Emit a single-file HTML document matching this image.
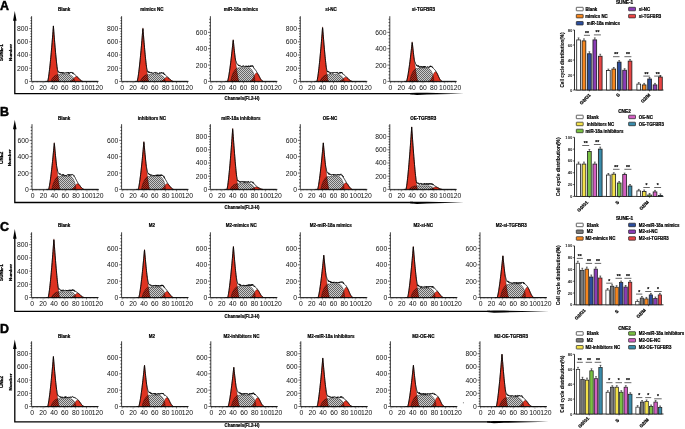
<!DOCTYPE html>
<html><head><meta charset="utf-8"><style>
html,body{margin:0;padding:0;background:#fff;width:685px;height:429px;overflow:hidden;}
svg text{font-family:"Liberation Sans", sans-serif;}
</style></head><body>
<svg width="685" height="429" viewBox="0 0 685 429" style="display:block;will-change:transform;font-family:&quot;Liberation Sans&quot;, sans-serif">
<defs><pattern id="hatch" width="2" height="2" patternUnits="userSpaceOnUse"><rect x="0" y="0" width="2" height="2" fill="rgba(0,0,0,0.2)"/><rect x="0" y="0" width="1" height="1" fill="rgba(0,0,0,0.5)"/><rect x="1" y="1" width="1" height="1" fill="rgba(0,0,0,0.5)"/></pattern></defs>
<rect width="685" height="429" fill="#fff"/>
<text x="-0.1" y="9.8" font-size="12.4" font-weight="bold" stroke="#000" stroke-width="0.5">A</text>
<path d="M14.8 17.1 V93.6 H413" fill="none" stroke="#000" stroke-width="1.3"/>
<path d="M14.8 11.1 L13.05 20.7 L16.55 20.7 Z" fill="#000"/>
<path d="M410 92.95 L417 92.75 L427 92.8 L464 93.65 L427 94.6 L417 95.05 L410 94.25 Z" fill="#000"/>
<text x="2.7" y="52.5" font-size="4.6" font-weight="bold" text-anchor="middle" transform="rotate(-90 2.7 52.5)" stroke="#000" stroke-width="0.25">SUNE-1</text>
<text x="11.5" y="52.5" font-size="4.4" font-weight="bold" text-anchor="middle" textLength="17" lengthAdjust="spacingAndGlyphs" transform="rotate(-90 11.5 52.5)" stroke="#000" stroke-width="0.2">Number</text>
<text x="242" y="100.3" font-size="4.9" font-weight="bold" text-anchor="middle" textLength="34.8" lengthAdjust="spacingAndGlyphs" stroke="#000" stroke-width="0.22">Channels(FL2-H)</text>
<path d="M47.5 81.4 L47.5 81.4 L47.65 81.33 L47.8 80.92 L47.94 80.34 L48.09 79.66 L48.24 78.88 L48.39 78.02 L48.53 77.1 L48.68 76.12 L48.83 75.09 L48.98 74 L49.12 72.87 L49.27 71.69 L49.42 70.47 L49.56 69.2 L49.71 67.9 L49.86 66.57 L50.01 65.19 L50.16 63.79 L50.3 62.35 L50.45 60.88 L50.6 59.37 L50.75 57.84 L50.89 56.28 L51.04 54.69 L51.19 53.07 L51.34 51.43 L51.48 49.76 L51.63 48.06 L51.78 46.34 L51.93 44.6 L52.07 42.83 L52.22 41.04 L52.37 39.22 L52.52 37.38 L52.66 35.52 L52.81 33.64 L52.96 31.74 L53.11 29.81 L53.25 27.87 L53.4 25.9 L53.55 27.87 L53.7 29.81 L53.84 31.74 L53.99 33.64 L54.14 35.52 L54.29 37.38 L54.43 39.22 L54.58 41.04 L54.73 42.83 L54.88 44.6 L55.02 46.34 L55.17 48.06 L55.32 49.76 L55.47 51.43 L55.61 53.07 L55.76 54.69 L55.91 56.28 L56.06 57.84 L56.2 59.37 L56.35 60.88 L56.5 62.35 L56.65 63.79 L56.79 65.19 L56.94 66.57 L57.09 67.9 L57.24 69.2 L57.38 70.47 L57.53 71.69 L57.68 72.87 L57.83 74 L57.97 75.09 L58.12 76.12 L58.27 77.1 L58.42 78.02 L58.56 78.88 L58.71 79.66 L58.86 80.34 L59.01 80.92 L59.15 81.33 L59.3 81.4 L59.3 81.4 Z" fill="#de3321" stroke="#4a140c" stroke-width="0.5"/>
<path d="M69.7 81.4 L69.7 81.4 L69.87 81.36 L70.03 81.31 L70.19 81.26 L70.36 81.2 L70.53 81.14 L70.69 81.07 L70.86 80.99 L71.02 80.91 L71.19 80.81 L71.35 80.71 L71.52 80.6 L71.68 80.48 L71.84 80.36 L72.01 80.22 L72.18 80.08 L72.34 79.93 L72.5 79.77 L72.67 79.61 L72.84 79.44 L73 79.26 L73.17 79.08 L73.33 78.89 L73.5 78.71 L73.66 78.52 L73.83 78.33 L73.99 78.15 L74.16 77.97 L74.32 77.79 L74.49 77.62 L74.65 77.46 L74.81 77.31 L74.98 77.17 L75.15 77.04 L75.31 76.93 L75.47 76.83 L75.64 76.75 L75.81 76.68 L75.97 76.64 L76.14 76.61 L76.3 76.6 L76.47 76.61 L76.63 76.64 L76.8 76.68 L76.96 76.75 L77.12 76.83 L77.29 76.93 L77.46 77.04 L77.62 77.17 L77.78 77.31 L77.95 77.46 L78.12 77.62 L78.28 77.79 L78.44 77.97 L78.61 78.15 L78.78 78.33 L78.94 78.52 L79.11 78.71 L79.27 78.89 L79.44 79.08 L79.6 79.26 L79.77 79.44 L79.93 79.61 L80.09 79.77 L80.26 79.93 L80.43 80.08 L80.59 80.22 L80.75 80.36 L80.92 80.48 L81.09 80.6 L81.25 80.71 L81.42 80.81 L81.58 80.91 L81.75 80.99 L81.91 81.07 L82.08 81.14 L82.24 81.2 L82.41 81.26 L82.57 81.31 L82.74 81.36 L82.9 81.4 L82.9 81.4 Z" fill="#de3321" stroke="#4a140c" stroke-width="0.5"/>
<path d="M51 81.4 L51 81.4 L51.3 80.4 L51.59 79.74 L51.89 79.19 L52.18 78.71 L52.48 78.27 L52.77 77.88 L53.07 77.52 L53.36 77.19 L53.66 76.88 L53.95 76.59 L54.25 76.33 L54.54 76.08 L54.84 75.86 L55.13 75.66 L55.43 75.48 L55.72 75.31 L56.02 75.17 L56.31 75.04 L56.61 74.93 L56.9 74.84 L57.2 74.77 L57.49 74.72 L57.79 74.68 L58.08 74.67 L58.38 74.65 L58.67 74.64 L58.97 74.63 L59.26 74.62 L59.56 74.61 L59.85 74.6 L60.15 74.59 L60.44 74.58 L60.73 74.57 L61.03 74.56 L61.33 74.55 L61.62 74.55 L61.92 74.54 L62.21 74.54 L62.51 74.53 L62.8 74.53 L63.09 74.52 L63.39 74.52 L63.69 74.51 L63.98 74.51 L64.28 74.51 L64.57 74.51 L64.87 74.51 L65.16 74.51 L65.46 74.51 L65.75 74.51 L66.05 74.52 L66.34 74.52 L66.64 74.52 L66.93 74.53 L67.22 74.53 L67.52 74.54 L67.81 74.54 L68.11 74.55 L68.41 74.56 L68.7 74.58 L69 74.62 L69.29 74.67 L69.59 74.75 L69.88 74.84 L70.18 74.95 L70.47 75.08 L70.77 75.22 L71.06 75.39 L71.35 75.58 L71.65 75.79 L71.94 76.03 L72.24 76.3 L72.53 76.59 L72.83 76.92 L73.12 77.3 L73.42 77.73 L73.72 78.23 L74.01 78.83 L74.31 79.63 L74.6 81.4 L74.6 81.4 Z" fill="url(#hatch)" stroke="#111" stroke-width="0.45"/>
<path d="M45.4 81.4 L45.62 81.4 L45.83 81.4 L46.05 81.4 L46.26 81.4 L46.48 81.4 L46.7 81.4 L46.91 81.4 L47.13 81.4 L47.35 81.4 L47.56 81.4 L47.78 80.98 L47.99 80.11 L48.21 79.03 L48.43 77.77 L48.64 76.38 L48.86 74.86 L49.07 73.24 L49.29 71.52 L49.51 69.71 L49.72 67.81 L49.94 65.83 L50.16 63.78 L50.37 61.66 L50.59 59.47 L50.8 57.22 L51.02 54.91 L51.24 52.53 L51.45 50.1 L51.67 47.62 L51.88 45.08 L52.1 42.49 L52.32 39.85 L52.53 37.16 L52.75 34.42 L52.97 31.63 L53.18 28.8 L53.4 25.93 L53.61 28.74 L53.83 31.57 L54.05 34.36 L54.26 37.1 L54.48 39.79 L54.69 42.43 L54.91 45.02 L55.13 47.55 L55.34 50.02 L55.56 52.43 L55.78 54.76 L55.99 56.99 L56.21 59.09 L56.42 61.16 L56.64 63.14 L56.86 64.98 L57.07 66.65 L57.29 68.12 L57.5 69.56 L57.72 70.71 L57.94 70.62 L58.15 71.81 L58.37 71.4 L58.59 71.79 L58.8 72.35 L59.02 71.84 L59.23 72.62 L59.45 72.19 L59.67 72.82 L59.88 72.91 L60.1 72.56 L60.31 72.12 L60.53 73.22 L60.75 73.2 L60.96 72.72 L61.18 72.27 L61.4 72.79 L61.61 73.04 L61.83 72.23 L62.04 73.53 L62.26 72.4 L62.48 73.19 L62.69 73.4 L62.91 73.44 L63.12 73.17 L63.34 72.46 L63.56 73.35 L63.77 72.79 L63.99 72.71 L64.21 73.08 L64.42 72.83 L64.64 73.51 L64.85 73.52 L65.07 73.31 L65.29 72.65 L65.5 73 L65.72 73.16 L65.93 72.78 L66.15 72.97 L66.37 73.18 L66.58 72.49 L66.8 72.62 L67.02 73.26 L67.23 72.8 L67.45 72.86 L67.66 72.37 L67.88 72.58 L68.1 73.2 L68.31 72.23 L68.53 73.43 L68.74 73.01 L68.96 72.54 L69.18 73.39 L69.39 72.92 L69.61 73.55 L69.83 72.65 L70.04 72.49 L70.26 72.73 L70.47 72.28 L70.69 73.03 L70.91 72.45 L71.12 72.55 L71.34 72.52 L71.55 72.67 L71.77 72.15 L71.99 72.06 L72.2 72.8 L72.42 72.65 L72.64 73.63 L72.85 72.88 L73.07 73.11 L73.28 72.79 L73.5 73.2 L73.72 74.12 L73.93 74.15 L74.15 74.16 L74.36 74.32 L74.58 74.48 L74.8 74.64 L75.01 74.8 L75.23 74.96 L75.45 75.12 L75.66 75.29 L75.88 75.47 L76.09 75.65 L76.31 75.85 L76.53 76.05 L76.74 76.27 L76.96 76.49 L77.17 76.71 L77.39 76.93 L77.61 77.14 L77.82 77.34 L78.04 77.55 L78.26 77.77 L78.47 78 L78.69 78.24 L78.9 78.48 L79.12 78.72 L79.34 78.97 L79.55 79.21 L79.77 79.44 L79.98 79.66 L80.2 79.87 L80.42 80.07 L80.63 80.26 L80.85 80.43 L81.07 80.59 L81.28 80.73 L81.5 80.86 L81.71 80.98 L81.93 81.08 L82.15 81.17 L82.36 81.25 L82.58 81.31 L82.79 81.37 L83.01 81.4 L83.23 81.4 L83.44 81.4 L83.66 81.4 L83.88 81.4 L84.09 81.4 L84.31 81.4 L84.52 81.4 L84.74 81.4 L84.96 81.4 L85.17 81.4 L85.39 81.4 L85.6 81.4 L85.82 81.4 L86.04 81.4 L86.25 81.4 L86.47 81.4 L86.69 81.4 L86.9 81.4 L87.12 81.4 L87.33 81.4 L87.55 81.4 L87.77 81.4 L87.98 81.4 L88.2 81.4 L88.41 81.4 L88.63 81.4 L88.85 81.4 L89.06 81.4 L89.28 81.4 L89.5 81.4 L89.71 81.4 L89.93 81.4 L90.14 81.4 L90.36 81.4 L90.58 81.4 L90.79 81.4 L91.01 81.4 L91.22 81.4 L91.44 81.4 L91.66 81.4 L91.87 81.4 L92.09 81.4 L92.31 81.4 L92.52 81.4 L92.74 81.4 L92.95 81.4 L93.17 81.4 L93.39 81.4 L93.6 81.4 L93.82 81.4 L94.03 81.4 L94.25 81.4 L94.47 81.4 L94.68 81.4 L94.9 81.4 L95.12 81.4 L95.33 81.4 L95.55 81.4 L95.76 81.4 L95.98 81.4 L96.2 81.4 L96.41 81.4 L96.63 81.4 L96.84 81.4 L97.06 81.4 L97.28 81.4 L97.49 81.4" fill="none" stroke="#000" stroke-width="0.85"/>
<path d="M31.6 16.2 V81.4 H98.6" fill="none" stroke="#000" stroke-width="0.75"/>
<path d="M29.2 81.4 h2.4 M30.3 78.76 h1.3 M30.3 76.12 h1.3 M30.3 73.48 h1.3 M30.3 70.84 h1.3 M29.2 68.2 h2.4 M30.3 65.56 h1.3 M30.3 62.92 h1.3 M30.3 60.28 h1.3 M30.3 57.64 h1.3 M29.2 55 h2.4 M30.3 52.36 h1.3 M30.3 49.72 h1.3 M30.3 47.08 h1.3 M30.3 44.44 h1.3 M29.2 41.8 h2.4 M30.3 39.16 h1.3 M30.3 36.52 h1.3 M30.3 33.88 h1.3 M30.3 31.24 h1.3 M29.2 28.6 h2.4 M30.3 25.96 h1.3 M30.3 23.32 h1.3 M30.3 20.68 h1.3 M30.3 18.04 h1.3 M32.2 81.4 v1.9 M33.56 81.4 v1.1 M34.92 81.4 v1.1 M36.28 81.4 v1.1 M37.64 81.4 v1.1 M38.99 81.4 v1.1 M40.35 81.4 v1.1 M41.71 81.4 v1.1 M43.07 81.4 v1.9 M44.43 81.4 v1.1 M45.79 81.4 v1.1 M47.15 81.4 v1.1 M48.51 81.4 v1.1 M49.86 81.4 v1.1 M51.22 81.4 v1.1 M52.58 81.4 v1.1 M53.94 81.4 v1.9 M55.3 81.4 v1.1 M56.66 81.4 v1.1 M58.02 81.4 v1.1 M59.38 81.4 v1.1 M60.73 81.4 v1.1 M62.09 81.4 v1.1 M63.45 81.4 v1.1 M64.81 81.4 v1.9 M66.17 81.4 v1.1 M67.53 81.4 v1.1 M68.89 81.4 v1.1 M70.25 81.4 v1.1 M71.6 81.4 v1.1 M72.96 81.4 v1.1 M74.32 81.4 v1.1 M75.68 81.4 v1.9 M77.04 81.4 v1.1 M78.4 81.4 v1.1 M79.76 81.4 v1.1 M81.12 81.4 v1.1 M82.47 81.4 v1.1 M83.83 81.4 v1.1 M85.19 81.4 v1.1 M86.55 81.4 v1.9 M87.91 81.4 v1.1 M89.27 81.4 v1.1 M90.63 81.4 v1.1 M91.98 81.4 v1.1 M93.34 81.4 v1.1 M94.7 81.4 v1.1 M96.06 81.4 v1.1 M97.42 81.4 v1.9" stroke="#000" stroke-width="0.6" fill="none"/>
<text x="28.4" y="83.85" font-size="6.8" text-anchor="end" fill="#111">0</text>
<text x="28.4" y="70.65" font-size="6.8" text-anchor="end" fill="#111">200</text>
<text x="28.4" y="57.45" font-size="6.8" text-anchor="end" fill="#111">400</text>
<text x="28.4" y="44.25" font-size="6.8" text-anchor="end" fill="#111">600</text>
<text x="28.4" y="31.05" font-size="6.8" text-anchor="end" fill="#111">800</text>
<text x="32.2" y="89.9" font-size="6.8" text-anchor="middle" fill="#111">0</text>
<text x="43.07" y="89.9" font-size="6.8" text-anchor="middle" fill="#111">20</text>
<text x="53.94" y="89.9" font-size="6.8" text-anchor="middle" fill="#111">40</text>
<text x="64.81" y="89.9" font-size="6.8" text-anchor="middle" fill="#111">60</text>
<text x="75.68" y="89.9" font-size="6.8" text-anchor="middle" fill="#111">80</text>
<text x="86.55" y="89.9" font-size="6.8" text-anchor="middle" fill="#111">100</text>
<text x="97.42" y="89.9" font-size="6.8" text-anchor="middle" fill="#111">120</text>
<text x="64.1" y="10.5" font-size="5" font-weight="bold" text-anchor="middle" textLength="12.25" lengthAdjust="spacingAndGlyphs" stroke="#000" stroke-width="0.22">Blank</text>
<path d="M137 81.4 L137 81.4 L137.15 81.34 L137.29 80.94 L137.44 80.38 L137.59 79.72 L137.74 78.97 L137.88 78.15 L138.03 77.26 L138.18 76.31 L138.33 75.32 L138.47 74.27 L138.62 73.18 L138.77 72.04 L138.92 70.86 L139.06 69.64 L139.21 68.39 L139.36 67.1 L139.51 65.78 L139.66 64.42 L139.8 63.03 L139.95 61.61 L140.1 60.17 L140.25 58.69 L140.39 57.18 L140.54 55.65 L140.69 54.09 L140.83 52.51 L140.98 50.9 L141.13 49.26 L141.28 47.61 L141.43 45.92 L141.57 44.22 L141.72 42.49 L141.87 40.74 L142.01 38.97 L142.16 37.18 L142.31 35.36 L142.46 33.53 L142.6 31.67 L142.75 29.8 L142.9 27.9 L143.05 29.8 L143.19 31.67 L143.34 33.53 L143.49 35.36 L143.64 37.18 L143.78 38.97 L143.93 40.74 L144.08 42.49 L144.23 44.22 L144.38 45.92 L144.52 47.61 L144.67 49.26 L144.82 50.9 L144.97 52.51 L145.11 54.09 L145.26 55.65 L145.41 57.18 L145.56 58.69 L145.7 60.17 L145.85 61.61 L146 63.03 L146.14 64.42 L146.29 65.78 L146.44 67.1 L146.59 68.39 L146.74 69.64 L146.88 70.86 L147.03 72.04 L147.18 73.18 L147.32 74.27 L147.47 75.32 L147.62 76.31 L147.77 77.26 L147.91 78.15 L148.06 78.97 L148.21 79.72 L148.36 80.38 L148.5 80.94 L148.65 81.34 L148.8 81.4 L148.8 81.4 Z" fill="#de3321" stroke="#4a140c" stroke-width="0.5"/>
<path d="M160.3 81.4 L160.3 81.4 L160.46 81.36 L160.63 81.32 L160.79 81.28 L160.96 81.23 L161.12 81.17 L161.29 81.11 L161.45 81.04 L161.62 80.97 L161.78 80.89 L161.95 80.8 L162.11 80.7 L162.28 80.6 L162.44 80.49 L162.61 80.37 L162.77 80.24 L162.94 80.11 L163.1 79.97 L163.27 79.83 L163.44 79.68 L163.6 79.53 L163.76 79.37 L163.93 79.21 L164.09 79.04 L164.26 78.88 L164.42 78.72 L164.59 78.56 L164.75 78.4 L164.92 78.24 L165.08 78.09 L165.25 77.95 L165.41 77.82 L165.58 77.7 L165.75 77.59 L165.91 77.49 L166.07 77.4 L166.24 77.33 L166.41 77.27 L166.57 77.23 L166.73 77.21 L166.9 77.2 L167.06 77.21 L167.23 77.23 L167.39 77.27 L167.56 77.33 L167.72 77.4 L167.89 77.49 L168.06 77.59 L168.22 77.7 L168.38 77.82 L168.55 77.95 L168.71 78.09 L168.88 78.24 L169.04 78.4 L169.21 78.56 L169.38 78.72 L169.54 78.88 L169.7 79.04 L169.87 79.21 L170.03 79.37 L170.2 79.53 L170.37 79.68 L170.53 79.83 L170.69 79.97 L170.86 80.11 L171.02 80.24 L171.19 80.37 L171.35 80.49 L171.52 80.6 L171.69 80.7 L171.85 80.8 L172.01 80.89 L172.18 80.97 L172.34 81.04 L172.51 81.11 L172.68 81.17 L172.84 81.23 L173 81.28 L173.17 81.32 L173.33 81.36 L173.5 81.4 L173.5 81.4 Z" fill="#de3321" stroke="#4a140c" stroke-width="0.5"/>
<path d="M140.5 81.4 L140.5 81.4 L140.81 80.37 L141.12 79.69 L141.43 79.12 L141.73 78.62 L142.04 78.18 L142.35 77.77 L142.66 77.41 L142.97 77.07 L143.28 76.76 L143.59 76.47 L143.9 76.2 L144.2 75.96 L144.51 75.74 L144.82 75.54 L145.13 75.36 L145.44 75.21 L145.75 75.07 L146.06 74.96 L146.37 74.86 L146.67 74.78 L146.98 74.73 L147.29 74.69 L147.6 74.67 L147.91 74.66 L148.22 74.65 L148.53 74.64 L148.84 74.63 L149.14 74.62 L149.45 74.6 L149.76 74.59 L150.07 74.59 L150.38 74.58 L150.69 74.57 L151 74.56 L151.31 74.55 L151.62 74.55 L151.92 74.54 L152.23 74.53 L152.54 74.53 L152.85 74.52 L153.16 74.52 L153.47 74.52 L153.78 74.51 L154.08 74.51 L154.39 74.51 L154.7 74.51 L155.01 74.51 L155.32 74.51 L155.63 74.51 L155.94 74.51 L156.25 74.52 L156.56 74.52 L156.86 74.52 L157.17 74.53 L157.48 74.53 L157.79 74.54 L158.1 74.54 L158.41 74.55 L158.72 74.56 L159.02 74.57 L159.33 74.59 L159.64 74.64 L159.95 74.7 L160.26 74.78 L160.57 74.88 L160.88 75 L161.19 75.14 L161.5 75.3 L161.8 75.49 L162.11 75.7 L162.42 75.93 L162.73 76.2 L163.04 76.5 L163.35 76.83 L163.66 77.21 L163.96 77.65 L164.27 78.16 L164.58 78.77 L164.89 79.58 L165.2 81.4 L165.2 81.4 Z" fill="url(#hatch)" stroke="#111" stroke-width="0.45"/>
<path d="M134.9 81.4 L135.12 81.4 L135.34 81.4 L135.55 81.4 L135.77 81.4 L135.99 81.4 L136.21 81.4 L136.43 81.4 L136.64 81.4 L136.86 81.4 L137.08 81.4 L137.3 80.92 L137.52 80.06 L137.73 78.98 L137.95 77.74 L138.17 76.37 L138.39 74.88 L138.61 73.29 L138.83 71.6 L139.04 69.82 L139.26 67.97 L139.48 66.03 L139.7 64.02 L139.92 61.95 L140.13 59.81 L140.35 57.6 L140.57 55.34 L140.79 53.02 L141.01 50.64 L141.22 48.21 L141.44 45.73 L141.66 43.19 L141.88 40.61 L142.1 37.98 L142.31 35.3 L142.53 32.58 L142.75 29.82 L142.97 28.79 L143.19 31.57 L143.41 34.31 L143.62 37 L143.84 39.65 L144.06 42.24 L144.28 44.79 L144.5 47.29 L144.71 49.73 L144.93 52.11 L145.15 54.41 L145.37 56.63 L145.59 58.73 L145.8 60.74 L146.02 62.69 L146.24 64.54 L146.46 66.23 L146.68 67.72 L146.89 68.98 L147.11 69.72 L147.33 71.31 L147.55 71.14 L147.77 71.83 L147.98 72.08 L148.2 72.29 L148.42 71.42 L148.64 72.44 L148.86 72.4 L149.07 72.32 L149.29 71.77 L149.51 72.99 L149.73 72.6 L149.95 72.58 L150.17 72.23 L150.38 72.44 L150.6 72.39 L150.82 73.21 L151.04 73.02 L151.26 73.1 L151.47 72.36 L151.69 72.26 L151.91 73.39 L152.13 73.35 L152.35 73.28 L152.56 73.27 L152.78 72.92 L153 72.78 L153.22 73.23 L153.44 73.59 L153.65 73.01 L153.87 73.08 L154.09 72.81 L154.31 72.27 L154.53 72.63 L154.75 72.88 L154.96 72.74 L155.18 72.65 L155.4 73.52 L155.62 72.34 L155.84 72.51 L156.05 72.38 L156.27 72.48 L156.49 73.05 L156.71 73.04 L156.93 73.46 L157.14 72.71 L157.36 73.51 L157.58 73.51 L157.8 73.31 L158.02 73.37 L158.23 73.12 L158.45 73.53 L158.67 73.6 L158.89 73.39 L159.11 73.46 L159.32 73.09 L159.54 73.56 L159.76 72.38 L159.98 72.74 L160.2 73.39 L160.41 73.24 L160.63 73.08 L160.85 73.03 L161.07 73.34 L161.29 72.3 L161.51 72.06 L161.72 72.75 L161.94 72.68 L162.16 73.23 L162.38 73.23 L162.6 72.96 L162.81 73.17 L163.03 72.51 L163.25 73.6 L163.47 73.96 L163.69 72.84 L163.9 73.62 L164.12 74.36 L164.34 74 L164.56 74.92 L164.78 74.46 L164.99 74.66 L165.21 74.85 L165.43 75.05 L165.65 75.24 L165.87 75.43 L166.08 75.63 L166.3 75.83 L166.52 76.03 L166.74 76.24 L166.96 76.45 L167.18 76.66 L167.39 76.88 L167.61 77.1 L167.83 77.32 L168.05 77.53 L168.27 77.72 L168.48 77.9 L168.7 78.08 L168.92 78.28 L169.14 78.49 L169.36 78.7 L169.57 78.91 L169.79 79.13 L170.01 79.34 L170.23 79.55 L170.45 79.76 L170.66 79.95 L170.88 80.13 L171.1 80.3 L171.32 80.46 L171.54 80.61 L171.75 80.74 L171.97 80.86 L172.19 80.97 L172.41 81.07 L172.63 81.15 L172.85 81.23 L173.06 81.29 L173.28 81.35 L173.5 81.4 L173.72 81.4 L173.94 81.4 L174.15 81.4 L174.37 81.4 L174.59 81.4 L174.81 81.4 L175.03 81.4 L175.24 81.4 L175.46 81.4 L175.68 81.4 L175.9 81.4 L176.12 81.4 L176.33 81.4 L176.55 81.4 L176.77 81.4 L176.99 81.4 L177.21 81.4 L177.43 81.4 L177.64 81.4 L177.86 81.4 L178.08 81.4 L178.3 81.4 L178.52 81.4 L178.73 81.4 L178.95 81.4 L179.17 81.4 L179.39 81.4 L179.61 81.4 L179.82 81.4 L180.04 81.4 L180.26 81.4 L180.48 81.4 L180.7 81.4 L180.91 81.4 L181.13 81.4 L181.35 81.4 L181.57 81.4 L181.79 81.4 L182 81.4 L182.22 81.4 L182.44 81.4 L182.66 81.4 L182.88 81.4 L183.09 81.4 L183.31 81.4 L183.53 81.4 L183.75 81.4 L183.97 81.4 L184.19 81.4 L184.4 81.4 L184.62 81.4 L184.84 81.4 L185.06 81.4 L185.28 81.4 L185.49 81.4 L185.71 81.4 L185.93 81.4 L186.15 81.4 L186.37 81.4 L186.58 81.4 L186.8 81.4 L187.02 81.4 L187.24 81.4 L187.46 81.4" fill="none" stroke="#000" stroke-width="0.85"/>
<path d="M121.6 16.2 V81.4 H188.6" fill="none" stroke="#000" stroke-width="0.75"/>
<path d="M119.2 81.4 h2.4 M120.3 78.76 h1.3 M120.3 76.12 h1.3 M120.3 73.48 h1.3 M120.3 70.84 h1.3 M119.2 68.2 h2.4 M120.3 65.56 h1.3 M120.3 62.92 h1.3 M120.3 60.28 h1.3 M120.3 57.64 h1.3 M119.2 55 h2.4 M120.3 52.36 h1.3 M120.3 49.72 h1.3 M120.3 47.08 h1.3 M120.3 44.44 h1.3 M119.2 41.8 h2.4 M120.3 39.16 h1.3 M120.3 36.52 h1.3 M120.3 33.88 h1.3 M120.3 31.24 h1.3 M119.2 28.6 h2.4 M120.3 25.96 h1.3 M120.3 23.32 h1.3 M120.3 20.68 h1.3 M120.3 18.04 h1.3 M122.2 81.4 v1.9 M123.56 81.4 v1.1 M124.92 81.4 v1.1 M126.28 81.4 v1.1 M127.63 81.4 v1.1 M128.99 81.4 v1.1 M130.35 81.4 v1.1 M131.71 81.4 v1.1 M133.07 81.4 v1.9 M134.43 81.4 v1.1 M135.79 81.4 v1.1 M137.15 81.4 v1.1 M138.5 81.4 v1.1 M139.86 81.4 v1.1 M141.22 81.4 v1.1 M142.58 81.4 v1.1 M143.94 81.4 v1.9 M145.3 81.4 v1.1 M146.66 81.4 v1.1 M148.02 81.4 v1.1 M149.38 81.4 v1.1 M150.73 81.4 v1.1 M152.09 81.4 v1.1 M153.45 81.4 v1.1 M154.81 81.4 v1.9 M156.17 81.4 v1.1 M157.53 81.4 v1.1 M158.89 81.4 v1.1 M160.25 81.4 v1.1 M161.6 81.4 v1.1 M162.96 81.4 v1.1 M164.32 81.4 v1.1 M165.68 81.4 v1.9 M167.04 81.4 v1.1 M168.4 81.4 v1.1 M169.76 81.4 v1.1 M171.11 81.4 v1.1 M172.47 81.4 v1.1 M173.83 81.4 v1.1 M175.19 81.4 v1.1 M176.55 81.4 v1.9 M177.91 81.4 v1.1 M179.27 81.4 v1.1 M180.63 81.4 v1.1 M181.98 81.4 v1.1 M183.34 81.4 v1.1 M184.7 81.4 v1.1 M186.06 81.4 v1.1 M187.42 81.4 v1.9" stroke="#000" stroke-width="0.6" fill="none"/>
<text x="118.4" y="83.85" font-size="6.8" text-anchor="end" fill="#111">0</text>
<text x="118.4" y="70.65" font-size="6.8" text-anchor="end" fill="#111">200</text>
<text x="118.4" y="57.45" font-size="6.8" text-anchor="end" fill="#111">400</text>
<text x="118.4" y="44.25" font-size="6.8" text-anchor="end" fill="#111">600</text>
<text x="118.4" y="31.05" font-size="6.8" text-anchor="end" fill="#111">800</text>
<text x="122.2" y="89.9" font-size="6.8" text-anchor="middle" fill="#111">0</text>
<text x="133.07" y="89.9" font-size="6.8" text-anchor="middle" fill="#111">20</text>
<text x="143.94" y="89.9" font-size="6.8" text-anchor="middle" fill="#111">40</text>
<text x="154.81" y="89.9" font-size="6.8" text-anchor="middle" fill="#111">60</text>
<text x="165.68" y="89.9" font-size="6.8" text-anchor="middle" fill="#111">80</text>
<text x="176.55" y="89.9" font-size="6.8" text-anchor="middle" fill="#111">100</text>
<text x="187.42" y="89.9" font-size="6.8" text-anchor="middle" fill="#111">120</text>
<text x="152" y="10.5" font-size="5" font-weight="bold" text-anchor="middle" textLength="23.26" lengthAdjust="spacingAndGlyphs" stroke="#000" stroke-width="0.22">mimics NC</text>
<path d="M227.3 81.4 L227.3 81.4 L227.45 81.35 L227.59 81.04 L227.74 80.6 L227.89 80.09 L228.04 79.5 L228.19 78.86 L228.33 78.16 L228.48 77.43 L228.63 76.65 L228.78 75.83 L228.92 74.97 L229.07 74.09 L229.22 73.17 L229.37 72.21 L229.51 71.24 L229.66 70.23 L229.81 69.19 L229.96 68.13 L230.1 67.05 L230.25 65.94 L230.4 64.81 L230.55 63.66 L230.69 62.48 L230.84 61.28 L230.99 60.07 L231.13 58.83 L231.28 57.57 L231.43 56.29 L231.58 55 L231.72 53.68 L231.87 52.35 L232.02 51 L232.17 49.63 L232.31 48.25 L232.46 46.85 L232.61 45.43 L232.76 44 L232.91 42.55 L233.05 41.08 L233.2 39.6 L233.35 41.08 L233.5 42.55 L233.64 44 L233.79 45.43 L233.94 46.85 L234.09 48.25 L234.23 49.63 L234.38 51 L234.53 52.35 L234.68 53.68 L234.82 55 L234.97 56.29 L235.12 57.57 L235.27 58.83 L235.41 60.07 L235.56 61.28 L235.71 62.48 L235.86 63.66 L236 64.81 L236.15 65.94 L236.3 67.05 L236.44 68.13 L236.59 69.19 L236.74 70.23 L236.89 71.24 L237.03 72.21 L237.18 73.17 L237.33 74.09 L237.48 74.97 L237.62 75.83 L237.77 76.65 L237.92 77.43 L238.07 78.16 L238.22 78.86 L238.36 79.5 L238.51 80.09 L238.66 80.6 L238.81 81.04 L238.95 81.35 L239.1 81.4 L239.1 81.4 Z" fill="#de3321" stroke="#4a140c" stroke-width="0.5"/>
<path d="M250 81.4 L250 81.4 L250.17 81.33 L250.33 81.25 L250.5 81.16 L250.66 81.06 L250.83 80.94 L250.99 80.82 L251.16 80.68 L251.32 80.54 L251.49 80.37 L251.65 80.2 L251.81 80 L251.98 79.8 L252.15 79.58 L252.31 79.34 L252.48 79.09 L252.64 78.83 L252.81 78.55 L252.97 78.26 L253.13 77.96 L253.3 77.65 L253.47 77.34 L253.63 77.01 L253.8 76.69 L253.96 76.36 L254.12 76.03 L254.29 75.71 L254.46 75.39 L254.62 75.08 L254.79 74.79 L254.95 74.51 L255.12 74.24 L255.28 74 L255.44 73.77 L255.61 73.57 L255.78 73.4 L255.94 73.26 L256.11 73.15 L256.27 73.07 L256.44 73.02 L256.6 73 L256.76 73.02 L256.93 73.07 L257.1 73.15 L257.26 73.26 L257.43 73.4 L257.59 73.57 L257.75 73.77 L257.92 74 L258.09 74.24 L258.25 74.51 L258.42 74.79 L258.58 75.08 L258.75 75.39 L258.91 75.71 L259.07 76.03 L259.24 76.36 L259.41 76.69 L259.57 77.01 L259.74 77.34 L259.9 77.65 L260.06 77.96 L260.23 78.26 L260.39 78.55 L260.56 78.83 L260.73 79.09 L260.89 79.34 L261.06 79.58 L261.22 79.8 L261.38 80 L261.55 80.2 L261.72 80.37 L261.88 80.54 L262.05 80.68 L262.21 80.82 L262.38 80.94 L262.54 81.06 L262.71 81.16 L262.87 81.25 L263.04 81.33 L263.2 81.4 L263.2 81.4 Z" fill="#de3321" stroke="#4a140c" stroke-width="0.5"/>
<path d="M230.8 81.4 L230.8 81.4 L231.1 79.37 L231.4 78.04 L231.7 76.92 L232 75.94 L232.31 75.06 L232.61 74.26 L232.91 73.53 L233.21 72.87 L233.51 72.24 L233.81 71.67 L234.11 71.14 L234.42 70.65 L234.72 70.21 L235.02 69.81 L235.32 69.45 L235.62 69.13 L235.92 68.85 L236.22 68.6 L236.52 68.4 L236.83 68.23 L237.13 68.1 L237.43 68.01 L237.73 67.96 L238.03 67.93 L238.33 67.9 L238.63 67.88 L238.93 67.86 L239.24 67.83 L239.54 67.81 L239.84 67.79 L240.14 67.77 L240.44 67.76 L240.74 67.74 L241.04 67.72 L241.34 67.71 L241.65 67.69 L241.95 67.68 L242.25 67.67 L242.55 67.66 L242.85 67.65 L243.15 67.64 L243.45 67.63 L243.75 67.63 L244.06 67.63 L244.36 67.62 L244.66 67.62 L244.96 67.62 L245.26 67.62 L245.56 67.62 L245.86 67.63 L246.16 67.63 L246.47 67.64 L246.77 67.64 L247.07 67.65 L247.37 67.66 L247.67 67.67 L247.97 67.69 L248.27 67.7 L248.57 67.71 L248.88 67.74 L249.18 67.81 L249.48 67.91 L249.78 68.05 L250.08 68.22 L250.38 68.43 L250.68 68.68 L250.98 68.97 L251.29 69.3 L251.59 69.68 L251.89 70.1 L252.19 70.57 L252.49 71.1 L252.79 71.7 L253.09 72.36 L253.39 73.12 L253.69 73.98 L254 74.99 L254.3 76.21 L254.6 77.82 L254.9 81.4 L254.9 81.4 Z" fill="url(#hatch)" stroke="#111" stroke-width="0.45"/>
<path d="M225.2 81.4 L225.41 81.4 L225.62 81.4 L225.84 81.4 L226.05 81.4 L226.26 81.4 L226.47 81.4 L226.69 81.4 L226.9 81.4 L227.11 81.4 L227.32 81.4 L227.54 81.18 L227.75 80.59 L227.96 79.82 L228.17 78.92 L228.38 77.91 L228.6 76.81 L228.81 75.63 L229.02 74.38 L229.23 73.06 L229.45 71.68 L229.66 70.24 L229.87 68.74 L230.08 67.19 L230.3 65.6 L230.51 63.95 L230.72 62.26 L230.93 60.52 L231.14 58.75 L231.36 56.93 L231.57 55.07 L231.78 53.17 L231.99 51.24 L232.21 49.27 L232.42 47.27 L232.63 45.23 L232.84 43.16 L233.06 41.05 L233.27 40.28 L233.48 42.4 L233.69 44.48 L233.9 46.53 L234.12 48.54 L234.33 50.51 L234.54 52.43 L234.75 54.27 L234.97 56.03 L235.18 57.64 L235.39 59.05 L235.6 60.16 L235.82 60.87 L236.03 61.21 L236.24 62.02 L236.45 62.74 L236.66 63.31 L236.88 63.75 L237.09 64.09 L237.3 64.31 L237.51 63.88 L237.73 64.21 L237.94 64.58 L238.15 65.31 L238.36 65.29 L238.58 65.69 L238.79 64.96 L239 65.41 L239.21 65.18 L239.42 65.93 L239.64 66.2 L239.85 65.49 L240.06 65.37 L240.27 65.67 L240.49 65.85 L240.7 65.95 L240.91 66.06 L241.12 66.78 L241.34 66.38 L241.55 66.6 L241.76 67.06 L241.97 67.06 L242.18 66.71 L242.4 66.74 L242.61 66.13 L242.82 65.76 L243.03 66.47 L243.25 65.79 L243.46 65.72 L243.67 65.76 L243.88 66.59 L244.1 66.79 L244.31 66.78 L244.52 66.82 L244.73 66.81 L244.94 66.23 L245.16 65.84 L245.37 65.92 L245.58 66.43 L245.79 66.19 L246.01 65.98 L246.22 66.98 L246.43 66.18 L246.64 65.83 L246.86 66 L247.07 66.05 L247.28 66.43 L247.49 66.85 L247.7 66 L247.92 66.63 L248.13 65.98 L248.34 65.74 L248.55 66.55 L248.77 66.54 L248.98 65.77 L249.19 66.09 L249.4 66.86 L249.62 66.92 L249.83 66.89 L250.04 65.83 L250.25 65.92 L250.46 66.8 L250.68 65.8 L250.89 65.53 L251.1 65.91 L251.31 66.27 L251.53 65.9 L251.74 66.41 L251.95 66.57 L252.16 65.3 L252.38 65.87 L252.59 66.21 L252.8 65.85 L253.01 66.79 L253.22 66.44 L253.44 66.79 L253.65 67.94 L253.86 68.18 L254.07 68.42 L254.29 68.79 L254.5 68.72 L254.71 69.01 L254.92 69.29 L255.14 69.57 L255.35 69.85 L255.56 70.13 L255.77 70.42 L255.98 70.71 L256.2 71.02 L256.41 71.35 L256.62 71.69 L256.83 72.04 L257.05 72.41 L257.26 72.79 L257.47 73.18 L257.68 73.56 L257.9 73.93 L258.11 74.28 L258.32 74.62 L258.53 75 L258.74 75.39 L258.96 75.8 L259.17 76.22 L259.38 76.64 L259.59 77.06 L259.81 77.47 L260.02 77.88 L260.23 78.26 L260.44 78.63 L260.66 78.98 L260.87 79.31 L261.08 79.61 L261.29 79.89 L261.5 80.14 L261.72 80.37 L261.93 80.58 L262.14 80.77 L262.35 80.93 L262.57 81.07 L262.78 81.2 L262.99 81.31 L263.2 81.4 L263.42 81.4 L263.63 81.4 L263.84 81.4 L264.05 81.4 L264.26 81.4 L264.48 81.4 L264.69 81.4 L264.9 81.4 L265.11 81.4 L265.33 81.4 L265.54 81.4 L265.75 81.4 L265.96 81.4 L266.18 81.4 L266.39 81.4 L266.6 81.4 L266.81 81.4 L267.02 81.4 L267.24 81.4 L267.45 81.4 L267.66 81.4 L267.87 81.4 L268.09 81.4 L268.3 81.4 L268.51 81.4 L268.72 81.4 L268.94 81.4 L269.15 81.4 L269.36 81.4 L269.57 81.4 L269.78 81.4 L270 81.4 L270.21 81.4 L270.42 81.4 L270.63 81.4 L270.85 81.4 L271.06 81.4 L271.27 81.4 L271.48 81.4 L271.7 81.4 L271.91 81.4 L272.12 81.4 L272.33 81.4 L272.54 81.4 L272.76 81.4 L272.97 81.4 L273.18 81.4 L273.39 81.4 L273.61 81.4 L273.82 81.4 L274.03 81.4 L274.24 81.4 L274.46 81.4 L274.67 81.4 L274.88 81.4 L275.09 81.4 L275.3 81.4 L275.52 81.4 L275.73 81.4 L275.94 81.4 L276.15 81.4 L276.37 81.4" fill="none" stroke="#000" stroke-width="0.85"/>
<path d="M210.4 16.2 V81.4 H277.4" fill="none" stroke="#000" stroke-width="0.75"/>
<path d="M208 81.4 h2.4 M209.1 78.13 h1.3 M209.1 74.86 h1.3 M209.1 71.59 h1.3 M209.1 68.32 h1.3 M208 65.05 h2.4 M209.1 61.78 h1.3 M209.1 58.51 h1.3 M209.1 55.24 h1.3 M209.1 51.97 h1.3 M208 48.7 h2.4 M209.1 45.43 h1.3 M209.1 42.16 h1.3 M209.1 38.89 h1.3 M209.1 35.62 h1.3 M208 32.35 h2.4 M209.1 29.08 h1.3 M209.1 25.81 h1.3 M209.1 22.54 h1.3 M209.1 19.27 h1.3 M211 81.4 v1.9 M212.36 81.4 v1.1 M213.72 81.4 v1.1 M215.08 81.4 v1.1 M216.44 81.4 v1.1 M217.79 81.4 v1.1 M219.15 81.4 v1.1 M220.51 81.4 v1.1 M221.87 81.4 v1.9 M223.23 81.4 v1.1 M224.59 81.4 v1.1 M225.95 81.4 v1.1 M227.31 81.4 v1.1 M228.66 81.4 v1.1 M230.02 81.4 v1.1 M231.38 81.4 v1.1 M232.74 81.4 v1.9 M234.1 81.4 v1.1 M235.46 81.4 v1.1 M236.82 81.4 v1.1 M238.18 81.4 v1.1 M239.53 81.4 v1.1 M240.89 81.4 v1.1 M242.25 81.4 v1.1 M243.61 81.4 v1.9 M244.97 81.4 v1.1 M246.33 81.4 v1.1 M247.69 81.4 v1.1 M249.05 81.4 v1.1 M250.4 81.4 v1.1 M251.76 81.4 v1.1 M253.12 81.4 v1.1 M254.48 81.4 v1.9 M255.84 81.4 v1.1 M257.2 81.4 v1.1 M258.56 81.4 v1.1 M259.92 81.4 v1.1 M261.27 81.4 v1.1 M262.63 81.4 v1.1 M263.99 81.4 v1.1 M265.35 81.4 v1.9 M266.71 81.4 v1.1 M268.07 81.4 v1.1 M269.43 81.4 v1.1 M270.78 81.4 v1.1 M272.14 81.4 v1.1 M273.5 81.4 v1.1 M274.86 81.4 v1.1 M276.22 81.4 v1.9" stroke="#000" stroke-width="0.6" fill="none"/>
<text x="207.2" y="83.85" font-size="6.8" text-anchor="end" fill="#111">0</text>
<text x="207.2" y="67.5" font-size="6.8" text-anchor="end" fill="#111">200</text>
<text x="207.2" y="51.15" font-size="6.8" text-anchor="end" fill="#111">400</text>
<text x="207.2" y="34.8" font-size="6.8" text-anchor="end" fill="#111">600</text>
<text x="211" y="89.9" font-size="6.8" text-anchor="middle" fill="#111">0</text>
<text x="221.87" y="89.9" font-size="6.8" text-anchor="middle" fill="#111">20</text>
<text x="232.74" y="89.9" font-size="6.8" text-anchor="middle" fill="#111">40</text>
<text x="243.61" y="89.9" font-size="6.8" text-anchor="middle" fill="#111">60</text>
<text x="254.48" y="89.9" font-size="6.8" text-anchor="middle" fill="#111">80</text>
<text x="265.35" y="89.9" font-size="6.8" text-anchor="middle" fill="#111">100</text>
<text x="276.22" y="89.9" font-size="6.8" text-anchor="middle" fill="#111">120</text>
<text x="240.9" y="10.5" font-size="5" font-weight="bold" text-anchor="middle" textLength="34.27" lengthAdjust="spacingAndGlyphs" stroke="#000" stroke-width="0.22">miR-18a mimics</text>
<path d="M316.7 81.4 L316.7 81.4 L316.85 81.33 L317 80.93 L317.14 80.36 L317.29 79.69 L317.44 78.92 L317.59 78.09 L317.73 77.18 L317.88 76.22 L318.03 75.2 L318.18 74.14 L318.32 73.02 L318.47 71.86 L318.62 70.66 L318.76 69.42 L318.91 68.15 L319.06 66.83 L319.21 65.49 L319.36 64.1 L319.5 62.69 L319.65 61.25 L319.8 59.77 L319.94 58.27 L320.09 56.73 L320.24 55.17 L320.39 53.58 L320.54 51.97 L320.68 50.33 L320.83 48.66 L320.98 46.97 L321.12 45.26 L321.27 43.52 L321.42 41.76 L321.57 39.98 L321.72 38.18 L321.86 36.35 L322.01 34.5 L322.16 32.63 L322.31 30.74 L322.45 28.83 L322.6 26.9 L322.75 28.83 L322.89 30.74 L323.04 32.63 L323.19 34.5 L323.34 36.35 L323.49 38.18 L323.63 39.98 L323.78 41.76 L323.93 43.52 L324.07 45.26 L324.22 46.97 L324.37 48.66 L324.52 50.33 L324.67 51.97 L324.81 53.58 L324.96 55.17 L325.11 56.73 L325.25 58.27 L325.4 59.77 L325.55 61.25 L325.7 62.69 L325.85 64.1 L325.99 65.49 L326.14 66.83 L326.29 68.15 L326.44 69.42 L326.58 70.66 L326.73 71.86 L326.88 73.02 L327.03 74.14 L327.17 75.2 L327.32 76.22 L327.47 77.18 L327.62 78.09 L327.76 78.92 L327.91 79.69 L328.06 80.36 L328.21 80.93 L328.35 81.33 L328.5 81.4 L328.5 81.4 Z" fill="#de3321" stroke="#4a140c" stroke-width="0.5"/>
<path d="M339.2 81.4 L339.2 81.4 L339.37 81.36 L339.53 81.32 L339.69 81.28 L339.86 81.23 L340.03 81.17 L340.19 81.11 L340.36 81.04 L340.52 80.97 L340.69 80.89 L340.85 80.8 L341.01 80.7 L341.18 80.6 L341.35 80.49 L341.51 80.37 L341.68 80.24 L341.84 80.11 L342 79.97 L342.17 79.83 L342.34 79.68 L342.5 79.53 L342.67 79.37 L342.83 79.21 L343 79.04 L343.16 78.88 L343.32 78.72 L343.49 78.56 L343.66 78.4 L343.82 78.24 L343.99 78.09 L344.15 77.95 L344.31 77.82 L344.48 77.7 L344.64 77.59 L344.81 77.49 L344.98 77.4 L345.14 77.33 L345.31 77.27 L345.47 77.23 L345.63 77.21 L345.8 77.2 L345.97 77.21 L346.13 77.23 L346.3 77.27 L346.46 77.33 L346.62 77.4 L346.79 77.49 L346.96 77.59 L347.12 77.7 L347.29 77.82 L347.45 77.95 L347.62 78.09 L347.78 78.24 L347.94 78.4 L348.11 78.56 L348.28 78.72 L348.44 78.88 L348.61 79.04 L348.77 79.21 L348.94 79.37 L349.1 79.53 L349.26 79.68 L349.43 79.83 L349.6 79.97 L349.76 80.11 L349.93 80.24 L350.09 80.37 L350.25 80.49 L350.42 80.6 L350.59 80.7 L350.75 80.8 L350.92 80.89 L351.08 80.97 L351.25 81.04 L351.41 81.11 L351.58 81.17 L351.74 81.23 L351.91 81.28 L352.07 81.32 L352.24 81.36 L352.4 81.4 L352.4 81.4 Z" fill="#de3321" stroke="#4a140c" stroke-width="0.5"/>
<path d="M320.2 81.4 L320.2 81.4 L320.5 80.39 L320.8 79.73 L321.1 79.17 L321.4 78.68 L321.69 78.25 L321.99 77.85 L322.29 77.49 L322.59 77.16 L322.89 76.84 L323.19 76.56 L323.49 76.29 L323.79 76.05 L324.08 75.83 L324.38 75.63 L324.68 75.44 L324.98 75.28 L325.28 75.14 L325.58 75.02 L325.88 74.91 L326.18 74.83 L326.47 74.76 L326.77 74.71 L327.07 74.68 L327.37 74.67 L327.67 74.65 L327.97 74.64 L328.27 74.63 L328.56 74.62 L328.86 74.61 L329.16 74.6 L329.46 74.59 L329.76 74.58 L330.06 74.57 L330.36 74.56 L330.66 74.55 L330.96 74.55 L331.25 74.54 L331.55 74.53 L331.85 74.53 L332.15 74.52 L332.45 74.52 L332.75 74.52 L333.05 74.51 L333.35 74.51 L333.64 74.51 L333.94 74.51 L334.24 74.51 L334.54 74.51 L334.84 74.51 L335.14 74.51 L335.44 74.52 L335.74 74.52 L336.03 74.52 L336.33 74.53 L336.63 74.53 L336.93 74.54 L337.23 74.54 L337.53 74.55 L337.83 74.56 L338.12 74.57 L338.42 74.61 L338.72 74.66 L339.02 74.73 L339.32 74.82 L339.62 74.93 L339.92 75.05 L340.22 75.2 L340.51 75.37 L340.81 75.55 L341.11 75.77 L341.41 76 L341.71 76.27 L342.01 76.57 L342.31 76.9 L342.61 77.28 L342.91 77.71 L343.2 78.21 L343.5 78.82 L343.8 79.62 L344.1 81.4 L344.1 81.4 Z" fill="url(#hatch)" stroke="#111" stroke-width="0.45"/>
<path d="M314.6 81.4 L314.81 81.4 L315.03 81.4 L315.24 81.4 L315.46 81.4 L315.67 81.4 L315.89 81.4 L316.1 81.4 L316.31 81.4 L316.53 81.4 L316.74 81.4 L316.96 81.05 L317.17 80.24 L317.38 79.2 L317.6 78 L317.81 76.66 L318.03 75.2 L318.24 73.64 L318.46 71.97 L318.67 70.22 L318.88 68.39 L319.1 66.48 L319.31 64.5 L319.53 62.45 L319.74 60.33 L319.96 58.15 L320.17 55.92 L320.38 53.62 L320.6 51.27 L320.81 48.86 L321.03 46.4 L321.24 43.89 L321.46 41.34 L321.67 38.73 L321.88 36.08 L322.1 33.39 L322.31 30.65 L322.53 27.86 L322.74 28.74 L322.96 31.51 L323.17 34.24 L323.38 36.92 L323.6 39.56 L323.81 42.14 L324.03 44.68 L324.24 47.17 L324.45 49.6 L324.67 51.97 L324.88 54.27 L325.1 56.47 L325.31 58.57 L325.53 60.59 L325.74 62.55 L325.95 64.39 L326.17 66.09 L326.38 67.6 L326.6 68.87 L326.81 69.76 L327.03 70.93 L327.24 71.17 L327.45 71.86 L327.67 70.95 L327.88 71.87 L328.1 71.85 L328.31 71.79 L328.53 71.46 L328.74 72.26 L328.95 71.68 L329.17 72.38 L329.38 72.46 L329.6 72.59 L329.81 73.41 L330.02 72.94 L330.24 73.34 L330.45 73.59 L330.67 72.48 L330.88 73.36 L331.1 72.94 L331.31 72.58 L331.52 72.82 L331.74 73.14 L331.95 72.87 L332.17 72.82 L332.38 72.5 L332.6 73.45 L332.81 72.82 L333.02 73.25 L333.24 73.21 L333.45 72.52 L333.67 72.89 L333.88 72.81 L334.1 72.54 L334.31 72.32 L334.52 72.98 L334.74 72.74 L334.95 72.89 L335.17 72.88 L335.38 72.63 L335.59 72.97 L335.81 72.85 L336.02 72.93 L336.24 72.28 L336.45 72.62 L336.67 72.37 L336.88 72.28 L337.09 73.24 L337.31 72.82 L337.52 72.28 L337.74 72.42 L337.95 73.41 L338.17 73.43 L338.38 72.98 L338.59 73.5 L338.81 73.26 L339.02 73.5 L339.24 72.66 L339.45 72.48 L339.67 72.3 L339.88 73.31 L340.09 72.5 L340.31 72.54 L340.52 73.23 L340.74 72.15 L340.95 71.99 L341.16 73.05 L341.38 72.07 L341.59 72.93 L341.81 72.91 L342.02 72.35 L342.24 72.72 L342.45 73.83 L342.66 73.64 L342.88 73.71 L343.09 74.15 L343.31 74.55 L343.52 74.32 L343.74 74.51 L343.95 74.71 L344.16 74.9 L344.38 75.09 L344.59 75.28 L344.81 75.47 L345.02 75.66 L345.24 75.85 L345.45 76.05 L345.66 76.26 L345.88 76.47 L346.09 76.68 L346.31 76.9 L346.52 77.11 L346.73 77.33 L346.95 77.53 L347.16 77.72 L347.38 77.89 L347.59 78.07 L347.81 78.27 L348.02 78.47 L348.23 78.68 L348.45 78.89 L348.66 79.1 L348.88 79.31 L349.09 79.52 L349.31 79.72 L349.52 79.91 L349.73 80.09 L349.95 80.26 L350.16 80.42 L350.38 80.57 L350.59 80.71 L350.81 80.83 L351.02 80.94 L351.23 81.04 L351.45 81.13 L351.66 81.2 L351.88 81.27 L352.09 81.33 L352.3 81.38 L352.52 81.4 L352.73 81.4 L352.95 81.4 L353.16 81.4 L353.38 81.4 L353.59 81.4 L353.8 81.4 L354.02 81.4 L354.23 81.4 L354.45 81.4 L354.66 81.4 L354.88 81.4 L355.09 81.4 L355.3 81.4 L355.52 81.4 L355.73 81.4 L355.95 81.4 L356.16 81.4 L356.38 81.4 L356.59 81.4 L356.8 81.4 L357.02 81.4 L357.23 81.4 L357.45 81.4 L357.66 81.4 L357.87 81.4 L358.09 81.4 L358.3 81.4 L358.52 81.4 L358.73 81.4 L358.95 81.4 L359.16 81.4 L359.37 81.4 L359.59 81.4 L359.8 81.4 L360.02 81.4 L360.23 81.4 L360.45 81.4 L360.66 81.4 L360.87 81.4 L361.09 81.4 L361.3 81.4 L361.52 81.4 L361.73 81.4 L361.95 81.4 L362.16 81.4 L362.37 81.4 L362.59 81.4 L362.8 81.4 L363.02 81.4 L363.23 81.4 L363.44 81.4 L363.66 81.4 L363.87 81.4 L364.09 81.4 L364.3 81.4 L364.52 81.4 L364.73 81.4 L364.94 81.4 L365.16 81.4 L365.37 81.4 L365.59 81.4 L365.8 81.4 L366.02 81.4 L366.23 81.4" fill="none" stroke="#000" stroke-width="0.85"/>
<path d="M300.3 16.2 V81.4 H367.3" fill="none" stroke="#000" stroke-width="0.75"/>
<path d="M297.9 81.4 h2.4 M299 78.76 h1.3 M299 76.12 h1.3 M299 73.48 h1.3 M299 70.84 h1.3 M297.9 68.2 h2.4 M299 65.56 h1.3 M299 62.92 h1.3 M299 60.28 h1.3 M299 57.64 h1.3 M297.9 55 h2.4 M299 52.36 h1.3 M299 49.72 h1.3 M299 47.08 h1.3 M299 44.44 h1.3 M297.9 41.8 h2.4 M299 39.16 h1.3 M299 36.52 h1.3 M299 33.88 h1.3 M299 31.24 h1.3 M297.9 28.6 h2.4 M299 25.96 h1.3 M299 23.32 h1.3 M299 20.68 h1.3 M299 18.04 h1.3 M300.9 81.4 v1.9 M302.26 81.4 v1.1 M303.62 81.4 v1.1 M304.98 81.4 v1.1 M306.34 81.4 v1.1 M307.69 81.4 v1.1 M309.05 81.4 v1.1 M310.41 81.4 v1.1 M311.77 81.4 v1.9 M313.13 81.4 v1.1 M314.49 81.4 v1.1 M315.85 81.4 v1.1 M317.21 81.4 v1.1 M318.56 81.4 v1.1 M319.92 81.4 v1.1 M321.28 81.4 v1.1 M322.64 81.4 v1.9 M324 81.4 v1.1 M325.36 81.4 v1.1 M326.72 81.4 v1.1 M328.08 81.4 v1.1 M329.43 81.4 v1.1 M330.79 81.4 v1.1 M332.15 81.4 v1.1 M333.51 81.4 v1.9 M334.87 81.4 v1.1 M336.23 81.4 v1.1 M337.59 81.4 v1.1 M338.95 81.4 v1.1 M340.3 81.4 v1.1 M341.66 81.4 v1.1 M343.02 81.4 v1.1 M344.38 81.4 v1.9 M345.74 81.4 v1.1 M347.1 81.4 v1.1 M348.46 81.4 v1.1 M349.82 81.4 v1.1 M351.17 81.4 v1.1 M352.53 81.4 v1.1 M353.89 81.4 v1.1 M355.25 81.4 v1.9 M356.61 81.4 v1.1 M357.97 81.4 v1.1 M359.33 81.4 v1.1 M360.69 81.4 v1.1 M362.04 81.4 v1.1 M363.4 81.4 v1.1 M364.76 81.4 v1.1 M366.12 81.4 v1.9" stroke="#000" stroke-width="0.6" fill="none"/>
<text x="297.1" y="83.85" font-size="6.8" text-anchor="end" fill="#111">0</text>
<text x="297.1" y="70.65" font-size="6.8" text-anchor="end" fill="#111">200</text>
<text x="297.1" y="57.45" font-size="6.8" text-anchor="end" fill="#111">400</text>
<text x="297.1" y="44.25" font-size="6.8" text-anchor="end" fill="#111">600</text>
<text x="297.1" y="31.05" font-size="6.8" text-anchor="end" fill="#111">800</text>
<text x="300.9" y="89.9" font-size="6.8" text-anchor="middle" fill="#111">0</text>
<text x="311.77" y="89.9" font-size="6.8" text-anchor="middle" fill="#111">20</text>
<text x="322.64" y="89.9" font-size="6.8" text-anchor="middle" fill="#111">40</text>
<text x="333.51" y="89.9" font-size="6.8" text-anchor="middle" fill="#111">60</text>
<text x="344.38" y="89.9" font-size="6.8" text-anchor="middle" fill="#111">80</text>
<text x="355.25" y="89.9" font-size="6.8" text-anchor="middle" fill="#111">100</text>
<text x="366.12" y="89.9" font-size="6.8" text-anchor="middle" fill="#111">120</text>
<text x="331" y="10.5" font-size="5" font-weight="bold" text-anchor="middle" textLength="11.75" lengthAdjust="spacingAndGlyphs" stroke="#000" stroke-width="0.22">si-NC</text>
<path d="M406.3 81.4 L406.3 81.4 L406.45 81.35 L406.6 81.06 L406.74 80.65 L406.89 80.15 L407.04 79.6 L407.19 78.99 L407.33 78.34 L407.48 77.64 L407.63 76.9 L407.78 76.12 L407.92 75.31 L408.07 74.47 L408.22 73.6 L408.37 72.7 L408.51 71.77 L408.66 70.82 L408.81 69.84 L408.96 68.83 L409.1 67.81 L409.25 66.76 L409.4 65.68 L409.55 64.59 L409.69 63.48 L409.84 62.34 L409.99 61.19 L410.13 60.02 L410.28 58.82 L410.43 57.61 L410.58 56.39 L410.73 55.14 L410.87 53.88 L411.02 52.6 L411.17 51.3 L411.31 49.99 L411.46 48.67 L411.61 47.32 L411.76 45.96 L411.91 44.59 L412.05 43.2 L412.2 41.8 L412.35 43.2 L412.5 44.59 L412.64 45.96 L412.79 47.32 L412.94 48.67 L413.09 49.99 L413.23 51.3 L413.38 52.6 L413.53 53.88 L413.68 55.14 L413.82 56.39 L413.97 57.61 L414.12 58.82 L414.26 60.02 L414.41 61.19 L414.56 62.34 L414.71 63.48 L414.86 64.59 L415 65.68 L415.15 66.76 L415.3 67.81 L415.44 68.83 L415.59 69.84 L415.74 70.82 L415.89 71.77 L416.04 72.7 L416.18 73.6 L416.33 74.47 L416.48 75.31 L416.62 76.12 L416.77 76.9 L416.92 77.64 L417.07 78.34 L417.22 78.99 L417.36 79.6 L417.51 80.15 L417.66 80.65 L417.81 81.06 L417.95 81.35 L418.1 81.4 L418.1 81.4 Z" fill="#de3321" stroke="#4a140c" stroke-width="0.5"/>
<path d="M428.9 81.4 L428.9 81.4 L429.06 81.31 L429.23 81.22 L429.39 81.12 L429.56 81.01 L429.73 80.88 L429.89 80.74 L430.06 80.58 L430.22 80.41 L430.38 80.23 L430.55 80.02 L430.72 79.8 L430.88 79.57 L431.05 79.31 L431.21 79.05 L431.38 78.76 L431.54 78.46 L431.71 78.14 L431.87 77.81 L432.04 77.47 L432.2 77.12 L432.37 76.76 L432.53 76.39 L432.69 76.01 L432.86 75.64 L433.03 75.27 L433.19 74.9 L433.36 74.53 L433.52 74.18 L433.69 73.84 L433.85 73.52 L434.01 73.22 L434.18 72.94 L434.35 72.68 L434.51 72.46 L434.68 72.26 L434.84 72.1 L435 71.97 L435.17 71.88 L435.34 71.82 L435.5 71.8 L435.67 71.82 L435.83 71.88 L436 71.97 L436.16 72.1 L436.33 72.26 L436.49 72.46 L436.66 72.68 L436.82 72.94 L436.99 73.22 L437.15 73.52 L437.31 73.84 L437.48 74.18 L437.64 74.53 L437.81 74.9 L437.98 75.27 L438.14 75.64 L438.31 76.01 L438.47 76.39 L438.63 76.76 L438.8 77.12 L438.97 77.47 L439.13 77.81 L439.3 78.14 L439.46 78.46 L439.62 78.76 L439.79 79.05 L439.96 79.31 L440.12 79.57 L440.29 79.8 L440.45 80.02 L440.62 80.23 L440.78 80.41 L440.94 80.58 L441.11 80.74 L441.28 80.88 L441.44 81.01 L441.61 81.12 L441.77 81.22 L441.94 81.31 L442.1 81.4 L442.1 81.4 Z" fill="#de3321" stroke="#4a140c" stroke-width="0.5"/>
<path d="M409.8 81.4 L409.8 81.4 L410.1 79.45 L410.4 78.18 L410.7 77.11 L411 76.16 L411.3 75.32 L411.6 74.55 L411.9 73.86 L412.2 73.22 L412.5 72.62 L412.8 72.06 L413.1 71.55 L413.4 71.09 L413.7 70.66 L414 70.27 L414.3 69.93 L414.6 69.62 L414.9 69.35 L415.2 69.11 L415.5 68.91 L415.8 68.75 L416.1 68.62 L416.4 68.53 L416.7 68.47 L417 68.45 L417.3 68.42 L417.6 68.4 L417.9 68.38 L418.2 68.36 L418.5 68.34 L418.8 68.32 L419.1 68.3 L419.4 68.28 L419.7 68.26 L420 68.25 L420.3 68.23 L420.6 68.22 L420.9 68.21 L421.2 68.2 L421.5 68.19 L421.8 68.18 L422.1 68.17 L422.4 68.16 L422.7 68.16 L423 68.15 L423.3 68.15 L423.6 68.15 L423.9 68.15 L424.2 68.15 L424.5 68.15 L424.8 68.16 L425.1 68.16 L425.4 68.17 L425.7 68.17 L426 68.18 L426.3 68.19 L426.6 68.2 L426.9 68.21 L427.2 68.23 L427.5 68.24 L427.8 68.27 L428.1 68.34 L428.4 68.43 L428.7 68.57 L429 68.74 L429.3 68.94 L429.6 69.18 L429.9 69.46 L430.2 69.78 L430.5 70.14 L430.8 70.55 L431.1 71.01 L431.4 71.52 L431.7 72.09 L432 72.73 L432.3 73.45 L432.6 74.28 L432.9 75.25 L433.2 76.42 L433.5 77.96 L433.8 81.4 L433.8 81.4 Z" fill="url(#hatch)" stroke="#111" stroke-width="0.45"/>
<path d="M404.2 81.4 L404.41 81.4 L404.63 81.4 L404.84 81.4 L405.06 81.4 L405.27 81.4 L405.48 81.4 L405.7 81.4 L405.91 81.4 L406.12 81.4 L406.34 81.4 L406.55 81.16 L406.77 80.57 L406.98 79.82 L407.19 78.95 L407.41 77.98 L407.62 76.93 L407.84 75.79 L408.05 74.59 L408.26 73.32 L408.48 72 L408.69 70.61 L408.9 69.18 L409.12 67.69 L409.33 66.16 L409.55 64.58 L409.76 62.96 L409.97 61.3 L410.19 59.59 L410.4 57.85 L410.62 56.07 L410.83 54.25 L411.04 52.4 L411.26 50.51 L411.47 48.59 L411.68 46.64 L411.9 44.65 L412.11 42.64 L412.33 43 L412.54 45.01 L412.75 46.99 L412.97 48.93 L413.18 50.84 L413.4 52.7 L413.61 54.51 L413.82 56.24 L414.04 57.86 L414.25 59.32 L414.46 60.54 L414.68 61.41 L414.89 61.85 L415.11 62.28 L415.32 62.99 L415.53 63.6 L415.75 64.08 L415.96 64.45 L416.18 64.73 L416.39 65.21 L416.6 64.82 L416.82 65.95 L417.03 65.33 L417.24 65.62 L417.46 66.33 L417.67 66.01 L417.89 65.72 L418.1 65.99 L418.31 66.74 L418.53 65.57 L418.74 65.96 L418.96 65.83 L419.17 67.16 L419.38 67.05 L419.6 67.49 L419.81 66.51 L420.02 67.22 L420.24 67.42 L420.45 67.01 L420.67 66.32 L420.88 66.45 L421.09 67.24 L421.31 67.39 L421.52 66.31 L421.74 66.8 L421.95 66.62 L422.16 67.47 L422.38 67.52 L422.59 66.64 L422.8 67 L423.02 67.5 L423.23 66.29 L423.45 66.71 L423.66 66.48 L423.87 67.48 L424.09 66.4 L424.3 67.51 L424.52 66.39 L424.73 66.96 L424.94 67.13 L425.16 66.83 L425.37 66.3 L425.58 67.22 L425.8 67.42 L426.01 66.86 L426.23 67.27 L426.44 67.45 L426.65 67.37 L426.87 67.53 L427.08 67.32 L427.3 67.16 L427.51 67.17 L427.72 66.54 L427.94 67.19 L428.15 66.9 L428.36 67.35 L428.58 67.11 L428.79 67.57 L429.01 67.23 L429.22 67.51 L429.43 66.45 L429.65 66.64 L429.86 67.08 L430.08 66.6 L430.29 65.87 L430.5 66.92 L430.72 65.86 L430.93 66.4 L431.14 66.37 L431.36 66 L431.57 66.77 L431.79 66.79 L432 66.74 L432.21 66.55 L432.43 67.67 L432.64 67.21 L432.86 67.61 L433.07 67.93 L433.28 68.33 L433.5 68.54 L433.71 68.73 L433.92 68.93 L434.14 69.12 L434.35 69.31 L434.57 69.52 L434.78 69.73 L434.99 69.97 L435.21 70.23 L435.42 70.51 L435.64 70.82 L435.85 71.16 L436.06 71.52 L436.28 71.9 L436.49 72.3 L436.7 72.7 L436.92 73.1 L437.13 73.49 L437.35 73.91 L437.56 74.35 L437.77 74.82 L437.99 75.3 L438.2 75.78 L438.42 76.26 L438.63 76.74 L438.84 77.21 L439.06 77.66 L439.27 78.09 L439.48 78.5 L439.7 78.89 L439.91 79.25 L440.13 79.58 L440.34 79.88 L440.55 80.15 L440.77 80.4 L440.98 80.62 L441.2 80.81 L441.41 80.98 L441.62 81.13 L441.84 81.26 L442.05 81.37 L442.26 81.4 L442.48 81.4 L442.69 81.4 L442.91 81.4 L443.12 81.4 L443.33 81.4 L443.55 81.4 L443.76 81.4 L443.98 81.4 L444.19 81.4 L444.4 81.4 L444.62 81.4 L444.83 81.4 L445.04 81.4 L445.26 81.4 L445.47 81.4 L445.69 81.4 L445.9 81.4 L446.11 81.4 L446.33 81.4 L446.54 81.4 L446.76 81.4 L446.97 81.4 L447.18 81.4 L447.4 81.4 L447.61 81.4 L447.82 81.4 L448.04 81.4 L448.25 81.4 L448.47 81.4 L448.68 81.4 L448.89 81.4 L449.11 81.4 L449.32 81.4 L449.54 81.4 L449.75 81.4 L449.96 81.4 L450.18 81.4 L450.39 81.4 L450.6 81.4 L450.82 81.4 L451.03 81.4 L451.25 81.4 L451.46 81.4 L451.67 81.4 L451.89 81.4 L452.1 81.4 L452.32 81.4 L452.53 81.4 L452.74 81.4 L452.96 81.4 L453.17 81.4 L453.38 81.4 L453.6 81.4 L453.81 81.4 L454.03 81.4 L454.24 81.4 L454.45 81.4 L454.67 81.4 L454.88 81.4 L455.1 81.4 L455.31 81.4 L455.52 81.4 L455.74 81.4" fill="none" stroke="#000" stroke-width="0.85"/>
<path d="M389.8 16.2 V81.4 H456.8" fill="none" stroke="#000" stroke-width="0.75"/>
<path d="M387.4 81.4 h2.4 M388.5 78.13 h1.3 M388.5 74.86 h1.3 M388.5 71.59 h1.3 M388.5 68.32 h1.3 M387.4 65.05 h2.4 M388.5 61.78 h1.3 M388.5 58.51 h1.3 M388.5 55.24 h1.3 M388.5 51.97 h1.3 M387.4 48.7 h2.4 M388.5 45.43 h1.3 M388.5 42.16 h1.3 M388.5 38.89 h1.3 M388.5 35.62 h1.3 M387.4 32.35 h2.4 M388.5 29.08 h1.3 M388.5 25.81 h1.3 M388.5 22.54 h1.3 M388.5 19.27 h1.3 M390.4 81.4 v1.9 M391.76 81.4 v1.1 M393.12 81.4 v1.1 M394.48 81.4 v1.1 M395.84 81.4 v1.1 M397.19 81.4 v1.1 M398.55 81.4 v1.1 M399.91 81.4 v1.1 M401.27 81.4 v1.9 M402.63 81.4 v1.1 M403.99 81.4 v1.1 M405.35 81.4 v1.1 M406.71 81.4 v1.1 M408.06 81.4 v1.1 M409.42 81.4 v1.1 M410.78 81.4 v1.1 M412.14 81.4 v1.9 M413.5 81.4 v1.1 M414.86 81.4 v1.1 M416.22 81.4 v1.1 M417.58 81.4 v1.1 M418.93 81.4 v1.1 M420.29 81.4 v1.1 M421.65 81.4 v1.1 M423.01 81.4 v1.9 M424.37 81.4 v1.1 M425.73 81.4 v1.1 M427.09 81.4 v1.1 M428.45 81.4 v1.1 M429.8 81.4 v1.1 M431.16 81.4 v1.1 M432.52 81.4 v1.1 M433.88 81.4 v1.9 M435.24 81.4 v1.1 M436.6 81.4 v1.1 M437.96 81.4 v1.1 M439.32 81.4 v1.1 M440.67 81.4 v1.1 M442.03 81.4 v1.1 M443.39 81.4 v1.1 M444.75 81.4 v1.9 M446.11 81.4 v1.1 M447.47 81.4 v1.1 M448.83 81.4 v1.1 M450.19 81.4 v1.1 M451.54 81.4 v1.1 M452.9 81.4 v1.1 M454.26 81.4 v1.1 M455.62 81.4 v1.9" stroke="#000" stroke-width="0.6" fill="none"/>
<text x="386.6" y="83.85" font-size="6.8" text-anchor="end" fill="#111">0</text>
<text x="386.6" y="67.5" font-size="6.8" text-anchor="end" fill="#111">200</text>
<text x="386.6" y="51.15" font-size="6.8" text-anchor="end" fill="#111">400</text>
<text x="386.6" y="34.8" font-size="6.8" text-anchor="end" fill="#111">600</text>
<text x="390.4" y="89.9" font-size="6.8" text-anchor="middle" fill="#111">0</text>
<text x="401.27" y="89.9" font-size="6.8" text-anchor="middle" fill="#111">20</text>
<text x="412.14" y="89.9" font-size="6.8" text-anchor="middle" fill="#111">40</text>
<text x="423.01" y="89.9" font-size="6.8" text-anchor="middle" fill="#111">60</text>
<text x="433.88" y="89.9" font-size="6.8" text-anchor="middle" fill="#111">80</text>
<text x="444.75" y="89.9" font-size="6.8" text-anchor="middle" fill="#111">100</text>
<text x="455.62" y="89.9" font-size="6.8" text-anchor="middle" fill="#111">120</text>
<text x="423.3" y="10.5" font-size="5" font-weight="bold" text-anchor="middle" textLength="23.25" lengthAdjust="spacingAndGlyphs" stroke="#000" stroke-width="0.22">si-TGFBR3</text>
<text x="-0.1" y="115.9" font-size="12.4" font-weight="bold" stroke="#000" stroke-width="0.5">B</text>
<path d="M14.8 125.7 V202.5 H413" fill="none" stroke="#000" stroke-width="1.3"/>
<path d="M14.8 119.7 L13.05 129.3 L16.55 129.3 Z" fill="#000"/>
<path d="M410 201.85 L417 201.65 L427 201.7 L464 202.55 L427 203.5 L417 203.95 L410 203.15 Z" fill="#000"/>
<text x="2.7" y="157.8" font-size="4.6" font-weight="bold" text-anchor="middle" transform="rotate(-90 2.7 157.8)" stroke="#000" stroke-width="0.25">CNE2</text>
<text x="11.5" y="157.8" font-size="4.4" font-weight="bold" text-anchor="middle" textLength="17" lengthAdjust="spacingAndGlyphs" transform="rotate(-90 11.5 157.8)" stroke="#000" stroke-width="0.2">Number</text>
<text x="242" y="209" font-size="4.9" font-weight="bold" text-anchor="middle" textLength="34.8" lengthAdjust="spacingAndGlyphs" stroke="#000" stroke-width="0.22">Channels(FL2-H)</text>
<path d="M48.4 189.4 L48.4 189.4 L48.55 189.34 L48.7 188.99 L48.84 188.51 L48.99 187.93 L49.14 187.27 L49.28 186.55 L49.43 185.78 L49.58 184.95 L49.73 184.08 L49.88 183.16 L50.02 182.21 L50.17 181.21 L50.32 180.18 L50.47 179.12 L50.61 178.02 L50.76 176.89 L50.91 175.73 L51.05 174.55 L51.2 173.33 L51.35 172.09 L51.5 170.83 L51.64 169.53 L51.79 168.22 L51.94 166.88 L52.09 165.51 L52.23 164.13 L52.38 162.72 L52.53 161.29 L52.68 159.84 L52.83 158.37 L52.97 156.88 L53.12 155.36 L53.27 153.83 L53.41 152.28 L53.56 150.71 L53.71 149.13 L53.86 147.52 L54.01 145.9 L54.15 144.26 L54.3 142.6 L54.45 144.26 L54.59 145.9 L54.74 147.52 L54.89 149.13 L55.04 150.71 L55.19 152.28 L55.33 153.83 L55.48 155.36 L55.63 156.88 L55.78 158.37 L55.92 159.84 L56.07 161.29 L56.22 162.72 L56.37 164.13 L56.51 165.51 L56.66 166.88 L56.81 168.22 L56.95 169.53 L57.1 170.83 L57.25 172.09 L57.4 173.33 L57.55 174.55 L57.69 175.73 L57.84 176.89 L57.99 178.02 L58.14 179.12 L58.28 180.18 L58.43 181.21 L58.58 182.21 L58.73 183.16 L58.87 184.08 L59.02 184.95 L59.17 185.78 L59.31 186.55 L59.46 187.27 L59.61 187.93 L59.76 188.51 L59.91 188.99 L60.05 189.34 L60.2 189.4 L60.2 189.4 Z" fill="#de3321" stroke="#4a140c" stroke-width="0.5"/>
<path d="M70.9 189.4 L70.9 189.4 L71.06 189.35 L71.23 189.3 L71.39 189.24 L71.56 189.17 L71.72 189.09 L71.89 189.01 L72.06 188.92 L72.22 188.82 L72.38 188.71 L72.55 188.59 L72.72 188.46 L72.88 188.32 L73.05 188.17 L73.21 188.02 L73.38 187.85 L73.54 187.67 L73.7 187.49 L73.87 187.29 L74.03 187.09 L74.2 186.88 L74.37 186.67 L74.53 186.45 L74.69 186.24 L74.86 186.02 L75.03 185.8 L75.19 185.58 L75.35 185.37 L75.52 185.16 L75.69 184.96 L75.85 184.77 L76.02 184.59 L76.18 184.43 L76.34 184.28 L76.51 184.15 L76.67 184.03 L76.84 183.93 L77 183.86 L77.17 183.8 L77.34 183.77 L77.5 183.76 L77.66 183.77 L77.83 183.8 L78 183.86 L78.16 183.93 L78.33 184.03 L78.49 184.15 L78.66 184.28 L78.82 184.43 L78.98 184.59 L79.15 184.77 L79.31 184.96 L79.48 185.16 L79.64 185.37 L79.81 185.58 L79.97 185.8 L80.14 186.02 L80.31 186.24 L80.47 186.45 L80.64 186.67 L80.8 186.88 L80.97 187.09 L81.13 187.29 L81.3 187.49 L81.46 187.67 L81.62 187.85 L81.79 188.02 L81.95 188.17 L82.12 188.32 L82.28 188.46 L82.45 188.59 L82.62 188.71 L82.78 188.82 L82.94 188.92 L83.11 189.01 L83.28 189.09 L83.44 189.17 L83.61 189.24 L83.77 189.3 L83.94 189.35 L84.1 189.4 L84.1 189.4 Z" fill="#de3321" stroke="#4a140c" stroke-width="0.5"/>
<path d="M51.9 189.4 L51.9 189.4 L52.2 187.44 L52.5 186.16 L52.8 185.08 L53.09 184.14 L53.39 183.29 L53.69 182.52 L53.99 181.82 L54.29 181.17 L54.59 180.57 L54.89 180.01 L55.19 179.5 L55.48 179.03 L55.78 178.6 L56.08 178.21 L56.38 177.85 L56.68 177.54 L56.98 177.27 L57.28 177.03 L57.58 176.82 L57.88 176.66 L58.17 176.53 L58.47 176.43 L58.77 176.37 L59.07 176.34 L59.37 176.32 L59.67 176.3 L59.97 176.28 L60.27 176.25 L60.56 176.23 L60.86 176.21 L61.16 176.19 L61.46 176.18 L61.76 176.16 L62.06 176.14 L62.36 176.13 L62.66 176.12 L62.95 176.1 L63.25 176.09 L63.55 176.08 L63.85 176.07 L64.15 176.07 L64.45 176.06 L64.75 176.05 L65.05 176.05 L65.34 176.05 L65.64 176.04 L65.94 176.04 L66.24 176.04 L66.54 176.05 L66.84 176.05 L67.14 176.05 L67.44 176.06 L67.73 176.07 L68.03 176.08 L68.33 176.08 L68.63 176.1 L68.93 176.11 L69.23 176.12 L69.53 176.13 L69.83 176.17 L70.12 176.24 L70.42 176.34 L70.72 176.47 L71.02 176.65 L71.32 176.85 L71.62 177.1 L71.92 177.38 L72.22 177.7 L72.51 178.07 L72.81 178.48 L73.11 178.94 L73.41 179.45 L73.71 180.03 L74.01 180.68 L74.31 181.41 L74.6 182.24 L74.9 183.21 L75.2 184.39 L75.5 185.94 L75.8 189.4 L75.8 189.4 Z" fill="url(#hatch)" stroke="#111" stroke-width="0.45"/>
<path d="M46.3 189.4 L46.51 189.4 L46.73 189.4 L46.94 189.4 L47.16 189.4 L47.37 189.4 L47.59 189.4 L47.8 189.4 L48.01 189.4 L48.23 189.4 L48.44 189.4 L48.66 189.1 L48.87 188.4 L49.09 187.51 L49.3 186.48 L49.51 185.33 L49.73 184.08 L49.94 182.73 L50.16 181.31 L50.37 179.8 L50.58 178.23 L50.8 176.59 L51.01 174.89 L51.23 173.13 L51.44 171.31 L51.66 169.44 L51.87 167.52 L52.08 165.54 L52.3 163.52 L52.51 161.46 L52.73 159.35 L52.94 157.19 L53.16 155 L53.37 152.76 L53.58 150.49 L53.8 148.17 L54.01 145.82 L54.23 143.43 L54.44 144.18 L54.66 146.56 L54.87 148.9 L55.08 151.2 L55.3 153.46 L55.51 155.67 L55.73 157.83 L55.94 159.92 L56.15 161.92 L56.37 163.79 L56.58 165.48 L56.8 166.9 L57.01 167.93 L57.23 168.93 L57.44 170.02 L57.65 170.95 L57.87 171.69 L58.08 172.25 L58.3 172.67 L58.51 173.11 L58.73 173.42 L58.94 174 L59.15 174.04 L59.37 174.25 L59.58 173.43 L59.8 174.23 L60.01 174.48 L60.23 174.71 L60.44 173.77 L60.65 173.84 L60.87 174.24 L61.08 174.91 L61.3 175.08 L61.51 175.13 L61.72 175.01 L61.94 175.48 L62.15 175.08 L62.37 175.33 L62.58 174.35 L62.8 174.34 L63.01 174.93 L63.22 175.36 L63.44 174.35 L63.65 175.27 L63.87 175.2 L64.08 175.7 L64.3 175.17 L64.51 175.04 L64.72 175 L64.94 175.42 L65.15 174.99 L65.37 175.69 L65.58 175.33 L65.8 175.57 L66.01 175.14 L66.22 175.64 L66.44 175.67 L66.65 175.27 L66.87 175.37 L67.08 174.88 L67.29 174.96 L67.51 174.65 L67.72 174.78 L67.94 174.7 L68.15 174.47 L68.37 175.15 L68.58 175.24 L68.79 174.32 L69.01 175.49 L69.22 174.69 L69.44 174.8 L69.65 175.64 L69.87 174.53 L70.08 174.45 L70.29 174.82 L70.51 174.67 L70.72 174.56 L70.94 175.5 L71.15 174.94 L71.37 174.93 L71.58 174.44 L71.79 174.44 L72.01 174.36 L72.22 174.65 L72.44 174.16 L72.65 174.41 L72.86 174.43 L73.08 175.18 L73.29 175.62 L73.51 175.7 L73.72 175.65 L73.94 176.31 L74.15 175.63 L74.36 176.37 L74.58 176.66 L74.79 177.05 L75.01 177.38 L75.22 178.04 L75.44 178.44 L75.65 178.85 L75.86 179.25 L76.08 179.66 L76.29 180.06 L76.51 180.45 L76.72 180.85 L76.94 181.24 L77.15 181.63 L77.36 182.02 L77.58 182.41 L77.79 182.79 L78.01 183.17 L78.22 183.53 L78.43 183.87 L78.65 184.18 L78.86 184.46 L79.08 184.69 L79.29 184.93 L79.51 185.19 L79.72 185.46 L79.93 185.74 L80.15 186.03 L80.36 186.31 L80.58 186.6 L80.79 186.87 L81.01 187.14 L81.22 187.4 L81.43 187.64 L81.65 187.87 L81.86 188.09 L82.08 188.29 L82.29 188.47 L82.51 188.63 L82.72 188.78 L82.93 188.91 L83.15 189.03 L83.36 189.13 L83.58 189.22 L83.79 189.3 L84 189.37 L84.22 189.4 L84.43 189.4 L84.65 189.4 L84.86 189.4 L85.08 189.4 L85.29 189.4 L85.5 189.4 L85.72 189.4 L85.93 189.4 L86.15 189.4 L86.36 189.4 L86.58 189.4 L86.79 189.4 L87 189.4 L87.22 189.4 L87.43 189.4 L87.65 189.4 L87.86 189.4 L88.08 189.4 L88.29 189.4 L88.5 189.4 L88.72 189.4 L88.93 189.4 L89.15 189.4 L89.36 189.4 L89.57 189.4 L89.79 189.4 L90 189.4 L90.22 189.4 L90.43 189.4 L90.65 189.4 L90.86 189.4 L91.07 189.4 L91.29 189.4 L91.5 189.4 L91.72 189.4 L91.93 189.4 L92.15 189.4 L92.36 189.4 L92.57 189.4 L92.79 189.4 L93 189.4 L93.22 189.4 L93.43 189.4 L93.65 189.4 L93.86 189.4 L94.07 189.4 L94.29 189.4 L94.5 189.4 L94.72 189.4 L94.93 189.4 L95.14 189.4 L95.36 189.4 L95.57 189.4 L95.79 189.4 L96 189.4 L96.22 189.4 L96.43 189.4 L96.64 189.4 L96.86 189.4 L97.07 189.4 L97.29 189.4 L97.5 189.4 L97.72 189.4 L97.93 189.4" fill="none" stroke="#000" stroke-width="0.85"/>
<path d="M32 124.2 V189.4 H99" fill="none" stroke="#000" stroke-width="0.75"/>
<path d="M29.6 189.4 h2.4 M30.7 186.13 h1.3 M30.7 182.86 h1.3 M30.7 179.59 h1.3 M30.7 176.32 h1.3 M29.6 173.05 h2.4 M30.7 169.78 h1.3 M30.7 166.51 h1.3 M30.7 163.24 h1.3 M30.7 159.97 h1.3 M29.6 156.7 h2.4 M30.7 153.43 h1.3 M30.7 150.16 h1.3 M30.7 146.89 h1.3 M30.7 143.62 h1.3 M29.6 140.35 h2.4 M30.7 137.08 h1.3 M30.7 133.81 h1.3 M30.7 130.54 h1.3 M30.7 127.27 h1.3 M32.6 189.4 v1.9 M33.96 189.4 v1.1 M35.32 189.4 v1.1 M36.68 189.4 v1.1 M38.04 189.4 v1.1 M39.39 189.4 v1.1 M40.75 189.4 v1.1 M42.11 189.4 v1.1 M43.47 189.4 v1.9 M44.83 189.4 v1.1 M46.19 189.4 v1.1 M47.55 189.4 v1.1 M48.91 189.4 v1.1 M50.26 189.4 v1.1 M51.62 189.4 v1.1 M52.98 189.4 v1.1 M54.34 189.4 v1.9 M55.7 189.4 v1.1 M57.06 189.4 v1.1 M58.42 189.4 v1.1 M59.78 189.4 v1.1 M61.13 189.4 v1.1 M62.49 189.4 v1.1 M63.85 189.4 v1.1 M65.21 189.4 v1.9 M66.57 189.4 v1.1 M67.93 189.4 v1.1 M69.29 189.4 v1.1 M70.65 189.4 v1.1 M72 189.4 v1.1 M73.36 189.4 v1.1 M74.72 189.4 v1.1 M76.08 189.4 v1.9 M77.44 189.4 v1.1 M78.8 189.4 v1.1 M80.16 189.4 v1.1 M81.52 189.4 v1.1 M82.87 189.4 v1.1 M84.23 189.4 v1.1 M85.59 189.4 v1.1 M86.95 189.4 v1.9 M88.31 189.4 v1.1 M89.67 189.4 v1.1 M91.03 189.4 v1.1 M92.38 189.4 v1.1 M93.74 189.4 v1.1 M95.1 189.4 v1.1 M96.46 189.4 v1.1 M97.82 189.4 v1.9" stroke="#000" stroke-width="0.6" fill="none"/>
<text x="28.8" y="191.85" font-size="6.8" text-anchor="end" fill="#111">0</text>
<text x="28.8" y="175.5" font-size="6.8" text-anchor="end" fill="#111">200</text>
<text x="28.8" y="159.15" font-size="6.8" text-anchor="end" fill="#111">400</text>
<text x="28.8" y="142.8" font-size="6.8" text-anchor="end" fill="#111">600</text>
<text x="32.6" y="197.9" font-size="6.8" text-anchor="middle" fill="#111">0</text>
<text x="43.47" y="197.9" font-size="6.8" text-anchor="middle" fill="#111">20</text>
<text x="54.34" y="197.9" font-size="6.8" text-anchor="middle" fill="#111">40</text>
<text x="65.21" y="197.9" font-size="6.8" text-anchor="middle" fill="#111">60</text>
<text x="76.08" y="197.9" font-size="6.8" text-anchor="middle" fill="#111">80</text>
<text x="86.95" y="197.9" font-size="6.8" text-anchor="middle" fill="#111">100</text>
<text x="97.82" y="197.9" font-size="6.8" text-anchor="middle" fill="#111">120</text>
<text x="64.2" y="119.6" font-size="5" font-weight="bold" text-anchor="middle" textLength="12.25" lengthAdjust="spacingAndGlyphs" stroke="#000" stroke-width="0.22">Blank</text>
<path d="M138 189.4 L138 189.4 L138.15 189.34 L138.29 188.98 L138.44 188.49 L138.59 187.89 L138.74 187.22 L138.88 186.48 L139.03 185.69 L139.18 184.84 L139.33 183.94 L139.47 183 L139.62 182.02 L139.77 181 L139.92 179.94 L140.06 178.85 L140.21 177.73 L140.36 176.57 L140.51 175.38 L140.66 174.17 L140.8 172.92 L140.95 171.65 L141.1 170.35 L141.25 169.02 L141.39 167.67 L141.54 166.3 L141.69 164.9 L141.83 163.48 L141.98 162.03 L142.13 160.57 L142.28 159.08 L142.42 157.57 L142.57 156.04 L142.72 154.49 L142.87 152.92 L143.01 151.33 L143.16 149.72 L143.31 148.09 L143.46 146.45 L143.6 144.78 L143.75 143.1 L143.9 141.4 L144.05 143.1 L144.19 144.78 L144.34 146.45 L144.49 148.09 L144.64 149.72 L144.78 151.33 L144.93 152.92 L145.08 154.49 L145.23 156.04 L145.38 157.57 L145.52 159.08 L145.67 160.57 L145.82 162.03 L145.97 163.48 L146.11 164.9 L146.26 166.3 L146.41 167.67 L146.56 169.02 L146.7 170.35 L146.85 171.65 L147 172.92 L147.14 174.17 L147.29 175.38 L147.44 176.57 L147.59 177.73 L147.73 178.85 L147.88 179.94 L148.03 181 L148.18 182.02 L148.32 183 L148.47 183.94 L148.62 184.84 L148.77 185.69 L148.91 186.48 L149.06 187.22 L149.21 187.89 L149.36 188.49 L149.5 188.98 L149.65 189.34 L149.8 189.4 L149.8 189.4 Z" fill="#de3321" stroke="#4a140c" stroke-width="0.5"/>
<path d="M160.5 189.4 L160.5 189.4 L160.66 189.35 L160.83 189.3 L161 189.24 L161.16 189.17 L161.32 189.09 L161.49 189.01 L161.66 188.92 L161.82 188.82 L161.98 188.71 L162.15 188.59 L162.31 188.46 L162.48 188.32 L162.64 188.17 L162.81 188.02 L162.97 187.85 L163.14 187.67 L163.31 187.49 L163.47 187.29 L163.63 187.09 L163.8 186.88 L163.97 186.67 L164.13 186.45 L164.29 186.24 L164.46 186.02 L164.62 185.8 L164.79 185.58 L164.95 185.37 L165.12 185.16 L165.28 184.96 L165.45 184.77 L165.62 184.59 L165.78 184.43 L165.94 184.28 L166.11 184.15 L166.27 184.03 L166.44 183.93 L166.6 183.86 L166.77 183.8 L166.94 183.77 L167.1 183.76 L167.26 183.77 L167.43 183.8 L167.59 183.86 L167.76 183.93 L167.93 184.03 L168.09 184.15 L168.25 184.28 L168.42 184.43 L168.58 184.59 L168.75 184.77 L168.91 184.96 L169.08 185.16 L169.25 185.37 L169.41 185.58 L169.57 185.8 L169.74 186.02 L169.91 186.24 L170.07 186.45 L170.24 186.67 L170.4 186.88 L170.56 187.09 L170.73 187.29 L170.89 187.49 L171.06 187.67 L171.22 187.85 L171.39 188.02 L171.56 188.17 L171.72 188.32 L171.88 188.46 L172.05 188.59 L172.22 188.71 L172.38 188.82 L172.54 188.92 L172.71 189.01 L172.88 189.09 L173.04 189.17 L173.2 189.24 L173.37 189.3 L173.53 189.35 L173.7 189.4 L173.7 189.4 Z" fill="#de3321" stroke="#4a140c" stroke-width="0.5"/>
<path d="M141.5 189.4 L141.5 189.4 L141.8 187.46 L142.1 186.19 L142.4 185.12 L142.69 184.18 L142.99 183.34 L143.29 182.57 L143.59 181.88 L143.89 181.24 L144.19 180.64 L144.49 180.08 L144.79 179.57 L145.09 179.11 L145.38 178.68 L145.68 178.29 L145.98 177.95 L146.28 177.64 L146.58 177.36 L146.88 177.12 L147.18 176.92 L147.47 176.76 L147.77 176.63 L148.07 176.53 L148.37 176.48 L148.67 176.45 L148.97 176.42 L149.27 176.4 L149.57 176.38 L149.87 176.36 L150.16 176.34 L150.46 176.32 L150.76 176.3 L151.06 176.28 L151.36 176.26 L151.66 176.25 L151.96 176.23 L152.25 176.22 L152.55 176.21 L152.85 176.2 L153.15 176.19 L153.45 176.18 L153.75 176.17 L154.05 176.16 L154.35 176.16 L154.64 176.16 L154.94 176.15 L155.24 176.15 L155.54 176.15 L155.84 176.15 L156.14 176.15 L156.44 176.16 L156.74 176.16 L157.03 176.17 L157.33 176.17 L157.63 176.18 L157.93 176.19 L158.23 176.2 L158.53 176.21 L158.83 176.22 L159.13 176.24 L159.43 176.27 L159.72 176.34 L160.02 176.44 L160.32 176.58 L160.62 176.75 L160.92 176.95 L161.22 177.2 L161.52 177.48 L161.81 177.8 L162.11 178.16 L162.41 178.57 L162.71 179.02 L163.01 179.53 L163.31 180.1 L163.61 180.74 L163.91 181.47 L164.2 182.3 L164.5 183.26 L164.8 184.43 L165.1 185.97 L165.4 189.4 L165.4 189.4 Z" fill="url(#hatch)" stroke="#111" stroke-width="0.45"/>
<path d="M135.9 189.4 L136.11 189.4 L136.33 189.4 L136.54 189.4 L136.76 189.4 L136.97 189.4 L137.19 189.4 L137.4 189.4 L137.61 189.4 L137.83 189.4 L138.04 189.4 L138.26 189.09 L138.47 188.38 L138.69 187.47 L138.9 186.41 L139.11 185.23 L139.33 183.94 L139.54 182.56 L139.76 181.1 L139.97 179.56 L140.18 177.94 L140.4 176.26 L140.61 174.52 L140.83 172.71 L141.04 170.85 L141.26 168.93 L141.47 166.95 L141.68 164.93 L141.9 162.86 L142.11 160.74 L142.33 158.58 L142.54 156.37 L142.76 154.12 L142.97 151.82 L143.18 149.49 L143.4 147.11 L143.61 144.7 L143.83 142.25 L144.04 143.02 L144.25 145.46 L144.47 147.86 L144.68 150.22 L144.9 152.54 L145.11 154.81 L145.33 157.03 L145.54 159.18 L145.75 161.25 L145.97 163.2 L146.18 164.99 L146.4 166.53 L146.61 167.72 L146.83 168.85 L147.04 170.05 L147.25 171.07 L147.47 171.9 L147.68 172.53 L147.9 173 L148.11 173.36 L148.33 174.28 L148.54 173.35 L148.75 173.57 L148.97 174.04 L149.18 174.12 L149.4 174.06 L149.61 175.01 L149.82 174.19 L150.04 174.99 L150.25 175.36 L150.47 175.21 L150.68 174.68 L150.9 175.53 L151.11 174.9 L151.32 174.69 L151.54 175.41 L151.75 175.56 L151.97 175.43 L152.18 175.14 L152.4 175.03 L152.61 175.24 L152.82 175.2 L153.04 175.99 L153.25 175.89 L153.47 175.74 L153.68 175.06 L153.9 175.67 L154.11 175.31 L154.32 176.08 L154.54 176.02 L154.75 175.72 L154.97 175.16 L155.18 175.13 L155.39 175.15 L155.61 175.69 L155.82 175.38 L156.04 175.45 L156.25 175.45 L156.47 175.93 L156.68 174.85 L156.89 175.82 L157.11 174.73 L157.32 174.79 L157.54 176.08 L157.75 175.46 L157.97 174.95 L158.18 174.74 L158.39 175.47 L158.61 175.72 L158.82 175.81 L159.04 174.78 L159.25 175.81 L159.47 175.29 L159.68 175.9 L159.89 175.37 L160.11 174.77 L160.32 175.91 L160.54 174.95 L160.75 175.36 L160.97 174.8 L161.18 175.02 L161.39 175.64 L161.61 174.66 L161.82 175.19 L162.04 175.77 L162.25 175.76 L162.46 175.11 L162.68 175.26 L162.89 175.63 L163.11 176.06 L163.32 176.04 L163.54 176.37 L163.75 175.95 L163.96 177.47 L164.18 176.79 L164.39 177.04 L164.61 178.43 L164.82 178.28 L165.04 178.67 L165.25 179.06 L165.46 179.44 L165.68 179.83 L165.89 180.21 L166.11 180.58 L166.32 180.96 L166.53 181.34 L166.75 181.71 L166.96 182.09 L167.18 182.46 L167.39 182.83 L167.61 183.19 L167.82 183.54 L168.03 183.87 L168.25 184.18 L168.46 184.46 L168.68 184.69 L168.89 184.93 L169.11 185.19 L169.32 185.46 L169.53 185.74 L169.75 186.03 L169.96 186.31 L170.18 186.6 L170.39 186.87 L170.61 187.14 L170.82 187.4 L171.03 187.64 L171.25 187.87 L171.46 188.09 L171.68 188.29 L171.89 188.47 L172.11 188.63 L172.32 188.78 L172.53 188.91 L172.75 189.03 L172.96 189.13 L173.18 189.22 L173.39 189.3 L173.6 189.37 L173.82 189.4 L174.03 189.4 L174.25 189.4 L174.46 189.4 L174.68 189.4 L174.89 189.4 L175.1 189.4 L175.32 189.4 L175.53 189.4 L175.75 189.4 L175.96 189.4 L176.18 189.4 L176.39 189.4 L176.6 189.4 L176.82 189.4 L177.03 189.4 L177.25 189.4 L177.46 189.4 L177.68 189.4 L177.89 189.4 L178.1 189.4 L178.32 189.4 L178.53 189.4 L178.75 189.4 L178.96 189.4 L179.17 189.4 L179.39 189.4 L179.6 189.4 L179.82 189.4 L180.03 189.4 L180.25 189.4 L180.46 189.4 L180.67 189.4 L180.89 189.4 L181.1 189.4 L181.32 189.4 L181.53 189.4 L181.75 189.4 L181.96 189.4 L182.17 189.4 L182.39 189.4 L182.6 189.4 L182.82 189.4 L183.03 189.4 L183.25 189.4 L183.46 189.4 L183.67 189.4 L183.89 189.4 L184.1 189.4 L184.32 189.4 L184.53 189.4 L184.74 189.4 L184.96 189.4 L185.17 189.4 L185.39 189.4 L185.6 189.4 L185.82 189.4 L186.03 189.4 L186.24 189.4 L186.46 189.4 L186.67 189.4 L186.89 189.4 L187.1 189.4 L187.32 189.4 L187.53 189.4" fill="none" stroke="#000" stroke-width="0.85"/>
<path d="M121.6 124.2 V189.4 H188.6" fill="none" stroke="#000" stroke-width="0.75"/>
<path d="M119.2 189.4 h2.4 M120.3 186.13 h1.3 M120.3 182.86 h1.3 M120.3 179.59 h1.3 M120.3 176.32 h1.3 M119.2 173.05 h2.4 M120.3 169.78 h1.3 M120.3 166.51 h1.3 M120.3 163.24 h1.3 M120.3 159.97 h1.3 M119.2 156.7 h2.4 M120.3 153.43 h1.3 M120.3 150.16 h1.3 M120.3 146.89 h1.3 M120.3 143.62 h1.3 M119.2 140.35 h2.4 M120.3 137.08 h1.3 M120.3 133.81 h1.3 M120.3 130.54 h1.3 M120.3 127.27 h1.3 M122.2 189.4 v1.9 M123.56 189.4 v1.1 M124.92 189.4 v1.1 M126.28 189.4 v1.1 M127.63 189.4 v1.1 M128.99 189.4 v1.1 M130.35 189.4 v1.1 M131.71 189.4 v1.1 M133.07 189.4 v1.9 M134.43 189.4 v1.1 M135.79 189.4 v1.1 M137.15 189.4 v1.1 M138.5 189.4 v1.1 M139.86 189.4 v1.1 M141.22 189.4 v1.1 M142.58 189.4 v1.1 M143.94 189.4 v1.9 M145.3 189.4 v1.1 M146.66 189.4 v1.1 M148.02 189.4 v1.1 M149.38 189.4 v1.1 M150.73 189.4 v1.1 M152.09 189.4 v1.1 M153.45 189.4 v1.1 M154.81 189.4 v1.9 M156.17 189.4 v1.1 M157.53 189.4 v1.1 M158.89 189.4 v1.1 M160.25 189.4 v1.1 M161.6 189.4 v1.1 M162.96 189.4 v1.1 M164.32 189.4 v1.1 M165.68 189.4 v1.9 M167.04 189.4 v1.1 M168.4 189.4 v1.1 M169.76 189.4 v1.1 M171.11 189.4 v1.1 M172.47 189.4 v1.1 M173.83 189.4 v1.1 M175.19 189.4 v1.1 M176.55 189.4 v1.9 M177.91 189.4 v1.1 M179.27 189.4 v1.1 M180.63 189.4 v1.1 M181.98 189.4 v1.1 M183.34 189.4 v1.1 M184.7 189.4 v1.1 M186.06 189.4 v1.1 M187.42 189.4 v1.9" stroke="#000" stroke-width="0.6" fill="none"/>
<text x="118.4" y="191.85" font-size="6.8" text-anchor="end" fill="#111">0</text>
<text x="118.4" y="175.5" font-size="6.8" text-anchor="end" fill="#111">200</text>
<text x="118.4" y="159.15" font-size="6.8" text-anchor="end" fill="#111">400</text>
<text x="118.4" y="142.8" font-size="6.8" text-anchor="end" fill="#111">600</text>
<text x="122.2" y="197.9" font-size="6.8" text-anchor="middle" fill="#111">0</text>
<text x="133.07" y="197.9" font-size="6.8" text-anchor="middle" fill="#111">20</text>
<text x="143.94" y="197.9" font-size="6.8" text-anchor="middle" fill="#111">40</text>
<text x="154.81" y="197.9" font-size="6.8" text-anchor="middle" fill="#111">60</text>
<text x="165.68" y="197.9" font-size="6.8" text-anchor="middle" fill="#111">80</text>
<text x="176.55" y="197.9" font-size="6.8" text-anchor="middle" fill="#111">100</text>
<text x="187.42" y="197.9" font-size="6.8" text-anchor="middle" fill="#111">120</text>
<text x="151.9" y="119.6" font-size="5" font-weight="bold" text-anchor="middle" textLength="28.25" lengthAdjust="spacingAndGlyphs" stroke="#000" stroke-width="0.22">inhibitors NC</text>
<path d="M226.8 189.4 L226.8 189.4 L226.95 189.33 L227.09 188.87 L227.24 188.23 L227.39 187.48 L227.54 186.62 L227.69 185.68 L227.83 184.66 L227.98 183.58 L228.13 182.44 L228.28 181.24 L228.42 179.99 L228.57 178.69 L228.72 177.34 L228.87 175.95 L229.01 174.52 L229.16 173.04 L229.31 171.53 L229.46 169.98 L229.6 168.39 L229.75 166.77 L229.9 165.11 L230.05 163.42 L230.19 161.7 L230.34 159.95 L230.49 158.16 L230.63 156.35 L230.78 154.51 L230.93 152.64 L231.08 150.74 L231.22 148.82 L231.37 146.87 L231.52 144.89 L231.67 142.89 L231.81 140.86 L231.96 138.81 L232.11 136.73 L232.26 134.64 L232.41 132.51 L232.55 130.37 L232.7 128.2 L232.85 130.37 L233 132.51 L233.14 134.64 L233.29 136.73 L233.44 138.81 L233.59 140.86 L233.73 142.89 L233.88 144.89 L234.03 146.87 L234.18 148.82 L234.32 150.74 L234.47 152.64 L234.62 154.51 L234.77 156.35 L234.91 158.16 L235.06 159.95 L235.21 161.7 L235.36 163.42 L235.5 165.11 L235.65 166.77 L235.8 168.39 L235.94 169.98 L236.09 171.53 L236.24 173.04 L236.39 174.52 L236.53 175.95 L236.68 177.34 L236.83 178.69 L236.98 179.99 L237.12 181.24 L237.27 182.44 L237.42 183.58 L237.57 184.66 L237.72 185.68 L237.86 186.62 L238.01 187.48 L238.16 188.23 L238.31 188.87 L238.45 189.33 L238.6 189.4 L238.6 189.4 Z" fill="#de3321" stroke="#4a140c" stroke-width="0.5"/>
<path d="M249.8 189.4 L249.8 189.4 L249.97 189.38 L250.13 189.36 L250.3 189.33 L250.46 189.3 L250.62 189.27 L250.79 189.23 L250.96 189.2 L251.12 189.15 L251.28 189.11 L251.45 189.06 L251.62 189 L251.78 188.94 L251.94 188.88 L252.11 188.81 L252.28 188.74 L252.44 188.66 L252.61 188.59 L252.77 188.5 L252.94 188.42 L253.1 188.33 L253.27 188.24 L253.43 188.15 L253.59 188.05 L253.76 187.96 L253.93 187.87 L254.09 187.77 L254.25 187.68 L254.42 187.6 L254.59 187.51 L254.75 187.43 L254.92 187.35 L255.08 187.28 L255.25 187.22 L255.41 187.16 L255.57 187.12 L255.74 187.07 L255.91 187.04 L256.07 187.02 L256.24 187 L256.4 187 L256.56 187 L256.73 187.02 L256.89 187.04 L257.06 187.07 L257.23 187.12 L257.39 187.16 L257.56 187.22 L257.72 187.28 L257.88 187.35 L258.05 187.43 L258.22 187.51 L258.38 187.6 L258.55 187.68 L258.71 187.77 L258.88 187.87 L259.04 187.96 L259.2 188.05 L259.37 188.15 L259.54 188.24 L259.7 188.33 L259.87 188.42 L260.03 188.5 L260.19 188.59 L260.36 188.66 L260.52 188.74 L260.69 188.81 L260.86 188.88 L261.02 188.94 L261.19 189 L261.35 189.06 L261.51 189.11 L261.68 189.15 L261.85 189.2 L262.01 189.23 L262.18 189.27 L262.34 189.3 L262.5 189.33 L262.67 189.36 L262.84 189.38 L263 189.4 L263 189.4 Z" fill="#de3321" stroke="#4a140c" stroke-width="0.5"/>
<path d="M230.3 189.4 L230.3 189.4 L230.61 188.53 L230.91 187.97 L231.22 187.49 L231.52 187.07 L231.83 186.69 L232.13 186.36 L232.44 186.05 L232.74 185.76 L233.05 185.5 L233.35 185.25 L233.66 185.03 L233.96 184.82 L234.27 184.64 L234.57 184.47 L234.88 184.32 L235.18 184.18 L235.49 184.07 L235.79 183.97 L236.09 183.88 L236.4 183.81 L236.71 183.76 L237.01 183.73 L237.31 183.71 L237.62 183.7 L237.93 183.69 L238.23 183.68 L238.53 183.67 L238.84 183.66 L239.15 183.65 L239.45 183.64 L239.75 183.63 L240.06 183.63 L240.37 183.62 L240.67 183.61 L240.97 183.61 L241.28 183.6 L241.59 183.6 L241.89 183.59 L242.19 183.59 L242.5 183.58 L242.81 183.58 L243.11 183.58 L243.42 183.57 L243.72 183.57 L244.03 183.57 L244.33 183.57 L244.63 183.57 L244.94 183.57 L245.25 183.57 L245.55 183.57 L245.86 183.57 L246.16 183.58 L246.47 183.58 L246.77 183.58 L247.07 183.59 L247.38 183.59 L247.69 183.6 L247.99 183.6 L248.3 183.61 L248.6 183.62 L248.91 183.64 L249.21 183.68 L249.51 183.74 L249.82 183.81 L250.12 183.9 L250.43 184 L250.74 184.12 L251.04 184.26 L251.34 184.42 L251.65 184.6 L251.95 184.8 L252.26 185.02 L252.56 185.27 L252.87 185.56 L253.18 185.88 L253.48 186.24 L253.78 186.67 L254.09 187.19 L254.4 187.87 L254.7 189.4 L254.7 189.4 Z" fill="url(#hatch)" stroke="#111" stroke-width="0.45"/>
<path d="M224.7 189.4 L224.91 189.4 L225.13 189.4 L225.34 189.4 L225.56 189.4 L225.77 189.4 L225.99 189.4 L226.2 189.4 L226.41 189.4 L226.63 189.4 L226.84 189.4 L227.06 189.01 L227.27 188.1 L227.49 186.93 L227.7 185.58 L227.91 184.08 L228.13 182.44 L228.34 180.68 L228.56 178.81 L228.77 176.85 L228.98 174.79 L229.2 172.65 L229.41 170.42 L229.63 168.12 L229.84 165.74 L230.06 163.3 L230.27 160.78 L230.48 158.2 L230.7 155.56 L230.91 152.86 L231.13 150.1 L231.34 147.28 L231.56 144.41 L231.77 141.49 L231.98 138.51 L232.2 135.48 L232.41 132.41 L232.63 129.28 L232.84 130.27 L233.06 133.38 L233.27 136.44 L233.48 139.45 L233.7 142.41 L233.91 145.32 L234.13 148.17 L234.34 150.97 L234.55 153.71 L234.77 156.38 L234.98 158.98 L235.2 161.51 L235.41 163.94 L235.63 166.3 L235.84 168.59 L236.05 170.78 L236.27 172.84 L236.48 174.76 L236.7 176.48 L236.91 177.35 L237.13 178.79 L237.34 179.31 L237.55 180.63 L237.77 180.78 L237.98 180.91 L238.2 180.19 L238.41 180.88 L238.62 181.32 L238.84 181.34 L239.05 181.68 L239.27 182.11 L239.48 182.16 L239.7 181.25 L239.91 182.14 L240.12 181.35 L240.34 182.35 L240.55 182.33 L240.77 181.98 L240.98 182.43 L241.2 182.18 L241.41 181.36 L241.62 181.46 L241.84 181.56 L242.05 181.82 L242.27 181.42 L242.48 181.38 L242.7 181.93 L242.91 181.69 L243.12 182.63 L243.34 181.67 L243.55 182.07 L243.77 181.65 L243.98 181.8 L244.19 182.3 L244.41 182.63 L244.62 181.4 L244.84 182.52 L245.05 182.04 L245.27 182.22 L245.48 182.28 L245.69 181.67 L245.91 181.33 L246.12 182.34 L246.34 181.78 L246.55 182.28 L246.77 181.92 L246.98 182.15 L247.19 182.47 L247.41 182.47 L247.62 182.41 L247.84 181.43 L248.05 182 L248.27 182.39 L248.48 181.43 L248.69 181.3 L248.91 182.07 L249.12 182.5 L249.34 182.43 L249.55 182.57 L249.77 182.22 L249.98 182.56 L250.19 182.34 L250.41 182.3 L250.62 181.85 L250.84 181.39 L251.05 181.56 L251.26 182.01 L251.48 181.98 L251.69 181.84 L251.91 182.09 L252.12 182.23 L252.34 182.73 L252.55 182.57 L252.76 181.77 L252.98 183.13 L253.19 182.8 L253.41 182.83 L253.62 182.73 L253.84 183.86 L254.05 184.02 L254.26 183.93 L254.48 184.17 L254.69 184.4 L254.91 184.64 L255.12 184.87 L255.34 185.1 L255.55 185.33 L255.76 185.55 L255.98 185.77 L256.19 185.99 L256.41 186.2 L256.62 186.41 L256.83 186.6 L257.05 186.79 L257.26 186.96 L257.48 187.12 L257.69 187.25 L257.91 187.36 L258.12 187.46 L258.33 187.57 L258.55 187.69 L258.76 187.8 L258.98 187.92 L259.19 188.05 L259.41 188.17 L259.62 188.29 L259.83 188.4 L260.05 188.51 L260.26 188.62 L260.48 188.72 L260.69 188.81 L260.91 188.9 L261.12 188.98 L261.33 189.05 L261.55 189.12 L261.76 189.17 L261.98 189.23 L262.19 189.27 L262.4 189.31 L262.62 189.35 L262.83 189.38 L263.05 189.4 L263.26 189.4 L263.48 189.4 L263.69 189.4 L263.9 189.4 L264.12 189.4 L264.33 189.4 L264.55 189.4 L264.76 189.4 L264.98 189.4 L265.19 189.4 L265.4 189.4 L265.62 189.4 L265.83 189.4 L266.05 189.4 L266.26 189.4 L266.48 189.4 L266.69 189.4 L266.9 189.4 L267.12 189.4 L267.33 189.4 L267.55 189.4 L267.76 189.4 L267.97 189.4 L268.19 189.4 L268.4 189.4 L268.62 189.4 L268.83 189.4 L269.05 189.4 L269.26 189.4 L269.47 189.4 L269.69 189.4 L269.9 189.4 L270.12 189.4 L270.33 189.4 L270.55 189.4 L270.76 189.4 L270.97 189.4 L271.19 189.4 L271.4 189.4 L271.62 189.4 L271.83 189.4 L272.05 189.4 L272.26 189.4 L272.47 189.4 L272.69 189.4 L272.9 189.4 L273.12 189.4 L273.33 189.4 L273.54 189.4 L273.76 189.4 L273.97 189.4 L274.19 189.4 L274.4 189.4 L274.62 189.4 L274.83 189.4 L275.04 189.4 L275.26 189.4 L275.47 189.4 L275.69 189.4 L275.9 189.4 L276.12 189.4 L276.33 189.4" fill="none" stroke="#000" stroke-width="0.85"/>
<path d="M210.4 124.2 V189.4 H277.4" fill="none" stroke="#000" stroke-width="0.75"/>
<path d="M208 189.4 h2.4 M209.1 186.76 h1.3 M209.1 184.12 h1.3 M209.1 181.48 h1.3 M209.1 178.84 h1.3 M208 176.2 h2.4 M209.1 173.56 h1.3 M209.1 170.92 h1.3 M209.1 168.28 h1.3 M209.1 165.64 h1.3 M208 163 h2.4 M209.1 160.36 h1.3 M209.1 157.72 h1.3 M209.1 155.08 h1.3 M209.1 152.44 h1.3 M208 149.8 h2.4 M209.1 147.16 h1.3 M209.1 144.52 h1.3 M209.1 141.88 h1.3 M209.1 139.24 h1.3 M208 136.6 h2.4 M209.1 133.96 h1.3 M209.1 131.32 h1.3 M209.1 128.68 h1.3 M209.1 126.04 h1.3 M211 189.4 v1.9 M212.36 189.4 v1.1 M213.72 189.4 v1.1 M215.08 189.4 v1.1 M216.44 189.4 v1.1 M217.79 189.4 v1.1 M219.15 189.4 v1.1 M220.51 189.4 v1.1 M221.87 189.4 v1.9 M223.23 189.4 v1.1 M224.59 189.4 v1.1 M225.95 189.4 v1.1 M227.31 189.4 v1.1 M228.66 189.4 v1.1 M230.02 189.4 v1.1 M231.38 189.4 v1.1 M232.74 189.4 v1.9 M234.1 189.4 v1.1 M235.46 189.4 v1.1 M236.82 189.4 v1.1 M238.18 189.4 v1.1 M239.53 189.4 v1.1 M240.89 189.4 v1.1 M242.25 189.4 v1.1 M243.61 189.4 v1.9 M244.97 189.4 v1.1 M246.33 189.4 v1.1 M247.69 189.4 v1.1 M249.05 189.4 v1.1 M250.4 189.4 v1.1 M251.76 189.4 v1.1 M253.12 189.4 v1.1 M254.48 189.4 v1.9 M255.84 189.4 v1.1 M257.2 189.4 v1.1 M258.56 189.4 v1.1 M259.92 189.4 v1.1 M261.27 189.4 v1.1 M262.63 189.4 v1.1 M263.99 189.4 v1.1 M265.35 189.4 v1.9 M266.71 189.4 v1.1 M268.07 189.4 v1.1 M269.43 189.4 v1.1 M270.78 189.4 v1.1 M272.14 189.4 v1.1 M273.5 189.4 v1.1 M274.86 189.4 v1.1 M276.22 189.4 v1.9" stroke="#000" stroke-width="0.6" fill="none"/>
<text x="207.2" y="191.85" font-size="6.8" text-anchor="end" fill="#111">0</text>
<text x="207.2" y="178.65" font-size="6.8" text-anchor="end" fill="#111">200</text>
<text x="207.2" y="165.45" font-size="6.8" text-anchor="end" fill="#111">400</text>
<text x="207.2" y="152.25" font-size="6.8" text-anchor="end" fill="#111">600</text>
<text x="207.2" y="139.05" font-size="6.8" text-anchor="end" fill="#111">800</text>
<text x="211" y="197.9" font-size="6.8" text-anchor="middle" fill="#111">0</text>
<text x="221.87" y="197.9" font-size="6.8" text-anchor="middle" fill="#111">20</text>
<text x="232.74" y="197.9" font-size="6.8" text-anchor="middle" fill="#111">40</text>
<text x="243.61" y="197.9" font-size="6.8" text-anchor="middle" fill="#111">60</text>
<text x="254.48" y="197.9" font-size="6.8" text-anchor="middle" fill="#111">80</text>
<text x="265.35" y="197.9" font-size="6.8" text-anchor="middle" fill="#111">100</text>
<text x="276.22" y="197.9" font-size="6.8" text-anchor="middle" fill="#111">120</text>
<text x="240.8" y="119.6" font-size="5" font-weight="bold" text-anchor="middle" textLength="39.25" lengthAdjust="spacingAndGlyphs" stroke="#000" stroke-width="0.22">miR-18a inhibitors</text>
<path d="M317.4 189.4 L317.4 189.4 L317.55 189.34 L317.69 188.99 L317.84 188.51 L317.99 187.93 L318.14 187.27 L318.29 186.55 L318.43 185.78 L318.58 184.95 L318.73 184.08 L318.88 183.16 L319.02 182.21 L319.17 181.21 L319.32 180.18 L319.47 179.12 L319.61 178.02 L319.76 176.89 L319.91 175.73 L320.06 174.55 L320.2 173.33 L320.35 172.09 L320.5 170.83 L320.64 169.53 L320.79 168.22 L320.94 166.88 L321.09 165.51 L321.24 164.13 L321.38 162.72 L321.53 161.29 L321.68 159.84 L321.82 158.37 L321.97 156.88 L322.12 155.36 L322.27 153.83 L322.42 152.28 L322.56 150.71 L322.71 149.13 L322.86 147.52 L323 145.9 L323.15 144.26 L323.3 142.6 L323.45 144.26 L323.6 145.9 L323.74 147.52 L323.89 149.13 L324.04 150.71 L324.19 152.28 L324.33 153.83 L324.48 155.36 L324.63 156.88 L324.78 158.37 L324.92 159.84 L325.07 161.29 L325.22 162.72 L325.37 164.13 L325.51 165.51 L325.66 166.88 L325.81 168.22 L325.96 169.53 L326.1 170.83 L326.25 172.09 L326.4 173.33 L326.55 174.55 L326.69 175.73 L326.84 176.89 L326.99 178.02 L327.13 179.12 L327.28 180.18 L327.43 181.21 L327.58 182.21 L327.73 183.16 L327.87 184.08 L328.02 184.95 L328.17 185.78 L328.31 186.55 L328.46 187.27 L328.61 187.93 L328.76 188.51 L328.91 188.99 L329.05 189.34 L329.2 189.4 L329.2 189.4 Z" fill="#de3321" stroke="#4a140c" stroke-width="0.5"/>
<path d="M339.2 189.4 L339.2 189.4 L339.37 189.34 L339.53 189.28 L339.69 189.21 L339.86 189.13 L340.03 189.05 L340.19 188.95 L340.36 188.85 L340.52 188.73 L340.69 188.61 L340.85 188.47 L341.01 188.32 L341.18 188.16 L341.35 187.99 L341.51 187.81 L341.68 187.62 L341.84 187.41 L342 187.2 L342.17 186.98 L342.34 186.75 L342.5 186.51 L342.67 186.26 L342.83 186.02 L343 185.76 L343.16 185.51 L343.32 185.26 L343.49 185.01 L343.66 184.77 L343.82 184.53 L343.99 184.3 L344.15 184.08 L344.31 183.88 L344.48 183.69 L344.64 183.52 L344.81 183.36 L344.98 183.23 L345.14 183.12 L345.31 183.03 L345.47 182.97 L345.63 182.93 L345.8 182.92 L345.97 182.93 L346.13 182.97 L346.3 183.03 L346.46 183.12 L346.62 183.23 L346.79 183.36 L346.96 183.52 L347.12 183.69 L347.29 183.88 L347.45 184.08 L347.62 184.3 L347.78 184.53 L347.94 184.77 L348.11 185.01 L348.28 185.26 L348.44 185.51 L348.61 185.76 L348.77 186.02 L348.94 186.26 L349.1 186.51 L349.26 186.75 L349.43 186.98 L349.6 187.2 L349.76 187.41 L349.93 187.62 L350.09 187.81 L350.25 187.99 L350.42 188.16 L350.59 188.32 L350.75 188.47 L350.92 188.61 L351.08 188.73 L351.25 188.85 L351.41 188.95 L351.58 189.05 L351.74 189.13 L351.91 189.21 L352.07 189.28 L352.24 189.34 L352.4 189.4 L352.4 189.4 Z" fill="#de3321" stroke="#4a140c" stroke-width="0.5"/>
<path d="M320.9 189.4 L320.9 189.4 L321.19 187.51 L321.48 186.28 L321.77 185.24 L322.06 184.32 L322.35 183.5 L322.64 182.75 L322.93 182.07 L323.22 181.45 L323.51 180.86 L323.8 180.31 L324.09 179.81 L324.38 179.35 L324.67 178.92 L324.96 178.53 L325.25 178.18 L325.54 177.86 L325.83 177.58 L326.12 177.33 L326.41 177.12 L326.7 176.94 L326.99 176.8 L327.28 176.68 L327.57 176.6 L327.86 176.56 L328.15 176.53 L328.44 176.51 L328.73 176.49 L329.02 176.47 L329.31 176.45 L329.6 176.43 L329.89 176.41 L330.18 176.39 L330.47 176.37 L330.76 176.36 L331.05 176.34 L331.34 176.33 L331.63 176.32 L331.92 176.31 L332.21 176.3 L332.5 176.29 L332.79 176.28 L333.08 176.27 L333.37 176.27 L333.66 176.26 L333.95 176.26 L334.24 176.26 L334.53 176.26 L334.82 176.26 L335.11 176.26 L335.4 176.26 L335.69 176.27 L335.98 176.27 L336.27 176.28 L336.56 176.29 L336.85 176.29 L337.14 176.3 L337.43 176.32 L337.72 176.33 L338.01 176.35 L338.3 176.4 L338.59 176.48 L338.88 176.6 L339.17 176.75 L339.46 176.93 L339.75 177.14 L340.04 177.39 L340.33 177.68 L340.62 178 L340.91 178.36 L341.2 178.77 L341.49 179.22 L341.78 179.73 L342.07 180.29 L342.36 180.93 L342.65 181.64 L342.94 182.45 L343.23 183.4 L343.52 184.55 L343.81 186.05 L344.1 189.4 L344.1 189.4 Z" fill="url(#hatch)" stroke="#111" stroke-width="0.45"/>
<path d="M315.3 189.4 L315.51 189.4 L315.72 189.4 L315.93 189.4 L316.15 189.4 L316.36 189.4 L316.57 189.4 L316.78 189.4 L316.99 189.4 L317.2 189.4 L317.42 189.4 L317.63 189.18 L317.84 188.52 L318.05 187.67 L318.26 186.67 L318.47 185.56 L318.68 184.34 L318.9 183.03 L319.11 181.64 L319.32 180.17 L319.53 178.63 L319.74 177.03 L319.95 175.36 L320.17 173.64 L320.38 171.86 L320.59 170.03 L320.8 168.15 L321.01 166.22 L321.22 164.24 L321.43 162.22 L321.65 160.15 L321.86 158.04 L322.07 155.89 L322.28 153.69 L322.49 151.46 L322.7 149.19 L322.92 146.89 L323.13 144.54 L323.34 143.03 L323.55 145.4 L323.76 147.73 L323.97 150.02 L324.18 152.27 L324.4 154.48 L324.61 156.64 L324.82 158.75 L325.03 160.77 L325.24 162.69 L325.45 164.47 L325.67 166.02 L325.88 167.27 L326.09 168.09 L326.3 169.19 L326.51 170.21 L326.72 171.05 L326.93 171.71 L327.15 172.21 L327.36 172.93 L327.57 172.99 L327.78 173.13 L327.99 172.58 L328.2 172.86 L328.42 172.95 L328.63 174.26 L328.84 174.37 L329.05 173.53 L329.26 173.39 L329.47 174.1 L329.68 174.06 L329.9 175 L330.11 174.57 L330.32 173.94 L330.53 174.19 L330.74 174.27 L330.95 174.14 L331.17 175.15 L331.38 175.35 L331.59 175.28 L331.8 174.77 L332.01 174.55 L332.22 174.18 L332.43 174.49 L332.65 174.59 L332.86 174.43 L333.07 174.86 L333.28 174.73 L333.49 175.44 L333.7 174.4 L333.92 175.17 L334.13 174.21 L334.34 174.6 L334.55 175.07 L334.76 175.32 L334.97 175.15 L335.18 174.61 L335.4 174.52 L335.61 175.34 L335.82 175.4 L336.03 174.77 L336.24 174.68 L336.45 174.96 L336.67 175.19 L336.88 174.66 L337.09 175.49 L337.3 175.08 L337.51 174.86 L337.72 174.16 L337.93 174.6 L338.15 174.26 L338.36 174.83 L338.57 175.17 L338.78 175.15 L338.99 174.16 L339.2 174.51 L339.42 175.04 L339.63 175.41 L339.84 174.7 L340.05 174.41 L340.26 174.72 L340.47 174.89 L340.68 174.25 L340.9 173.83 L341.11 174.81 L341.32 175.15 L341.53 174.86 L341.74 174.93 L341.95 174.8 L342.17 175.75 L342.38 175.22 L342.59 175.63 L342.8 176.3 L343.01 177.08 L343.22 176.37 L343.43 177.66 L343.65 177.77 L343.86 178.14 L344.07 178.5 L344.28 178.86 L344.49 179.23 L344.7 179.58 L344.92 179.94 L345.13 180.3 L345.34 180.67 L345.55 181.03 L345.76 181.4 L345.97 181.78 L346.18 182.15 L346.4 182.52 L346.61 182.87 L346.82 183.22 L347.03 183.54 L347.24 183.82 L347.45 184.09 L347.67 184.37 L347.88 184.67 L348.09 184.98 L348.3 185.3 L348.51 185.62 L348.72 185.94 L348.93 186.26 L349.15 186.58 L349.36 186.88 L349.57 187.17 L349.78 187.44 L349.99 187.7 L350.2 187.94 L350.42 188.16 L350.63 188.36 L350.84 188.55 L351.05 188.71 L351.26 188.86 L351.47 188.99 L351.68 189.11 L351.9 189.21 L352.11 189.3 L352.32 189.37 L352.53 189.4 L352.74 189.4 L352.95 189.4 L353.17 189.4 L353.38 189.4 L353.59 189.4 L353.8 189.4 L354.01 189.4 L354.22 189.4 L354.43 189.4 L354.65 189.4 L354.86 189.4 L355.07 189.4 L355.28 189.4 L355.49 189.4 L355.7 189.4 L355.92 189.4 L356.13 189.4 L356.34 189.4 L356.55 189.4 L356.76 189.4 L356.97 189.4 L357.18 189.4 L357.4 189.4 L357.61 189.4 L357.82 189.4 L358.03 189.4 L358.24 189.4 L358.45 189.4 L358.67 189.4 L358.88 189.4 L359.09 189.4 L359.3 189.4 L359.51 189.4 L359.72 189.4 L359.93 189.4 L360.15 189.4 L360.36 189.4 L360.57 189.4 L360.78 189.4 L360.99 189.4 L361.2 189.4 L361.42 189.4 L361.63 189.4 L361.84 189.4 L362.05 189.4 L362.26 189.4 L362.47 189.4 L362.68 189.4 L362.9 189.4 L363.11 189.4 L363.32 189.4 L363.53 189.4 L363.74 189.4 L363.95 189.4 L364.17 189.4 L364.38 189.4 L364.59 189.4 L364.8 189.4 L365.01 189.4 L365.22 189.4 L365.43 189.4 L365.65 189.4 L365.86 189.4 L366.07 189.4 L366.28 189.4" fill="none" stroke="#000" stroke-width="0.85"/>
<path d="M300.3 124.2 V189.4 H367.3" fill="none" stroke="#000" stroke-width="0.75"/>
<path d="M297.9 189.4 h2.4 M299 186.13 h1.3 M299 182.86 h1.3 M299 179.59 h1.3 M299 176.32 h1.3 M297.9 173.05 h2.4 M299 169.78 h1.3 M299 166.51 h1.3 M299 163.24 h1.3 M299 159.97 h1.3 M297.9 156.7 h2.4 M299 153.43 h1.3 M299 150.16 h1.3 M299 146.89 h1.3 M299 143.62 h1.3 M297.9 140.35 h2.4 M299 137.08 h1.3 M299 133.81 h1.3 M299 130.54 h1.3 M299 127.27 h1.3 M300.9 189.4 v1.9 M302.26 189.4 v1.1 M303.62 189.4 v1.1 M304.98 189.4 v1.1 M306.34 189.4 v1.1 M307.69 189.4 v1.1 M309.05 189.4 v1.1 M310.41 189.4 v1.1 M311.77 189.4 v1.9 M313.13 189.4 v1.1 M314.49 189.4 v1.1 M315.85 189.4 v1.1 M317.21 189.4 v1.1 M318.56 189.4 v1.1 M319.92 189.4 v1.1 M321.28 189.4 v1.1 M322.64 189.4 v1.9 M324 189.4 v1.1 M325.36 189.4 v1.1 M326.72 189.4 v1.1 M328.08 189.4 v1.1 M329.43 189.4 v1.1 M330.79 189.4 v1.1 M332.15 189.4 v1.1 M333.51 189.4 v1.9 M334.87 189.4 v1.1 M336.23 189.4 v1.1 M337.59 189.4 v1.1 M338.95 189.4 v1.1 M340.3 189.4 v1.1 M341.66 189.4 v1.1 M343.02 189.4 v1.1 M344.38 189.4 v1.9 M345.74 189.4 v1.1 M347.1 189.4 v1.1 M348.46 189.4 v1.1 M349.82 189.4 v1.1 M351.17 189.4 v1.1 M352.53 189.4 v1.1 M353.89 189.4 v1.1 M355.25 189.4 v1.9 M356.61 189.4 v1.1 M357.97 189.4 v1.1 M359.33 189.4 v1.1 M360.69 189.4 v1.1 M362.04 189.4 v1.1 M363.4 189.4 v1.1 M364.76 189.4 v1.1 M366.12 189.4 v1.9" stroke="#000" stroke-width="0.6" fill="none"/>
<text x="297.1" y="191.85" font-size="6.8" text-anchor="end" fill="#111">0</text>
<text x="297.1" y="175.5" font-size="6.8" text-anchor="end" fill="#111">200</text>
<text x="297.1" y="159.15" font-size="6.8" text-anchor="end" fill="#111">400</text>
<text x="297.1" y="142.8" font-size="6.8" text-anchor="end" fill="#111">600</text>
<text x="300.9" y="197.9" font-size="6.8" text-anchor="middle" fill="#111">0</text>
<text x="311.77" y="197.9" font-size="6.8" text-anchor="middle" fill="#111">20</text>
<text x="322.64" y="197.9" font-size="6.8" text-anchor="middle" fill="#111">40</text>
<text x="333.51" y="197.9" font-size="6.8" text-anchor="middle" fill="#111">60</text>
<text x="344.38" y="197.9" font-size="6.8" text-anchor="middle" fill="#111">80</text>
<text x="355.25" y="197.9" font-size="6.8" text-anchor="middle" fill="#111">100</text>
<text x="366.12" y="197.9" font-size="6.8" text-anchor="middle" fill="#111">120</text>
<text x="330" y="119.6" font-size="5" font-weight="bold" text-anchor="middle" textLength="14.5" lengthAdjust="spacingAndGlyphs" stroke="#000" stroke-width="0.22">OE-NC</text>
<path d="M405.8 189.4 L405.8 189.4 L405.95 189.32 L406.1 188.86 L406.24 188.21 L406.39 187.43 L406.54 186.56 L406.69 185.59 L406.83 184.56 L406.98 183.45 L407.13 182.28 L407.28 181.06 L407.42 179.78 L407.57 178.45 L407.72 177.07 L407.87 175.64 L408.01 174.18 L408.16 172.67 L408.31 171.12 L408.45 169.53 L408.6 167.91 L408.75 166.25 L408.9 164.56 L409.05 162.83 L409.19 161.07 L409.34 159.27 L409.49 157.45 L409.63 155.59 L409.78 153.71 L409.93 151.8 L410.08 149.86 L410.23 147.89 L410.37 145.89 L410.52 143.87 L410.67 141.82 L410.81 139.75 L410.96 137.65 L411.11 135.53 L411.26 133.38 L411.41 131.21 L411.55 129.02 L411.7 126.8 L411.85 129.02 L412 131.21 L412.14 133.38 L412.29 135.53 L412.44 137.65 L412.59 139.75 L412.73 141.82 L412.88 143.87 L413.03 145.89 L413.18 147.89 L413.32 149.86 L413.47 151.8 L413.62 153.71 L413.76 155.59 L413.91 157.45 L414.06 159.27 L414.21 161.07 L414.36 162.83 L414.5 164.56 L414.65 166.25 L414.8 167.91 L414.94 169.53 L415.09 171.12 L415.24 172.67 L415.39 174.18 L415.54 175.64 L415.68 177.07 L415.83 178.45 L415.98 179.78 L416.12 181.06 L416.27 182.28 L416.42 183.45 L416.57 184.56 L416.72 185.59 L416.86 186.56 L417.01 187.43 L417.16 188.21 L417.31 188.86 L417.45 189.32 L417.6 189.4 L417.6 189.4 Z" fill="#de3321" stroke="#4a140c" stroke-width="0.5"/>
<path d="M429.2 189.4 L429.2 189.4 L429.37 189.38 L429.53 189.36 L429.69 189.33 L429.86 189.3 L430.03 189.27 L430.19 189.23 L430.36 189.2 L430.52 189.15 L430.69 189.11 L430.85 189.06 L431.01 189 L431.18 188.94 L431.35 188.88 L431.51 188.81 L431.68 188.74 L431.84 188.66 L432 188.59 L432.17 188.5 L432.34 188.42 L432.5 188.33 L432.67 188.24 L432.83 188.15 L433 188.05 L433.16 187.96 L433.32 187.87 L433.49 187.77 L433.66 187.68 L433.82 187.6 L433.99 187.51 L434.15 187.43 L434.31 187.35 L434.48 187.28 L434.64 187.22 L434.81 187.16 L434.98 187.12 L435.14 187.07 L435.31 187.04 L435.47 187.02 L435.63 187 L435.8 187 L435.97 187 L436.13 187.02 L436.3 187.04 L436.46 187.07 L436.62 187.12 L436.79 187.16 L436.96 187.22 L437.12 187.28 L437.29 187.35 L437.45 187.43 L437.62 187.51 L437.78 187.6 L437.94 187.68 L438.11 187.77 L438.28 187.87 L438.44 187.96 L438.61 188.05 L438.77 188.15 L438.94 188.24 L439.1 188.33 L439.26 188.42 L439.43 188.5 L439.6 188.59 L439.76 188.66 L439.93 188.74 L440.09 188.81 L440.25 188.88 L440.42 188.94 L440.59 189 L440.75 189.06 L440.92 189.11 L441.08 189.15 L441.25 189.2 L441.41 189.23 L441.58 189.27 L441.74 189.3 L441.91 189.33 L442.07 189.36 L442.24 189.38 L442.4 189.4 L442.4 189.4 Z" fill="#de3321" stroke="#4a140c" stroke-width="0.5"/>
<path d="M409.3 189.4 L409.3 189.4 L409.61 188.86 L409.92 188.5 L410.23 188.2 L410.54 187.94 L410.85 187.71 L411.16 187.5 L411.47 187.31 L411.78 187.13 L412.09 186.96 L412.4 186.81 L412.71 186.67 L413.02 186.55 L413.33 186.43 L413.64 186.33 L413.95 186.24 L414.26 186.16 L414.57 186.09 L414.88 186.03 L415.19 185.98 L415.5 185.94 L415.81 185.91 L416.12 185.89 L416.43 185.88 L416.74 185.88 L417.05 185.87 L417.36 185.86 L417.67 185.86 L417.98 185.85 L418.29 185.85 L418.6 185.84 L418.91 185.84 L419.22 185.83 L419.53 185.83 L419.84 185.82 L420.15 185.82 L420.46 185.81 L420.77 185.81 L421.08 185.81 L421.39 185.81 L421.7 185.8 L422.01 185.8 L422.32 185.8 L422.63 185.8 L422.94 185.8 L423.25 185.8 L423.56 185.8 L423.87 185.8 L424.18 185.8 L424.49 185.8 L424.8 185.8 L425.11 185.8 L425.42 185.8 L425.73 185.8 L426.04 185.81 L426.35 185.81 L426.66 185.81 L426.97 185.81 L427.28 185.82 L427.59 185.82 L427.9 185.83 L428.21 185.84 L428.52 185.86 L428.83 185.89 L429.14 185.93 L429.45 185.99 L429.76 186.05 L430.07 186.12 L430.38 186.21 L430.69 186.3 L431 186.41 L431.31 186.54 L431.62 186.68 L431.93 186.83 L432.24 187.01 L432.55 187.21 L432.86 187.43 L433.17 187.7 L433.48 188.02 L433.79 188.45 L434.1 189.4 L434.1 189.4 Z" fill="url(#hatch)" stroke="#111" stroke-width="0.45"/>
<path d="M403.7 189.4 L403.92 189.4 L404.13 189.4 L404.35 189.4 L404.56 189.4 L404.78 189.4 L404.99 189.4 L405.21 189.4 L405.43 189.4 L405.64 189.4 L405.86 189.4 L406.07 188.94 L406.29 187.97 L406.5 186.76 L406.72 185.35 L406.94 183.78 L407.15 182.08 L407.37 180.25 L407.58 178.32 L407.8 176.28 L408.02 174.15 L408.23 171.93 L408.45 169.62 L408.66 167.24 L408.88 164.78 L409.09 162.24 L409.31 159.64 L409.53 156.97 L409.74 154.24 L409.96 151.44 L410.17 148.59 L410.39 145.67 L410.6 142.7 L410.82 139.68 L411.04 136.6 L411.25 133.46 L411.47 130.28 L411.68 127.05 L411.9 129.79 L412.12 132.98 L412.33 136.12 L412.55 139.21 L412.76 142.24 L412.98 145.22 L413.19 148.14 L413.41 151.01 L413.63 153.81 L413.84 156.55 L414.06 159.22 L414.27 161.81 L414.49 164.33 L414.7 166.78 L414.92 169.15 L415.14 171.43 L415.35 173.6 L415.57 175.66 L415.78 177.11 L416 179.63 L416.21 181.06 L416.43 181.34 L416.65 182.62 L416.86 182.01 L417.08 182.82 L417.29 183.38 L417.51 183.45 L417.73 183.3 L417.94 183.07 L418.16 182.79 L418.37 184.04 L418.59 183.81 L418.8 184.18 L419.02 183.24 L419.24 184.5 L419.45 184.63 L419.67 184.62 L419.88 184.15 L420.1 183.44 L420.31 183.46 L420.53 183.67 L420.75 183.3 L420.96 183.4 L421.18 184.24 L421.39 184.44 L421.61 183.39 L421.82 183.66 L422.04 184.66 L422.26 183.77 L422.47 184.17 L422.69 184.18 L422.9 184.24 L423.12 184.46 L423.34 184.7 L423.55 184.31 L423.77 184.21 L423.98 183.36 L424.2 184.53 L424.41 183.35 L424.63 184.41 L424.85 184.2 L425.06 183.55 L425.28 183.55 L425.49 184.09 L425.71 184.63 L425.92 184.04 L426.14 184.18 L426.36 183.41 L426.57 184.43 L426.79 184.19 L427 183.44 L427.22 184.66 L427.43 184.12 L427.65 183.56 L427.87 183.63 L428.08 184.64 L428.3 184.65 L428.51 184.61 L428.73 183.41 L428.94 184.34 L429.16 183.65 L429.38 183.43 L429.59 184.2 L429.81 184.28 L430.02 183.31 L430.24 183.77 L430.46 184.24 L430.67 183.58 L430.89 184.12 L431.1 184.17 L431.32 184.58 L431.53 183.58 L431.75 183.43 L431.97 183.91 L432.18 183.58 L432.4 184.99 L432.61 184.82 L432.83 184.61 L433.04 184.07 L433.26 184.21 L433.48 185.15 L433.69 185.13 L433.91 185.26 L434.12 185.4 L434.34 185.54 L434.56 185.67 L434.77 185.81 L434.99 185.94 L435.2 186.08 L435.42 186.22 L435.63 186.36 L435.85 186.5 L436.07 186.64 L436.28 186.78 L436.5 186.91 L436.71 187.05 L436.93 187.17 L437.14 187.29 L437.36 187.39 L437.58 187.49 L437.79 187.6 L438.01 187.72 L438.22 187.84 L438.44 187.96 L438.65 188.08 L438.87 188.2 L439.09 188.32 L439.3 188.44 L439.52 188.55 L439.73 188.65 L439.95 188.75 L440.17 188.84 L440.38 188.93 L440.6 189 L440.81 189.08 L441.03 189.14 L441.24 189.2 L441.46 189.25 L441.68 189.29 L441.89 189.33 L442.11 189.36 L442.32 189.39 L442.54 189.4 L442.75 189.4 L442.97 189.4 L443.19 189.4 L443.4 189.4 L443.62 189.4 L443.83 189.4 L444.05 189.4 L444.26 189.4 L444.48 189.4 L444.7 189.4 L444.91 189.4 L445.13 189.4 L445.34 189.4 L445.56 189.4 L445.78 189.4 L445.99 189.4 L446.21 189.4 L446.42 189.4 L446.64 189.4 L446.85 189.4 L447.07 189.4 L447.29 189.4 L447.5 189.4 L447.72 189.4 L447.93 189.4 L448.15 189.4 L448.36 189.4 L448.58 189.4 L448.8 189.4 L449.01 189.4 L449.23 189.4 L449.44 189.4 L449.66 189.4 L449.87 189.4 L450.09 189.4 L450.31 189.4 L450.52 189.4 L450.74 189.4 L450.95 189.4 L451.17 189.4 L451.38 189.4 L451.6 189.4 L451.82 189.4 L452.03 189.4 L452.25 189.4 L452.46 189.4 L452.68 189.4 L452.9 189.4 L453.11 189.4 L453.33 189.4 L453.54 189.4 L453.76 189.4 L453.97 189.4 L454.19 189.4 L454.41 189.4 L454.62 189.4 L454.84 189.4 L455.05 189.4 L455.27 189.4 L455.48 189.4 L455.7 189.4" fill="none" stroke="#000" stroke-width="0.85"/>
<path d="M389.8 124.2 V189.4 H456.8" fill="none" stroke="#000" stroke-width="0.75"/>
<path d="M387.4 189.4 h2.4 M388.5 186.76 h1.3 M388.5 184.12 h1.3 M388.5 181.48 h1.3 M388.5 178.84 h1.3 M387.4 176.2 h2.4 M388.5 173.56 h1.3 M388.5 170.92 h1.3 M388.5 168.28 h1.3 M388.5 165.64 h1.3 M387.4 163 h2.4 M388.5 160.36 h1.3 M388.5 157.72 h1.3 M388.5 155.08 h1.3 M388.5 152.44 h1.3 M387.4 149.8 h2.4 M388.5 147.16 h1.3 M388.5 144.52 h1.3 M388.5 141.88 h1.3 M388.5 139.24 h1.3 M387.4 136.6 h2.4 M388.5 133.96 h1.3 M388.5 131.32 h1.3 M388.5 128.68 h1.3 M388.5 126.04 h1.3 M390.4 189.4 v1.9 M391.76 189.4 v1.1 M393.12 189.4 v1.1 M394.48 189.4 v1.1 M395.84 189.4 v1.1 M397.19 189.4 v1.1 M398.55 189.4 v1.1 M399.91 189.4 v1.1 M401.27 189.4 v1.9 M402.63 189.4 v1.1 M403.99 189.4 v1.1 M405.35 189.4 v1.1 M406.71 189.4 v1.1 M408.06 189.4 v1.1 M409.42 189.4 v1.1 M410.78 189.4 v1.1 M412.14 189.4 v1.9 M413.5 189.4 v1.1 M414.86 189.4 v1.1 M416.22 189.4 v1.1 M417.58 189.4 v1.1 M418.93 189.4 v1.1 M420.29 189.4 v1.1 M421.65 189.4 v1.1 M423.01 189.4 v1.9 M424.37 189.4 v1.1 M425.73 189.4 v1.1 M427.09 189.4 v1.1 M428.45 189.4 v1.1 M429.8 189.4 v1.1 M431.16 189.4 v1.1 M432.52 189.4 v1.1 M433.88 189.4 v1.9 M435.24 189.4 v1.1 M436.6 189.4 v1.1 M437.96 189.4 v1.1 M439.32 189.4 v1.1 M440.67 189.4 v1.1 M442.03 189.4 v1.1 M443.39 189.4 v1.1 M444.75 189.4 v1.9 M446.11 189.4 v1.1 M447.47 189.4 v1.1 M448.83 189.4 v1.1 M450.19 189.4 v1.1 M451.54 189.4 v1.1 M452.9 189.4 v1.1 M454.26 189.4 v1.1 M455.62 189.4 v1.9" stroke="#000" stroke-width="0.6" fill="none"/>
<text x="386.6" y="191.85" font-size="6.8" text-anchor="end" fill="#111">0</text>
<text x="386.6" y="178.65" font-size="6.8" text-anchor="end" fill="#111">200</text>
<text x="386.6" y="165.45" font-size="6.8" text-anchor="end" fill="#111">400</text>
<text x="386.6" y="152.25" font-size="6.8" text-anchor="end" fill="#111">600</text>
<text x="386.6" y="139.05" font-size="6.8" text-anchor="end" fill="#111">800</text>
<text x="390.4" y="197.9" font-size="6.8" text-anchor="middle" fill="#111">0</text>
<text x="401.27" y="197.9" font-size="6.8" text-anchor="middle" fill="#111">20</text>
<text x="412.14" y="197.9" font-size="6.8" text-anchor="middle" fill="#111">40</text>
<text x="423.01" y="197.9" font-size="6.8" text-anchor="middle" fill="#111">60</text>
<text x="433.88" y="197.9" font-size="6.8" text-anchor="middle" fill="#111">80</text>
<text x="444.75" y="197.9" font-size="6.8" text-anchor="middle" fill="#111">100</text>
<text x="455.62" y="197.9" font-size="6.8" text-anchor="middle" fill="#111">120</text>
<text x="423.3" y="119.6" font-size="5" font-weight="bold" text-anchor="middle" textLength="26" lengthAdjust="spacingAndGlyphs" stroke="#000" stroke-width="0.22">OE-TGFBR3</text>
<text x="-0.1" y="231.1" font-size="12.4" font-weight="bold" stroke="#000" stroke-width="0.5">C</text>
<path d="M14.8 235.1 V311.4 H490" fill="none" stroke="#000" stroke-width="1.3"/>
<path d="M14.8 229.1 L13.05 238.7 L16.55 238.7 Z" fill="#000"/>
<path d="M487 310.75 L494 310.55 L504 310.6 L549 311.45 L504 312.4 L494 312.85 L487 312.05 Z" fill="#000"/>
<text x="2.7" y="272.5" font-size="4.6" font-weight="bold" text-anchor="middle" transform="rotate(-90 2.7 272.5)" stroke="#000" stroke-width="0.25">SUNE-1</text>
<text x="11.5" y="272.5" font-size="4.4" font-weight="bold" text-anchor="middle" textLength="17" lengthAdjust="spacingAndGlyphs" transform="rotate(-90 11.5 272.5)" stroke="#000" stroke-width="0.2">Number</text>
<text x="242" y="317.5" font-size="4.9" font-weight="bold" text-anchor="middle" textLength="34.8" lengthAdjust="spacingAndGlyphs" stroke="#000" stroke-width="0.22">Channels(FL2-H)</text>
<path d="M48 297.5 L48 297.5 L48.15 297.43 L48.3 296.99 L48.44 296.38 L48.59 295.66 L48.74 294.84 L48.89 293.94 L49.03 292.96 L49.18 291.93 L49.33 290.84 L49.48 289.69 L49.62 288.49 L49.77 287.25 L49.92 285.96 L50.06 284.62 L50.21 283.25 L50.36 281.84 L50.51 280.39 L50.66 278.9 L50.8 277.38 L50.95 275.83 L51.1 274.24 L51.25 272.62 L51.39 270.98 L51.54 269.3 L51.69 267.59 L51.84 265.85 L51.98 264.09 L52.13 262.3 L52.28 260.48 L52.42 258.64 L52.57 256.77 L52.72 254.88 L52.87 252.96 L53.02 251.02 L53.16 249.06 L53.31 247.07 L53.46 245.06 L53.61 243.03 L53.75 240.98 L53.9 238.9 L54.05 240.98 L54.2 243.03 L54.34 245.06 L54.49 247.07 L54.64 249.06 L54.79 251.02 L54.93 252.96 L55.08 254.88 L55.23 256.77 L55.38 258.64 L55.52 260.48 L55.67 262.3 L55.82 264.09 L55.97 265.85 L56.11 267.59 L56.26 269.3 L56.41 270.98 L56.56 272.62 L56.7 274.24 L56.85 275.83 L57 277.38 L57.15 278.9 L57.29 280.39 L57.44 281.84 L57.59 283.25 L57.73 284.62 L57.88 285.96 L58.03 287.25 L58.18 288.49 L58.33 289.69 L58.47 290.84 L58.62 291.93 L58.77 292.96 L58.92 293.94 L59.06 294.84 L59.21 295.66 L59.36 296.38 L59.51 296.99 L59.65 297.43 L59.8 297.5 L59.8 297.5 Z" fill="#de3321" stroke="#4a140c" stroke-width="0.5"/>
<path d="M71 297.5 L71 297.5 L71.16 297.46 L71.33 297.42 L71.5 297.38 L71.66 297.33 L71.83 297.27 L71.99 297.21 L72.16 297.14 L72.32 297.07 L72.48 296.99 L72.65 296.9 L72.81 296.8 L72.98 296.7 L73.15 296.59 L73.31 296.47 L73.47 296.34 L73.64 296.21 L73.81 296.07 L73.97 295.93 L74.13 295.78 L74.3 295.63 L74.47 295.47 L74.63 295.31 L74.8 295.14 L74.96 294.98 L75.12 294.82 L75.29 294.66 L75.45 294.5 L75.62 294.34 L75.78 294.19 L75.95 294.05 L76.12 293.92 L76.28 293.8 L76.44 293.69 L76.61 293.59 L76.78 293.5 L76.94 293.43 L77.11 293.37 L77.27 293.33 L77.44 293.31 L77.6 293.3 L77.77 293.31 L77.93 293.33 L78.09 293.37 L78.26 293.43 L78.43 293.5 L78.59 293.59 L78.75 293.69 L78.92 293.8 L79.09 293.92 L79.25 294.05 L79.41 294.19 L79.58 294.34 L79.75 294.5 L79.91 294.66 L80.08 294.82 L80.24 294.98 L80.41 295.14 L80.57 295.31 L80.74 295.47 L80.9 295.63 L81.06 295.78 L81.23 295.93 L81.4 296.07 L81.56 296.21 L81.72 296.34 L81.89 296.47 L82.06 296.59 L82.22 296.7 L82.38 296.8 L82.55 296.9 L82.72 296.99 L82.88 297.07 L83.05 297.14 L83.21 297.21 L83.38 297.27 L83.54 297.33 L83.71 297.38 L83.87 297.42 L84.03 297.46 L84.2 297.5 L84.2 297.5 Z" fill="#de3321" stroke="#4a140c" stroke-width="0.5"/>
<path d="M51.5 297.5 L51.5 297.5 L51.81 296.63 L52.11 296.07 L52.42 295.59 L52.72 295.17 L53.03 294.79 L53.33 294.46 L53.64 294.15 L53.94 293.86 L54.25 293.6 L54.55 293.35 L54.86 293.13 L55.16 292.92 L55.47 292.74 L55.77 292.57 L56.08 292.42 L56.38 292.28 L56.69 292.17 L56.99 292.07 L57.3 291.98 L57.6 291.91 L57.91 291.86 L58.21 291.83 L58.52 291.81 L58.82 291.8 L59.12 291.79 L59.43 291.78 L59.73 291.77 L60.04 291.76 L60.34 291.75 L60.65 291.74 L60.95 291.73 L61.26 291.73 L61.56 291.72 L61.87 291.71 L62.17 291.71 L62.48 291.7 L62.79 291.7 L63.09 291.69 L63.4 291.69 L63.7 291.68 L64 291.68 L64.31 291.68 L64.62 291.67 L64.92 291.67 L65.22 291.67 L65.53 291.67 L65.84 291.67 L66.14 291.67 L66.44 291.67 L66.75 291.67 L67.06 291.67 L67.36 291.68 L67.66 291.68 L67.97 291.68 L68.28 291.69 L68.58 291.69 L68.88 291.7 L69.19 291.7 L69.5 291.71 L69.8 291.72 L70.1 291.74 L70.41 291.78 L70.72 291.84 L71.02 291.91 L71.32 292 L71.63 292.1 L71.94 292.22 L72.24 292.36 L72.54 292.52 L72.85 292.7 L73.16 292.9 L73.46 293.12 L73.76 293.37 L74.07 293.66 L74.38 293.98 L74.68 294.34 L74.98 294.77 L75.29 295.29 L75.59 295.97 L75.9 297.5 L75.9 297.5 Z" fill="url(#hatch)" stroke="#111" stroke-width="0.45"/>
<path d="M45.9 297.5 L46.11 297.5 L46.33 297.5 L46.54 297.5 L46.76 297.5 L46.97 297.5 L47.19 297.5 L47.4 297.5 L47.61 297.5 L47.83 297.5 L48.04 297.5 L48.26 297.13 L48.47 296.25 L48.69 295.14 L48.9 293.85 L49.11 292.4 L49.33 290.83 L49.54 289.15 L49.76 287.36 L49.97 285.48 L50.18 283.51 L50.4 281.46 L50.61 279.33 L50.83 277.12 L51.04 274.85 L51.26 272.51 L51.47 270.1 L51.68 267.63 L51.9 265.1 L52.11 262.51 L52.33 259.87 L52.54 257.17 L52.76 254.42 L52.97 251.62 L53.18 248.77 L53.4 245.87 L53.61 242.93 L53.83 239.94 L54.04 240.88 L54.26 243.86 L54.47 246.79 L54.68 249.67 L54.9 252.51 L55.11 255.29 L55.33 258.02 L55.54 260.7 L55.75 263.32 L55.97 265.88 L56.18 268.37 L56.4 270.79 L56.61 273.12 L56.83 275.38 L57.04 277.57 L57.25 279.67 L57.47 281.65 L57.68 283.48 L57.9 285.13 L58.11 286.89 L58.33 287.73 L58.54 288.4 L58.75 288.25 L58.97 289.55 L59.18 288.84 L59.4 289.05 L59.61 289.05 L59.83 289.24 L60.04 289.59 L60.25 290.1 L60.47 290.23 L60.68 290.29 L60.9 289.82 L61.11 290.93 L61.32 290.88 L61.54 290.15 L61.75 290.85 L61.97 291.11 L62.18 291.15 L62.4 290.43 L62.61 290.74 L62.82 289.83 L63.04 289.96 L63.25 289.82 L63.47 290.83 L63.68 291.08 L63.9 291.07 L64.11 290.5 L64.32 290.21 L64.54 290.57 L64.75 290.87 L64.97 290.62 L65.18 290.33 L65.4 290.26 L65.61 290.15 L65.82 290.01 L66.04 290.27 L66.25 291.03 L66.47 290.02 L66.68 290.79 L66.89 290.41 L67.11 290.68 L67.32 290.17 L67.54 290.92 L67.75 290.85 L67.97 290.86 L68.18 290.99 L68.39 289.96 L68.61 290.39 L68.82 290.74 L69.04 290.65 L69.25 289.81 L69.47 290.49 L69.68 290.88 L69.89 290.07 L70.11 290.29 L70.32 289.81 L70.54 291.06 L70.75 290.54 L70.97 290.05 L71.18 290.01 L71.39 289.88 L71.61 291.08 L71.82 290.7 L72.04 290.91 L72.25 290.77 L72.46 289.64 L72.68 290.14 L72.89 289.64 L73.11 290.44 L73.32 289.79 L73.54 290.44 L73.75 290.8 L73.96 290.17 L74.18 290.05 L74.39 291.35 L74.61 290.79 L74.82 290.89 L75.04 291.58 L75.25 291.49 L75.46 291.43 L75.68 291.55 L75.89 291.67 L76.11 291.79 L76.32 291.9 L76.53 292.02 L76.75 292.14 L76.96 292.27 L77.18 292.4 L77.39 292.55 L77.61 292.7 L77.82 292.86 L78.03 293.03 L78.25 293.21 L78.46 293.4 L78.68 293.58 L78.89 293.76 L79.11 293.94 L79.32 294.11 L79.53 294.3 L79.75 294.5 L79.96 294.71 L80.18 294.92 L80.39 295.13 L80.61 295.34 L80.82 295.55 L81.03 295.75 L81.25 295.95 L81.46 296.13 L81.68 296.31 L81.89 296.47 L82.11 296.62 L82.32 296.76 L82.53 296.89 L82.75 297 L82.96 297.11 L83.18 297.2 L83.39 297.28 L83.6 297.35 L83.82 297.41 L84.03 297.46 L84.25 297.5 L84.46 297.5 L84.68 297.5 L84.89 297.5 L85.1 297.5 L85.32 297.5 L85.53 297.5 L85.75 297.5 L85.96 297.5 L86.18 297.5 L86.39 297.5 L86.6 297.5 L86.82 297.5 L87.03 297.5 L87.25 297.5 L87.46 297.5 L87.68 297.5 L87.89 297.5 L88.1 297.5 L88.32 297.5 L88.53 297.5 L88.75 297.5 L88.96 297.5 L89.17 297.5 L89.39 297.5 L89.6 297.5 L89.82 297.5 L90.03 297.5 L90.25 297.5 L90.46 297.5 L90.67 297.5 L90.89 297.5 L91.1 297.5 L91.32 297.5 L91.53 297.5 L91.75 297.5 L91.96 297.5 L92.17 297.5 L92.39 297.5 L92.6 297.5 L92.82 297.5 L93.03 297.5 L93.25 297.5 L93.46 297.5 L93.67 297.5 L93.89 297.5 L94.1 297.5 L94.32 297.5 L94.53 297.5 L94.74 297.5 L94.96 297.5 L95.17 297.5 L95.39 297.5 L95.6 297.5 L95.82 297.5 L96.03 297.5 L96.24 297.5 L96.46 297.5 L96.67 297.5 L96.89 297.5 L97.1 297.5 L97.32 297.5 L97.53 297.5" fill="none" stroke="#000" stroke-width="0.85"/>
<path d="M31.6 232.3 V297.5 H98.6" fill="none" stroke="#000" stroke-width="0.75"/>
<path d="M29.2 297.5 h2.4 M30.3 294.86 h1.3 M30.3 292.22 h1.3 M30.3 289.58 h1.3 M30.3 286.94 h1.3 M29.2 284.3 h2.4 M30.3 281.66 h1.3 M30.3 279.02 h1.3 M30.3 276.38 h1.3 M30.3 273.74 h1.3 M29.2 271.1 h2.4 M30.3 268.46 h1.3 M30.3 265.82 h1.3 M30.3 263.18 h1.3 M30.3 260.54 h1.3 M29.2 257.9 h2.4 M30.3 255.26 h1.3 M30.3 252.62 h1.3 M30.3 249.98 h1.3 M30.3 247.34 h1.3 M29.2 244.7 h2.4 M30.3 242.06 h1.3 M30.3 239.42 h1.3 M30.3 236.78 h1.3 M30.3 234.14 h1.3 M32.2 297.5 v1.9 M33.56 297.5 v1.1 M34.92 297.5 v1.1 M36.28 297.5 v1.1 M37.64 297.5 v1.1 M38.99 297.5 v1.1 M40.35 297.5 v1.1 M41.71 297.5 v1.1 M43.07 297.5 v1.9 M44.43 297.5 v1.1 M45.79 297.5 v1.1 M47.15 297.5 v1.1 M48.51 297.5 v1.1 M49.86 297.5 v1.1 M51.22 297.5 v1.1 M52.58 297.5 v1.1 M53.94 297.5 v1.9 M55.3 297.5 v1.1 M56.66 297.5 v1.1 M58.02 297.5 v1.1 M59.38 297.5 v1.1 M60.73 297.5 v1.1 M62.09 297.5 v1.1 M63.45 297.5 v1.1 M64.81 297.5 v1.9 M66.17 297.5 v1.1 M67.53 297.5 v1.1 M68.89 297.5 v1.1 M70.25 297.5 v1.1 M71.6 297.5 v1.1 M72.96 297.5 v1.1 M74.32 297.5 v1.1 M75.68 297.5 v1.9 M77.04 297.5 v1.1 M78.4 297.5 v1.1 M79.76 297.5 v1.1 M81.12 297.5 v1.1 M82.47 297.5 v1.1 M83.83 297.5 v1.1 M85.19 297.5 v1.1 M86.55 297.5 v1.9 M87.91 297.5 v1.1 M89.27 297.5 v1.1 M90.63 297.5 v1.1 M91.98 297.5 v1.1 M93.34 297.5 v1.1 M94.7 297.5 v1.1 M96.06 297.5 v1.1 M97.42 297.5 v1.9" stroke="#000" stroke-width="0.6" fill="none"/>
<text x="28.4" y="299.95" font-size="6.8" text-anchor="end" fill="#111">0</text>
<text x="28.4" y="286.75" font-size="6.8" text-anchor="end" fill="#111">200</text>
<text x="28.4" y="273.55" font-size="6.8" text-anchor="end" fill="#111">400</text>
<text x="28.4" y="260.35" font-size="6.8" text-anchor="end" fill="#111">600</text>
<text x="28.4" y="247.15" font-size="6.8" text-anchor="end" fill="#111">800</text>
<text x="32.2" y="306" font-size="6.8" text-anchor="middle" fill="#111">0</text>
<text x="43.07" y="306" font-size="6.8" text-anchor="middle" fill="#111">20</text>
<text x="53.94" y="306" font-size="6.8" text-anchor="middle" fill="#111">40</text>
<text x="64.81" y="306" font-size="6.8" text-anchor="middle" fill="#111">60</text>
<text x="75.68" y="306" font-size="6.8" text-anchor="middle" fill="#111">80</text>
<text x="86.55" y="306" font-size="6.8" text-anchor="middle" fill="#111">100</text>
<text x="97.42" y="306" font-size="6.8" text-anchor="middle" fill="#111">120</text>
<text x="64.2" y="227.4" font-size="5" font-weight="bold" text-anchor="middle" textLength="12.25" lengthAdjust="spacingAndGlyphs" stroke="#000" stroke-width="0.22">Blank</text>
<path d="M138.6 297.5 L138.6 297.5 L138.75 297.44 L138.89 297.08 L139.04 296.59 L139.19 295.99 L139.34 295.32 L139.48 294.58 L139.63 293.79 L139.78 292.94 L139.93 292.04 L140.07 291.1 L140.22 290.12 L140.37 289.1 L140.52 288.04 L140.66 286.95 L140.81 285.83 L140.96 284.67 L141.11 283.48 L141.25 282.27 L141.4 281.02 L141.55 279.75 L141.7 278.45 L141.84 277.12 L141.99 275.77 L142.14 274.4 L142.29 273 L142.44 271.58 L142.58 270.13 L142.73 268.67 L142.88 267.18 L143.02 265.67 L143.17 264.14 L143.32 262.59 L143.47 261.02 L143.62 259.43 L143.76 257.82 L143.91 256.19 L144.06 254.55 L144.2 252.88 L144.35 251.2 L144.5 249.5 L144.65 251.2 L144.79 252.88 L144.94 254.55 L145.09 256.19 L145.24 257.82 L145.38 259.43 L145.53 261.02 L145.68 262.59 L145.83 264.14 L145.97 265.67 L146.12 267.18 L146.27 268.67 L146.42 270.13 L146.56 271.58 L146.71 273 L146.86 274.4 L147.01 275.77 L147.16 277.12 L147.3 278.45 L147.45 279.75 L147.6 281.02 L147.75 282.27 L147.89 283.48 L148.04 284.67 L148.19 285.83 L148.33 286.95 L148.48 288.04 L148.63 289.1 L148.78 290.12 L148.92 291.1 L149.07 292.04 L149.22 292.94 L149.37 293.79 L149.51 294.58 L149.66 295.32 L149.81 295.99 L149.96 296.59 L150.1 297.08 L150.25 297.44 L150.4 297.5 L150.4 297.5 Z" fill="#de3321" stroke="#4a140c" stroke-width="0.5"/>
<path d="M160.3 297.5 L160.3 297.5 L160.46 297.45 L160.63 297.39 L160.79 297.33 L160.96 297.25 L161.12 297.17 L161.29 297.09 L161.45 296.99 L161.62 296.88 L161.78 296.77 L161.95 296.64 L162.11 296.5 L162.28 296.35 L162.44 296.2 L162.61 296.03 L162.77 295.85 L162.94 295.66 L163.1 295.46 L163.27 295.26 L163.44 295.04 L163.6 294.82 L163.76 294.6 L163.93 294.37 L164.09 294.13 L164.26 293.9 L164.42 293.67 L164.59 293.44 L164.75 293.21 L164.92 292.99 L165.08 292.78 L165.25 292.58 L165.41 292.39 L165.58 292.21 L165.75 292.05 L165.91 291.91 L166.07 291.79 L166.24 291.69 L166.41 291.61 L166.57 291.55 L166.73 291.51 L166.9 291.5 L167.06 291.51 L167.23 291.55 L167.39 291.61 L167.56 291.69 L167.72 291.79 L167.89 291.91 L168.06 292.05 L168.22 292.21 L168.38 292.39 L168.55 292.58 L168.71 292.78 L168.88 292.99 L169.04 293.21 L169.21 293.44 L169.38 293.67 L169.54 293.9 L169.7 294.13 L169.87 294.37 L170.03 294.6 L170.2 294.82 L170.37 295.04 L170.53 295.26 L170.69 295.46 L170.86 295.66 L171.02 295.85 L171.19 296.03 L171.35 296.2 L171.52 296.35 L171.69 296.5 L171.85 296.64 L172.01 296.77 L172.18 296.88 L172.34 296.99 L172.51 297.09 L172.68 297.17 L172.84 297.25 L173 297.33 L173.17 297.39 L173.33 297.45 L173.5 297.5 L173.5 297.5 Z" fill="#de3321" stroke="#4a140c" stroke-width="0.5"/>
<path d="M142.1 297.5 L142.1 297.5 L142.39 295.98 L142.68 294.99 L142.97 294.16 L143.25 293.42 L143.54 292.76 L143.83 292.16 L144.12 291.61 L144.41 291.1 L144.7 290.63 L144.99 290.19 L145.28 289.78 L145.56 289.41 L145.85 289.07 L146.14 288.75 L146.43 288.47 L146.72 288.21 L147.01 287.98 L147.3 287.78 L147.59 287.61 L147.88 287.46 L148.16 287.34 L148.45 287.25 L148.74 287.18 L149.03 287.14 L149.32 287.12 L149.61 287.11 L149.9 287.09 L150.19 287.07 L150.47 287.05 L150.76 287.04 L151.05 287.02 L151.34 287.01 L151.63 287 L151.92 286.98 L152.21 286.97 L152.5 286.96 L152.78 286.95 L153.07 286.94 L153.36 286.93 L153.65 286.92 L153.94 286.92 L154.23 286.91 L154.52 286.91 L154.81 286.9 L155.09 286.9 L155.38 286.9 L155.67 286.9 L155.96 286.9 L156.25 286.9 L156.54 286.9 L156.83 286.91 L157.12 286.91 L157.4 286.92 L157.69 286.92 L157.98 286.93 L158.27 286.94 L158.56 286.95 L158.85 286.96 L159.14 286.98 L159.42 287.02 L159.71 287.09 L160 287.18 L160.29 287.3 L160.58 287.45 L160.87 287.63 L161.16 287.83 L161.45 288.06 L161.73 288.32 L162.02 288.61 L162.31 288.94 L162.6 289.31 L162.89 289.72 L163.18 290.17 L163.47 290.68 L163.76 291.25 L164.04 291.91 L164.33 292.67 L164.62 293.59 L164.91 294.8 L165.2 297.5 L165.2 297.5 Z" fill="url(#hatch)" stroke="#111" stroke-width="0.45"/>
<path d="M136.5 297.5 L136.71 297.5 L136.92 297.5 L137.14 297.5 L137.35 297.5 L137.56 297.5 L137.77 297.5 L137.98 297.5 L138.2 297.5 L138.41 297.5 L138.62 297.5 L138.83 297.26 L139.04 296.58 L139.25 295.7 L139.47 294.67 L139.68 293.52 L139.89 292.27 L140.1 290.92 L140.31 289.49 L140.53 287.98 L140.74 286.4 L140.95 284.75 L141.16 283.03 L141.37 281.26 L141.59 279.43 L141.8 277.55 L142.01 275.61 L142.22 273.63 L142.43 271.59 L142.65 269.51 L142.86 267.38 L143.07 265.21 L143.28 263 L143.49 260.74 L143.71 258.45 L143.92 256.11 L144.13 253.74 L144.34 251.33 L144.55 250.11 L144.76 252.54 L144.98 254.93 L145.19 257.29 L145.4 259.6 L145.61 261.87 L145.82 264.1 L146.04 266.27 L146.25 268.39 L146.46 270.43 L146.67 272.38 L146.88 274.19 L147.1 275.81 L147.31 277.16 L147.52 278.63 L147.73 279.96 L147.94 281.11 L148.16 282.06 L148.37 282.8 L148.58 283.85 L148.79 284.15 L149 284.35 L149.22 284.07 L149.43 284.14 L149.64 284.9 L149.85 285.29 L150.06 284.97 L150.27 284.59 L150.49 285.4 L150.7 285.34 L150.91 285.61 L151.12 284.9 L151.33 285.36 L151.55 286.16 L151.76 286.22 L151.97 285.93 L152.18 285.73 L152.39 285.61 L152.61 286.37 L152.82 286.27 L153.03 285.53 L153.24 285.93 L153.45 286.1 L153.67 286.07 L153.88 285.17 L154.09 286.06 L154.3 285.71 L154.51 286 L154.73 285.92 L154.94 285.29 L155.15 285.1 L155.36 285.99 L155.57 286.22 L155.78 285.48 L156 286.21 L156.21 286.49 L156.42 285.24 L156.63 285.91 L156.84 285.35 L157.06 285.93 L157.27 285.26 L157.48 285.85 L157.69 286.27 L157.9 286.48 L158.12 285.73 L158.33 285.6 L158.54 285.23 L158.75 286.38 L158.96 285.63 L159.18 285.98 L159.39 285.79 L159.6 286.3 L159.81 286.1 L160.02 285.77 L160.24 285.2 L160.45 286.33 L160.66 285.76 L160.87 285.29 L161.08 285.02 L161.29 286.06 L161.51 286.11 L161.72 284.91 L161.93 284.8 L162.14 285.46 L162.35 286.09 L162.57 284.95 L162.78 285.83 L162.99 285.27 L163.2 285.85 L163.41 285.78 L163.63 286.94 L163.84 286.31 L164.05 287.35 L164.26 287.36 L164.47 286.99 L164.69 287.74 L164.9 287.99 L165.11 288.24 L165.32 288.49 L165.53 288.74 L165.75 288.98 L165.96 289.23 L166.17 289.48 L166.38 289.74 L166.59 290.01 L166.81 290.28 L167.02 290.56 L167.23 290.85 L167.44 291.14 L167.65 291.44 L167.86 291.73 L168.08 292.01 L168.29 292.27 L168.5 292.52 L168.71 292.77 L168.92 293.05 L169.14 293.33 L169.35 293.63 L169.56 293.93 L169.77 294.23 L169.98 294.53 L170.2 294.82 L170.41 295.1 L170.62 295.37 L170.83 295.63 L171.04 295.87 L171.26 296.1 L171.47 296.31 L171.68 296.5 L171.89 296.67 L172.1 296.83 L172.31 296.97 L172.53 297.1 L172.74 297.21 L172.95 297.3 L173.16 297.39 L173.37 297.46 L173.59 297.5 L173.8 297.5 L174.01 297.5 L174.22 297.5 L174.43 297.5 L174.65 297.5 L174.86 297.5 L175.07 297.5 L175.28 297.5 L175.49 297.5 L175.71 297.5 L175.92 297.5 L176.13 297.5 L176.34 297.5 L176.55 297.5 L176.77 297.5 L176.98 297.5 L177.19 297.5 L177.4 297.5 L177.61 297.5 L177.82 297.5 L178.04 297.5 L178.25 297.5 L178.46 297.5 L178.67 297.5 L178.88 297.5 L179.1 297.5 L179.31 297.5 L179.52 297.5 L179.73 297.5 L179.94 297.5 L180.16 297.5 L180.37 297.5 L180.58 297.5 L180.79 297.5 L181 297.5 L181.22 297.5 L181.43 297.5 L181.64 297.5 L181.85 297.5 L182.06 297.5 L182.28 297.5 L182.49 297.5 L182.7 297.5 L182.91 297.5 L183.12 297.5 L183.33 297.5 L183.55 297.5 L183.76 297.5 L183.97 297.5 L184.18 297.5 L184.39 297.5 L184.61 297.5 L184.82 297.5 L185.03 297.5 L185.24 297.5 L185.45 297.5 L185.67 297.5 L185.88 297.5 L186.09 297.5 L186.3 297.5 L186.51 297.5 L186.73 297.5 L186.94 297.5 L187.15 297.5 L187.36 297.5 L187.57 297.5" fill="none" stroke="#000" stroke-width="0.85"/>
<path d="M121.6 232.3 V297.5 H188.6" fill="none" stroke="#000" stroke-width="0.75"/>
<path d="M119.2 297.5 h2.4 M120.3 294.23 h1.3 M120.3 290.96 h1.3 M120.3 287.69 h1.3 M120.3 284.42 h1.3 M119.2 281.15 h2.4 M120.3 277.88 h1.3 M120.3 274.61 h1.3 M120.3 271.34 h1.3 M120.3 268.07 h1.3 M119.2 264.8 h2.4 M120.3 261.53 h1.3 M120.3 258.26 h1.3 M120.3 254.99 h1.3 M120.3 251.72 h1.3 M119.2 248.45 h2.4 M120.3 245.18 h1.3 M120.3 241.91 h1.3 M120.3 238.64 h1.3 M120.3 235.37 h1.3 M122.2 297.5 v1.9 M123.56 297.5 v1.1 M124.92 297.5 v1.1 M126.28 297.5 v1.1 M127.63 297.5 v1.1 M128.99 297.5 v1.1 M130.35 297.5 v1.1 M131.71 297.5 v1.1 M133.07 297.5 v1.9 M134.43 297.5 v1.1 M135.79 297.5 v1.1 M137.15 297.5 v1.1 M138.5 297.5 v1.1 M139.86 297.5 v1.1 M141.22 297.5 v1.1 M142.58 297.5 v1.1 M143.94 297.5 v1.9 M145.3 297.5 v1.1 M146.66 297.5 v1.1 M148.02 297.5 v1.1 M149.38 297.5 v1.1 M150.73 297.5 v1.1 M152.09 297.5 v1.1 M153.45 297.5 v1.1 M154.81 297.5 v1.9 M156.17 297.5 v1.1 M157.53 297.5 v1.1 M158.89 297.5 v1.1 M160.25 297.5 v1.1 M161.6 297.5 v1.1 M162.96 297.5 v1.1 M164.32 297.5 v1.1 M165.68 297.5 v1.9 M167.04 297.5 v1.1 M168.4 297.5 v1.1 M169.76 297.5 v1.1 M171.11 297.5 v1.1 M172.47 297.5 v1.1 M173.83 297.5 v1.1 M175.19 297.5 v1.1 M176.55 297.5 v1.9 M177.91 297.5 v1.1 M179.27 297.5 v1.1 M180.63 297.5 v1.1 M181.98 297.5 v1.1 M183.34 297.5 v1.1 M184.7 297.5 v1.1 M186.06 297.5 v1.1 M187.42 297.5 v1.9" stroke="#000" stroke-width="0.6" fill="none"/>
<text x="118.4" y="299.95" font-size="6.8" text-anchor="end" fill="#111">0</text>
<text x="118.4" y="283.6" font-size="6.8" text-anchor="end" fill="#111">200</text>
<text x="118.4" y="267.25" font-size="6.8" text-anchor="end" fill="#111">400</text>
<text x="118.4" y="250.9" font-size="6.8" text-anchor="end" fill="#111">600</text>
<text x="122.2" y="306" font-size="6.8" text-anchor="middle" fill="#111">0</text>
<text x="133.07" y="306" font-size="6.8" text-anchor="middle" fill="#111">20</text>
<text x="143.94" y="306" font-size="6.8" text-anchor="middle" fill="#111">40</text>
<text x="154.81" y="306" font-size="6.8" text-anchor="middle" fill="#111">60</text>
<text x="165.68" y="306" font-size="6.8" text-anchor="middle" fill="#111">80</text>
<text x="176.55" y="306" font-size="6.8" text-anchor="middle" fill="#111">100</text>
<text x="187.42" y="306" font-size="6.8" text-anchor="middle" fill="#111">120</text>
<text x="151.8" y="227.4" font-size="5" font-weight="bold" text-anchor="middle" textLength="6.25" lengthAdjust="spacingAndGlyphs" stroke="#000" stroke-width="0.22">M2</text>
<path d="M227.5 297.5 L227.5 297.5 L227.65 297.44 L227.8 297.06 L227.94 296.53 L228.09 295.89 L228.24 295.17 L228.38 294.39 L228.53 293.54 L228.68 292.63 L228.83 291.68 L228.98 290.68 L229.12 289.63 L229.27 288.54 L229.42 287.41 L229.56 286.25 L229.71 285.05 L229.86 283.82 L230.01 282.55 L230.16 281.25 L230.3 279.92 L230.45 278.57 L230.6 277.18 L230.75 275.77 L230.89 274.33 L231.04 272.86 L231.19 271.37 L231.34 269.85 L231.48 268.31 L231.63 266.75 L231.78 265.16 L231.93 263.55 L232.07 261.92 L232.22 260.26 L232.37 258.59 L232.52 256.89 L232.66 255.18 L232.81 253.44 L232.96 251.68 L233.11 249.91 L233.25 248.11 L233.4 246.3 L233.55 248.11 L233.69 249.91 L233.84 251.68 L233.99 253.44 L234.14 255.18 L234.28 256.89 L234.43 258.59 L234.58 260.26 L234.73 261.92 L234.88 263.55 L235.02 265.16 L235.17 266.75 L235.32 268.31 L235.47 269.85 L235.61 271.37 L235.76 272.86 L235.91 274.33 L236.06 275.77 L236.2 277.18 L236.35 278.57 L236.5 279.92 L236.65 281.25 L236.79 282.55 L236.94 283.82 L237.09 285.05 L237.24 286.25 L237.38 287.41 L237.53 288.54 L237.68 289.63 L237.82 290.68 L237.97 291.68 L238.12 292.63 L238.27 293.54 L238.42 294.39 L238.56 295.17 L238.71 295.89 L238.86 296.53 L239 297.06 L239.15 297.44 L239.3 297.5 L239.3 297.5 Z" fill="#de3321" stroke="#4a140c" stroke-width="0.5"/>
<path d="M250.4 297.5 L250.4 297.5 L250.56 297.43 L250.73 297.36 L250.9 297.27 L251.06 297.18 L251.23 297.08 L251.39 296.96 L251.56 296.84 L251.72 296.7 L251.88 296.55 L252.05 296.38 L252.22 296.2 L252.38 296.01 L252.55 295.81 L252.71 295.59 L252.88 295.35 L253.04 295.11 L253.21 294.85 L253.37 294.58 L253.53 294.31 L253.7 294.02 L253.87 293.73 L254.03 293.43 L254.19 293.12 L254.36 292.82 L254.53 292.52 L254.69 292.22 L254.86 291.92 L255.02 291.64 L255.19 291.36 L255.35 291.1 L255.52 290.85 L255.68 290.62 L255.84 290.42 L256.01 290.23 L256.18 290.07 L256.34 289.94 L256.5 289.84 L256.67 289.76 L256.84 289.72 L257 289.7 L257.17 289.72 L257.33 289.76 L257.5 289.84 L257.66 289.94 L257.82 290.07 L257.99 290.23 L258.16 290.42 L258.32 290.62 L258.49 290.85 L258.65 291.1 L258.81 291.36 L258.98 291.64 L259.14 291.92 L259.31 292.22 L259.48 292.52 L259.64 292.82 L259.81 293.12 L259.97 293.43 L260.13 293.73 L260.3 294.02 L260.47 294.31 L260.63 294.58 L260.8 294.85 L260.96 295.11 L261.12 295.35 L261.29 295.59 L261.46 295.81 L261.62 296.01 L261.79 296.2 L261.95 296.38 L262.12 296.55 L262.28 296.7 L262.44 296.84 L262.61 296.96 L262.77 297.08 L262.94 297.18 L263.11 297.27 L263.27 297.36 L263.44 297.43 L263.6 297.5 L263.6 297.5 Z" fill="#de3321" stroke="#4a140c" stroke-width="0.5"/>
<path d="M231 297.5 L231 297.5 L231.3 295.85 L231.61 294.77 L231.91 293.86 L232.22 293.06 L232.52 292.35 L232.82 291.7 L233.13 291.11 L233.43 290.58 L233.73 290.07 L234.04 289.6 L234.34 289.17 L234.65 288.78 L234.95 288.42 L235.25 288.1 L235.56 287.81 L235.86 287.56 L236.16 287.33 L236.47 287.14 L236.77 286.98 L237.08 286.85 L237.38 286.75 L237.68 286.68 L237.99 286.64 L238.29 286.62 L238.59 286.6 L238.9 286.58 L239.2 286.56 L239.5 286.54 L239.81 286.53 L240.11 286.51 L240.42 286.49 L240.72 286.48 L241.02 286.46 L241.33 286.45 L241.63 286.44 L241.94 286.43 L242.24 286.42 L242.54 286.41 L242.85 286.4 L243.15 286.39 L243.45 286.39 L243.76 286.38 L244.06 286.38 L244.37 286.37 L244.67 286.37 L244.97 286.37 L245.28 286.37 L245.58 286.37 L245.88 286.37 L246.19 286.38 L246.49 286.38 L246.8 286.38 L247.1 286.39 L247.4 286.4 L247.71 286.4 L248.01 286.41 L248.31 286.42 L248.62 286.43 L248.92 286.45 L249.23 286.47 L249.53 286.51 L249.83 286.59 L250.14 286.7 L250.44 286.84 L250.74 287 L251.05 287.2 L251.35 287.44 L251.66 287.7 L251.96 288 L252.26 288.34 L252.57 288.73 L252.87 289.15 L253.17 289.64 L253.48 290.18 L253.78 290.79 L254.09 291.49 L254.39 292.3 L254.69 293.29 L255 294.59 L255.3 297.5 L255.3 297.5 Z" fill="url(#hatch)" stroke="#111" stroke-width="0.45"/>
<path d="M225.4 297.5 L225.61 297.5 L225.82 297.5 L226.03 297.5 L226.25 297.5 L226.46 297.5 L226.67 297.5 L226.88 297.5 L227.09 297.5 L227.3 297.5 L227.52 297.5 L227.73 297.26 L227.94 296.54 L228.15 295.61 L228.36 294.52 L228.57 293.29 L228.78 291.96 L229 290.53 L229.21 289.01 L229.42 287.4 L229.63 285.72 L229.84 283.97 L230.05 282.14 L230.27 280.26 L230.48 278.31 L230.69 276.31 L230.9 274.25 L231.11 272.14 L231.32 269.97 L231.53 267.76 L231.75 265.5 L231.96 263.19 L232.17 260.84 L232.38 258.44 L232.59 256 L232.8 253.51 L233.02 250.99 L233.23 248.43 L233.44 246.77 L233.65 249.36 L233.86 251.91 L234.07 254.42 L234.28 256.89 L234.5 259.31 L234.71 261.68 L234.92 264.01 L235.13 266.27 L235.34 268.46 L235.55 270.56 L235.77 272.52 L235.98 274.3 L236.19 275.82 L236.4 277.4 L236.61 278.88 L236.82 280.17 L237.03 281.24 L237.25 282.08 L237.46 282.25 L237.67 283.6 L237.88 283.86 L238.09 283.82 L238.3 283.81 L238.52 284.13 L238.73 284.62 L238.94 284.56 L239.15 284.01 L239.36 283.89 L239.57 285.21 L239.78 284.59 L240 284.44 L240.21 285.56 L240.42 284.56 L240.63 285.69 L240.84 285.13 L241.05 285.23 L241.27 285.12 L241.48 285.57 L241.69 285.41 L241.9 285.18 L242.11 285.4 L242.32 285.08 L242.53 285.37 L242.75 285.39 L242.96 285.97 L243.17 285.13 L243.38 285.31 L243.59 285.67 L243.8 284.93 L244.02 284.91 L244.23 285.36 L244.44 285.75 L244.65 285.34 L244.86 285.85 L245.07 285.82 L245.28 285.4 L245.5 285.87 L245.71 285.38 L245.92 285.29 L246.13 285.94 L246.34 285.11 L246.55 285.88 L246.77 284.97 L246.98 284.91 L247.19 285.28 L247.4 285.92 L247.61 285.29 L247.82 285.47 L248.03 284.67 L248.25 285.81 L248.46 284.8 L248.67 284.61 L248.88 284.98 L249.09 284.86 L249.3 285.73 L249.52 284.63 L249.73 285.31 L249.94 284.66 L250.15 284.72 L250.36 285.77 L250.57 284.87 L250.78 284.63 L251 285.8 L251.21 285.34 L251.42 284.72 L251.63 285.49 L251.84 284.38 L252.05 285.17 L252.27 284.37 L252.48 285.33 L252.69 284.89 L252.9 284.41 L253.11 285.54 L253.32 285.62 L253.53 285.46 L253.75 285.92 L253.96 286.51 L254.17 286.51 L254.38 286.74 L254.59 285.85 L254.8 286.65 L255.02 286.83 L255.23 287.01 L255.44 287.18 L255.65 287.36 L255.86 287.54 L256.07 287.72 L256.28 287.91 L256.5 288.12 L256.71 288.34 L256.92 288.59 L257.13 288.85 L257.34 289.13 L257.55 289.43 L257.77 289.75 L257.98 290.08 L258.19 290.4 L258.4 290.73 L258.61 291.04 L258.82 291.37 L259.03 291.73 L259.25 292.1 L259.46 292.48 L259.67 292.87 L259.88 293.26 L260.09 293.65 L260.3 294.03 L260.52 294.39 L260.73 294.74 L260.94 295.08 L261.15 295.39 L261.36 295.68 L261.57 295.95 L261.78 296.2 L262 296.43 L262.21 296.63 L262.42 296.82 L262.63 296.98 L262.84 297.12 L263.05 297.25 L263.27 297.35 L263.48 297.45 L263.69 297.5 L263.9 297.5 L264.11 297.5 L264.32 297.5 L264.53 297.5 L264.75 297.5 L264.96 297.5 L265.17 297.5 L265.38 297.5 L265.59 297.5 L265.8 297.5 L266.02 297.5 L266.23 297.5 L266.44 297.5 L266.65 297.5 L266.86 297.5 L267.07 297.5 L267.28 297.5 L267.5 297.5 L267.71 297.5 L267.92 297.5 L268.13 297.5 L268.34 297.5 L268.55 297.5 L268.77 297.5 L268.98 297.5 L269.19 297.5 L269.4 297.5 L269.61 297.5 L269.82 297.5 L270.03 297.5 L270.25 297.5 L270.46 297.5 L270.67 297.5 L270.88 297.5 L271.09 297.5 L271.3 297.5 L271.52 297.5 L271.73 297.5 L271.94 297.5 L272.15 297.5 L272.36 297.5 L272.57 297.5 L272.78 297.5 L273 297.5 L273.21 297.5 L273.42 297.5 L273.63 297.5 L273.84 297.5 L274.05 297.5 L274.27 297.5 L274.48 297.5 L274.69 297.5 L274.9 297.5 L275.11 297.5 L275.32 297.5 L275.53 297.5 L275.75 297.5 L275.96 297.5 L276.17 297.5 L276.38 297.5" fill="none" stroke="#000" stroke-width="0.85"/>
<path d="M210.4 232.3 V297.5 H277.4" fill="none" stroke="#000" stroke-width="0.75"/>
<path d="M208 297.5 h2.4 M209.1 294.23 h1.3 M209.1 290.96 h1.3 M209.1 287.69 h1.3 M209.1 284.42 h1.3 M208 281.15 h2.4 M209.1 277.88 h1.3 M209.1 274.61 h1.3 M209.1 271.34 h1.3 M209.1 268.07 h1.3 M208 264.8 h2.4 M209.1 261.53 h1.3 M209.1 258.26 h1.3 M209.1 254.99 h1.3 M209.1 251.72 h1.3 M208 248.45 h2.4 M209.1 245.18 h1.3 M209.1 241.91 h1.3 M209.1 238.64 h1.3 M209.1 235.37 h1.3 M211 297.5 v1.9 M212.36 297.5 v1.1 M213.72 297.5 v1.1 M215.08 297.5 v1.1 M216.44 297.5 v1.1 M217.79 297.5 v1.1 M219.15 297.5 v1.1 M220.51 297.5 v1.1 M221.87 297.5 v1.9 M223.23 297.5 v1.1 M224.59 297.5 v1.1 M225.95 297.5 v1.1 M227.31 297.5 v1.1 M228.66 297.5 v1.1 M230.02 297.5 v1.1 M231.38 297.5 v1.1 M232.74 297.5 v1.9 M234.1 297.5 v1.1 M235.46 297.5 v1.1 M236.82 297.5 v1.1 M238.18 297.5 v1.1 M239.53 297.5 v1.1 M240.89 297.5 v1.1 M242.25 297.5 v1.1 M243.61 297.5 v1.9 M244.97 297.5 v1.1 M246.33 297.5 v1.1 M247.69 297.5 v1.1 M249.05 297.5 v1.1 M250.4 297.5 v1.1 M251.76 297.5 v1.1 M253.12 297.5 v1.1 M254.48 297.5 v1.9 M255.84 297.5 v1.1 M257.2 297.5 v1.1 M258.56 297.5 v1.1 M259.92 297.5 v1.1 M261.27 297.5 v1.1 M262.63 297.5 v1.1 M263.99 297.5 v1.1 M265.35 297.5 v1.9 M266.71 297.5 v1.1 M268.07 297.5 v1.1 M269.43 297.5 v1.1 M270.78 297.5 v1.1 M272.14 297.5 v1.1 M273.5 297.5 v1.1 M274.86 297.5 v1.1 M276.22 297.5 v1.9" stroke="#000" stroke-width="0.6" fill="none"/>
<text x="207.2" y="299.95" font-size="6.8" text-anchor="end" fill="#111">0</text>
<text x="207.2" y="283.6" font-size="6.8" text-anchor="end" fill="#111">200</text>
<text x="207.2" y="267.25" font-size="6.8" text-anchor="end" fill="#111">400</text>
<text x="207.2" y="250.9" font-size="6.8" text-anchor="end" fill="#111">600</text>
<text x="211" y="306" font-size="6.8" text-anchor="middle" fill="#111">0</text>
<text x="221.87" y="306" font-size="6.8" text-anchor="middle" fill="#111">20</text>
<text x="232.74" y="306" font-size="6.8" text-anchor="middle" fill="#111">40</text>
<text x="243.61" y="306" font-size="6.8" text-anchor="middle" fill="#111">60</text>
<text x="254.48" y="306" font-size="6.8" text-anchor="middle" fill="#111">80</text>
<text x="265.35" y="306" font-size="6.8" text-anchor="middle" fill="#111">100</text>
<text x="276.22" y="306" font-size="6.8" text-anchor="middle" fill="#111">120</text>
<text x="241.2" y="227.4" font-size="5" font-weight="bold" text-anchor="middle" textLength="31.01" lengthAdjust="spacingAndGlyphs" stroke="#000" stroke-width="0.22">M2-mimics NC</text>
<path d="M317.9 297.5 L317.9 297.5 L318.05 297.45 L318.19 297.13 L318.34 296.69 L318.49 296.16 L318.64 295.57 L318.79 294.92 L318.93 294.21 L319.08 293.46 L319.23 292.67 L319.38 291.83 L319.52 290.97 L319.67 290.06 L319.82 289.13 L319.97 288.16 L320.11 287.17 L320.26 286.14 L320.41 285.09 L320.56 284.01 L320.7 282.91 L320.85 281.78 L321 280.63 L321.14 279.46 L321.29 278.26 L321.44 277.05 L321.59 275.81 L321.74 274.55 L321.88 273.27 L322.03 271.97 L322.18 270.65 L322.32 269.32 L322.47 267.96 L322.62 266.59 L322.77 265.2 L322.92 263.79 L323.06 262.37 L323.21 260.93 L323.36 259.47 L323.5 258 L323.65 256.51 L323.8 255 L323.95 256.51 L324.1 258 L324.24 259.47 L324.39 260.93 L324.54 262.37 L324.69 263.79 L324.83 265.2 L324.98 266.59 L325.13 267.96 L325.28 269.32 L325.42 270.65 L325.57 271.97 L325.72 273.27 L325.87 274.55 L326.01 275.81 L326.16 277.05 L326.31 278.26 L326.46 279.46 L326.6 280.63 L326.75 281.78 L326.9 282.91 L327.05 284.01 L327.19 285.09 L327.34 286.14 L327.49 287.17 L327.63 288.16 L327.78 289.13 L327.93 290.06 L328.08 290.97 L328.23 291.83 L328.37 292.67 L328.52 293.46 L328.67 294.21 L328.81 294.92 L328.96 295.57 L329.11 296.16 L329.26 296.69 L329.41 297.13 L329.55 297.45 L329.7 297.5 L329.7 297.5 Z" fill="#de3321" stroke="#4a140c" stroke-width="0.5"/>
<path d="M339.7 297.5 L339.7 297.5 L339.87 297.41 L340.03 297.31 L340.19 297.2 L340.36 297.08 L340.53 296.95 L340.69 296.8 L340.86 296.63 L341.02 296.45 L341.19 296.25 L341.35 296.04 L341.51 295.8 L341.68 295.55 L341.85 295.28 L342.01 295 L342.18 294.69 L342.34 294.37 L342.5 294.04 L342.67 293.69 L342.84 293.32 L343 292.95 L343.17 292.57 L343.33 292.17 L343.5 291.78 L343.66 291.38 L343.82 290.98 L343.99 290.59 L344.16 290.21 L344.32 289.83 L344.49 289.47 L344.65 289.13 L344.81 288.81 L344.98 288.51 L345.14 288.24 L345.31 288 L345.48 287.79 L345.64 287.62 L345.81 287.48 L345.97 287.38 L346.13 287.32 L346.3 287.3 L346.47 287.32 L346.63 287.38 L346.8 287.48 L346.96 287.62 L347.12 287.79 L347.29 288 L347.46 288.24 L347.62 288.51 L347.79 288.81 L347.95 289.13 L348.12 289.47 L348.28 289.83 L348.44 290.21 L348.61 290.59 L348.78 290.98 L348.94 291.38 L349.11 291.78 L349.27 292.17 L349.44 292.57 L349.6 292.95 L349.76 293.32 L349.93 293.69 L350.1 294.04 L350.26 294.37 L350.43 294.69 L350.59 295 L350.75 295.28 L350.92 295.55 L351.09 295.8 L351.25 296.04 L351.42 296.25 L351.58 296.45 L351.75 296.63 L351.91 296.8 L352.08 296.95 L352.24 297.08 L352.41 297.2 L352.57 297.31 L352.74 297.41 L352.9 297.5 L352.9 297.5 Z" fill="#de3321" stroke="#4a140c" stroke-width="0.5"/>
<path d="M321.4 297.5 L321.4 297.5 L321.69 295.52 L321.98 294.23 L322.27 293.14 L322.56 292.18 L322.85 291.32 L323.14 290.53 L323.43 289.82 L323.72 289.16 L324.01 288.55 L324.3 287.97 L324.59 287.45 L324.88 286.96 L325.17 286.51 L325.46 286.11 L325.75 285.74 L326.04 285.41 L326.33 285.11 L326.62 284.85 L326.91 284.63 L327.2 284.44 L327.49 284.29 L327.78 284.17 L328.07 284.08 L328.36 284.04 L328.65 284.01 L328.94 283.99 L329.23 283.96 L329.52 283.94 L329.81 283.92 L330.1 283.9 L330.39 283.88 L330.68 283.86 L330.97 283.84 L331.26 283.83 L331.55 283.81 L331.84 283.8 L332.13 283.78 L332.42 283.77 L332.71 283.76 L333 283.75 L333.29 283.74 L333.58 283.74 L333.87 283.73 L334.16 283.73 L334.45 283.72 L334.74 283.72 L335.03 283.72 L335.32 283.72 L335.61 283.72 L335.9 283.73 L336.19 283.73 L336.48 283.74 L336.77 283.74 L337.06 283.75 L337.35 283.76 L337.64 283.77 L337.93 283.78 L338.22 283.8 L338.51 283.82 L338.8 283.87 L339.09 283.96 L339.38 284.08 L339.67 284.23 L339.96 284.42 L340.25 284.65 L340.54 284.91 L340.83 285.21 L341.12 285.55 L341.41 285.93 L341.7 286.36 L341.99 286.83 L342.28 287.36 L342.57 287.95 L342.86 288.62 L343.15 289.36 L343.44 290.22 L343.73 291.21 L344.02 292.41 L344.31 293.99 L344.6 297.5 L344.6 297.5 Z" fill="url(#hatch)" stroke="#111" stroke-width="0.45"/>
<path d="M315.8 297.5 L316.01 297.5 L316.22 297.5 L316.43 297.5 L316.64 297.5 L316.85 297.5 L317.06 297.5 L317.27 297.5 L317.48 297.5 L317.69 297.5 L317.9 297.5 L318.11 297.34 L318.32 296.78 L318.53 296.03 L318.73 295.14 L318.94 294.15 L319.15 293.07 L319.36 291.9 L319.57 290.66 L319.78 289.35 L319.99 287.98 L320.2 286.55 L320.41 285.06 L320.62 283.52 L320.83 281.93 L321.04 280.29 L321.25 278.61 L321.46 276.88 L321.67 275.11 L321.88 273.3 L322.09 271.45 L322.3 269.56 L322.51 267.64 L322.72 265.68 L322.93 263.68 L323.14 261.65 L323.35 259.58 L323.56 257.48 L323.77 255.35 L323.98 256.78 L324.18 258.89 L324.39 260.97 L324.6 263.01 L324.81 265.01 L325.02 266.96 L325.23 268.86 L325.44 270.69 L325.65 272.41 L325.86 273.97 L326.07 275.31 L326.28 276.32 L326.49 276.92 L326.7 277.47 L326.91 278.27 L327.12 278.96 L327.33 279.51 L327.54 279.93 L327.75 280.25 L327.96 280.25 L328.17 280.14 L328.38 281.31 L328.59 280.58 L328.8 281.64 L329.01 281.18 L329.22 281.15 L329.43 281.65 L329.63 281.05 L329.84 281.61 L330.05 281.7 L330.26 281.39 L330.47 282.59 L330.68 281.47 L330.89 282.09 L331.1 282.54 L331.31 282.08 L331.52 282.83 L331.73 281.81 L331.94 282.39 L332.15 282.7 L332.36 282.13 L332.57 282.58 L332.78 282.95 L332.99 282.16 L333.2 283.13 L333.41 282.05 L333.62 282.84 L333.83 282.31 L334.04 281.82 L334.25 282.38 L334.46 282.27 L334.67 282.76 L334.88 283.2 L335.08 283.15 L335.29 282.99 L335.5 282.34 L335.71 282.59 L335.92 282.48 L336.13 281.95 L336.34 283.02 L336.55 282.88 L336.76 282.29 L336.97 283.17 L337.18 283.2 L337.39 282.7 L337.6 283.05 L337.81 282.7 L338.02 282.89 L338.23 282.38 L338.44 282.38 L338.65 282.91 L338.86 282.33 L339.07 282.54 L339.28 283.01 L339.49 281.89 L339.7 282.86 L339.91 282.95 L340.12 282.97 L340.32 282.15 L340.53 281.76 L340.74 281.8 L340.95 282.25 L341.16 282.34 L341.37 282.59 L341.58 281.66 L341.79 281.79 L342 282.15 L342.21 281.86 L342.42 282.29 L342.63 281.78 L342.84 282.27 L343.05 283.16 L343.26 282.47 L343.47 283.89 L343.68 283.42 L343.89 283.81 L344.1 283.88 L344.31 284.07 L344.52 284.26 L344.73 284.44 L344.94 284.62 L345.15 284.8 L345.36 284.99 L345.57 285.2 L345.78 285.42 L345.98 285.67 L346.19 285.95 L346.4 286.25 L346.61 286.59 L346.82 286.95 L347.03 287.34 L347.24 287.74 L347.45 288.16 L347.66 288.57 L347.87 288.97 L348.08 289.4 L348.29 289.85 L348.5 290.33 L348.71 290.83 L348.92 291.33 L349.13 291.84 L349.34 292.34 L349.55 292.83 L349.76 293.31 L349.97 293.77 L350.18 294.21 L350.39 294.62 L350.6 295.01 L350.81 295.37 L351.02 295.7 L351.23 296 L351.43 296.28 L351.64 296.52 L351.85 296.74 L352.06 296.94 L352.27 297.11 L352.48 297.26 L352.69 297.39 L352.9 297.5 L353.11 297.5 L353.32 297.5 L353.53 297.5 L353.74 297.5 L353.95 297.5 L354.16 297.5 L354.37 297.5 L354.58 297.5 L354.79 297.5 L355 297.5 L355.21 297.5 L355.42 297.5 L355.63 297.5 L355.84 297.5 L356.05 297.5 L356.26 297.5 L356.47 297.5 L356.68 297.5 L356.88 297.5 L357.09 297.5 L357.3 297.5 L357.51 297.5 L357.72 297.5 L357.93 297.5 L358.14 297.5 L358.35 297.5 L358.56 297.5 L358.77 297.5 L358.98 297.5 L359.19 297.5 L359.4 297.5 L359.61 297.5 L359.82 297.5 L360.03 297.5 L360.24 297.5 L360.45 297.5 L360.66 297.5 L360.87 297.5 L361.08 297.5 L361.29 297.5 L361.5 297.5 L361.71 297.5 L361.92 297.5 L362.12 297.5 L362.33 297.5 L362.54 297.5 L362.75 297.5 L362.96 297.5 L363.17 297.5 L363.38 297.5 L363.59 297.5 L363.8 297.5 L364.01 297.5 L364.22 297.5 L364.43 297.5 L364.64 297.5 L364.85 297.5 L365.06 297.5 L365.27 297.5 L365.48 297.5 L365.69 297.5 L365.9 297.5 L366.11 297.5" fill="none" stroke="#000" stroke-width="0.85"/>
<path d="M300.3 232.3 V297.5 H367.3" fill="none" stroke="#000" stroke-width="0.75"/>
<path d="M297.9 297.5 h2.4 M299 294.23 h1.3 M299 290.96 h1.3 M299 287.69 h1.3 M299 284.42 h1.3 M297.9 281.15 h2.4 M299 277.88 h1.3 M299 274.61 h1.3 M299 271.34 h1.3 M299 268.07 h1.3 M297.9 264.8 h2.4 M299 261.53 h1.3 M299 258.26 h1.3 M299 254.99 h1.3 M299 251.72 h1.3 M297.9 248.45 h2.4 M299 245.18 h1.3 M299 241.91 h1.3 M299 238.64 h1.3 M299 235.37 h1.3 M300.9 297.5 v1.9 M302.26 297.5 v1.1 M303.62 297.5 v1.1 M304.98 297.5 v1.1 M306.34 297.5 v1.1 M307.69 297.5 v1.1 M309.05 297.5 v1.1 M310.41 297.5 v1.1 M311.77 297.5 v1.9 M313.13 297.5 v1.1 M314.49 297.5 v1.1 M315.85 297.5 v1.1 M317.21 297.5 v1.1 M318.56 297.5 v1.1 M319.92 297.5 v1.1 M321.28 297.5 v1.1 M322.64 297.5 v1.9 M324 297.5 v1.1 M325.36 297.5 v1.1 M326.72 297.5 v1.1 M328.08 297.5 v1.1 M329.43 297.5 v1.1 M330.79 297.5 v1.1 M332.15 297.5 v1.1 M333.51 297.5 v1.9 M334.87 297.5 v1.1 M336.23 297.5 v1.1 M337.59 297.5 v1.1 M338.95 297.5 v1.1 M340.3 297.5 v1.1 M341.66 297.5 v1.1 M343.02 297.5 v1.1 M344.38 297.5 v1.9 M345.74 297.5 v1.1 M347.1 297.5 v1.1 M348.46 297.5 v1.1 M349.82 297.5 v1.1 M351.17 297.5 v1.1 M352.53 297.5 v1.1 M353.89 297.5 v1.1 M355.25 297.5 v1.9 M356.61 297.5 v1.1 M357.97 297.5 v1.1 M359.33 297.5 v1.1 M360.69 297.5 v1.1 M362.04 297.5 v1.1 M363.4 297.5 v1.1 M364.76 297.5 v1.1 M366.12 297.5 v1.9" stroke="#000" stroke-width="0.6" fill="none"/>
<text x="297.1" y="299.95" font-size="6.8" text-anchor="end" fill="#111">0</text>
<text x="297.1" y="283.6" font-size="6.8" text-anchor="end" fill="#111">200</text>
<text x="297.1" y="267.25" font-size="6.8" text-anchor="end" fill="#111">400</text>
<text x="297.1" y="250.9" font-size="6.8" text-anchor="end" fill="#111">600</text>
<text x="300.9" y="306" font-size="6.8" text-anchor="middle" fill="#111">0</text>
<text x="311.77" y="306" font-size="6.8" text-anchor="middle" fill="#111">20</text>
<text x="322.64" y="306" font-size="6.8" text-anchor="middle" fill="#111">40</text>
<text x="333.51" y="306" font-size="6.8" text-anchor="middle" fill="#111">60</text>
<text x="344.38" y="306" font-size="6.8" text-anchor="middle" fill="#111">80</text>
<text x="355.25" y="306" font-size="6.8" text-anchor="middle" fill="#111">100</text>
<text x="366.12" y="306" font-size="6.8" text-anchor="middle" fill="#111">120</text>
<text x="330.8" y="227.4" font-size="5" font-weight="bold" text-anchor="middle" textLength="42.01" lengthAdjust="spacingAndGlyphs" stroke="#000" stroke-width="0.22">M2-miR-18a mimics</text>
<path d="M407.4 297.5 L407.4 297.5 L407.55 297.44 L407.69 297.06 L407.84 296.53 L407.99 295.89 L408.14 295.17 L408.28 294.39 L408.43 293.54 L408.58 292.63 L408.73 291.68 L408.88 290.68 L409.02 289.63 L409.17 288.54 L409.32 287.41 L409.46 286.25 L409.61 285.05 L409.76 283.82 L409.91 282.55 L410.05 281.25 L410.2 279.92 L410.35 278.57 L410.5 277.18 L410.64 275.77 L410.79 274.33 L410.94 272.86 L411.09 271.37 L411.23 269.85 L411.38 268.31 L411.53 266.75 L411.68 265.16 L411.82 263.55 L411.97 261.92 L412.12 260.26 L412.27 258.59 L412.41 256.89 L412.56 255.18 L412.71 253.44 L412.86 251.68 L413 249.91 L413.15 248.11 L413.3 246.3 L413.45 248.11 L413.59 249.91 L413.74 251.68 L413.89 253.44 L414.04 255.18 L414.18 256.89 L414.33 258.59 L414.48 260.26 L414.63 261.92 L414.77 263.55 L414.92 265.16 L415.07 266.75 L415.22 268.31 L415.36 269.85 L415.51 271.37 L415.66 272.86 L415.81 274.33 L415.95 275.77 L416.1 277.18 L416.25 278.57 L416.4 279.92 L416.54 281.25 L416.69 282.55 L416.84 283.82 L416.99 285.05 L417.13 286.25 L417.28 287.41 L417.43 288.54 L417.58 289.63 L417.72 290.68 L417.87 291.68 L418.02 292.63 L418.17 293.54 L418.31 294.39 L418.46 295.17 L418.61 295.89 L418.76 296.53 L418.9 297.06 L419.05 297.44 L419.2 297.5 L419.2 297.5 Z" fill="#de3321" stroke="#4a140c" stroke-width="0.5"/>
<path d="M430.3 297.5 L430.3 297.5 L430.46 297.45 L430.63 297.39 L430.79 297.33 L430.96 297.25 L431.12 297.17 L431.29 297.09 L431.45 296.99 L431.62 296.88 L431.78 296.77 L431.95 296.64 L432.11 296.5 L432.28 296.35 L432.44 296.2 L432.61 296.03 L432.77 295.85 L432.94 295.66 L433.1 295.46 L433.27 295.26 L433.43 295.04 L433.6 294.82 L433.76 294.6 L433.93 294.37 L434.09 294.13 L434.26 293.9 L434.42 293.67 L434.59 293.44 L434.75 293.21 L434.92 292.99 L435.08 292.78 L435.25 292.58 L435.41 292.39 L435.58 292.21 L435.75 292.05 L435.91 291.91 L436.07 291.79 L436.24 291.69 L436.4 291.61 L436.57 291.55 L436.73 291.51 L436.9 291.5 L437.06 291.51 L437.23 291.55 L437.39 291.61 L437.56 291.69 L437.72 291.79 L437.89 291.91 L438.05 292.05 L438.22 292.21 L438.38 292.39 L438.55 292.58 L438.71 292.78 L438.88 292.99 L439.04 293.21 L439.21 293.44 L439.38 293.67 L439.54 293.9 L439.7 294.13 L439.87 294.37 L440.03 294.6 L440.2 294.82 L440.37 295.04 L440.53 295.26 L440.69 295.46 L440.86 295.66 L441.02 295.85 L441.19 296.03 L441.35 296.2 L441.52 296.35 L441.68 296.5 L441.85 296.64 L442.01 296.77 L442.18 296.88 L442.34 296.99 L442.51 297.09 L442.67 297.17 L442.84 297.25 L443 297.33 L443.17 297.39 L443.33 297.45 L443.5 297.5 L443.5 297.5 Z" fill="#de3321" stroke="#4a140c" stroke-width="0.5"/>
<path d="M410.9 297.5 L410.9 297.5 L411.2 296.08 L411.51 295.16 L411.81 294.38 L412.11 293.7 L412.42 293.09 L412.72 292.53 L413.03 292.03 L413.33 291.57 L413.63 291.13 L413.94 290.73 L414.24 290.36 L414.54 290.03 L414.85 289.72 L415.15 289.45 L415.46 289.2 L415.76 288.98 L416.06 288.78 L416.37 288.62 L416.67 288.48 L416.97 288.37 L417.28 288.28 L417.58 288.22 L417.89 288.19 L418.19 288.17 L418.49 288.16 L418.8 288.14 L419.1 288.12 L419.4 288.11 L419.71 288.09 L420.01 288.08 L420.32 288.07 L420.62 288.05 L420.92 288.04 L421.23 288.03 L421.53 288.02 L421.83 288.01 L422.14 288 L422.44 287.99 L422.75 287.99 L423.05 287.98 L423.35 287.97 L423.66 287.97 L423.96 287.97 L424.26 287.96 L424.57 287.96 L424.87 287.96 L425.18 287.96 L425.48 287.96 L425.78 287.96 L426.09 287.96 L426.39 287.97 L426.69 287.97 L427 287.98 L427.3 287.98 L427.61 287.99 L427.91 288 L428.21 288.01 L428.52 288.01 L428.82 288.02 L429.12 288.04 L429.43 288.08 L429.73 288.15 L430.04 288.24 L430.34 288.36 L430.64 288.5 L430.95 288.67 L431.25 288.87 L431.55 289.1 L431.86 289.36 L432.16 289.65 L432.47 289.98 L432.77 290.35 L433.07 290.76 L433.38 291.22 L433.68 291.75 L433.98 292.35 L434.29 293.05 L434.59 293.89 L434.9 295.01 L435.2 297.5 L435.2 297.5 Z" fill="url(#hatch)" stroke="#111" stroke-width="0.45"/>
<path d="M405.3 297.5 L405.51 297.5 L405.72 297.5 L405.94 297.5 L406.15 297.5 L406.36 297.5 L406.57 297.5 L406.78 297.5 L407 297.5 L407.21 297.5 L407.42 297.5 L407.63 297.25 L407.84 296.52 L408.05 295.58 L408.27 294.49 L408.48 293.26 L408.69 291.92 L408.9 290.48 L409.11 288.95 L409.33 287.34 L409.54 285.66 L409.75 283.9 L409.96 282.07 L410.17 280.18 L410.39 278.23 L410.6 276.22 L410.81 274.15 L411.02 272.03 L411.23 269.86 L411.45 267.64 L411.66 265.37 L411.87 263.06 L412.08 260.7 L412.29 258.29 L412.51 255.84 L412.72 253.35 L412.93 250.82 L413.14 248.25 L413.35 246.95 L413.56 249.54 L413.78 252.1 L413.99 254.61 L414.2 257.07 L414.41 259.5 L414.62 261.88 L414.84 264.21 L415.05 266.48 L415.26 268.69 L415.47 270.82 L415.68 272.85 L415.9 274.73 L416.11 276.42 L416.32 278.15 L416.53 279.75 L416.74 281.19 L416.96 282.43 L417.17 283.43 L417.38 284.57 L417.59 285.37 L417.8 284.73 L418.02 286.05 L418.23 285.47 L418.44 285.07 L418.65 286.31 L418.86 286.34 L419.07 285.89 L419.29 286.15 L419.5 286.08 L419.71 285.96 L419.92 286.97 L420.13 286.9 L420.35 287.03 L420.56 287.5 L420.77 286.44 L420.98 286.6 L421.19 286.7 L421.41 287.69 L421.62 286.52 L421.83 286.66 L422.04 287.05 L422.25 286.66 L422.47 287.07 L422.68 287.38 L422.89 287.55 L423.1 287.37 L423.31 287.65 L423.53 287.23 L423.74 286.65 L423.95 286.73 L424.16 286.52 L424.37 286.7 L424.58 287.33 L424.8 286.92 L425.01 287.09 L425.22 286.6 L425.43 286.97 L425.64 287.33 L425.86 286.8 L426.07 286.35 L426.28 287.4 L426.49 286.47 L426.7 287.68 L426.92 287.34 L427.13 287.37 L427.34 286.66 L427.55 286.38 L427.76 286.66 L427.98 287.24 L428.19 286.47 L428.4 287.24 L428.61 287.37 L428.82 286.43 L429.04 286.82 L429.25 286.73 L429.46 286.77 L429.67 286.33 L429.88 287.04 L430.09 286.52 L430.31 286.72 L430.52 286.47 L430.73 287.03 L430.94 286.59 L431.15 286.77 L431.37 287.09 L431.58 287.17 L431.79 286.53 L432 287.24 L432.21 286.06 L432.43 287.16 L432.64 287.41 L432.85 287.4 L433.06 286.39 L433.27 287.37 L433.49 287.84 L433.7 288.19 L433.91 288.37 L434.12 287.66 L434.33 287.94 L434.55 288.06 L434.76 288.53 L434.97 288.72 L435.18 288.92 L435.39 289.1 L435.6 289.29 L435.82 289.48 L436.03 289.68 L436.24 289.88 L436.45 290.09 L436.66 290.31 L436.88 290.54 L437.09 290.78 L437.3 291.04 L437.51 291.3 L437.72 291.57 L437.94 291.84 L438.15 292.11 L438.36 292.36 L438.57 292.6 L438.78 292.86 L439 293.14 L439.21 293.43 L439.42 293.73 L439.63 294.03 L439.84 294.33 L440.06 294.63 L440.27 294.91 L440.48 295.19 L440.69 295.46 L440.9 295.71 L441.11 295.95 L441.33 296.17 L441.54 296.37 L441.75 296.56 L441.96 296.73 L442.17 296.88 L442.39 297.01 L442.6 297.13 L442.81 297.24 L443.02 297.33 L443.23 297.41 L443.45 297.48 L443.66 297.5 L443.87 297.5 L444.08 297.5 L444.29 297.5 L444.51 297.5 L444.72 297.5 L444.93 297.5 L445.14 297.5 L445.35 297.5 L445.57 297.5 L445.78 297.5 L445.99 297.5 L446.2 297.5 L446.41 297.5 L446.62 297.5 L446.84 297.5 L447.05 297.5 L447.26 297.5 L447.47 297.5 L447.68 297.5 L447.9 297.5 L448.11 297.5 L448.32 297.5 L448.53 297.5 L448.74 297.5 L448.96 297.5 L449.17 297.5 L449.38 297.5 L449.59 297.5 L449.8 297.5 L450.02 297.5 L450.23 297.5 L450.44 297.5 L450.65 297.5 L450.86 297.5 L451.08 297.5 L451.29 297.5 L451.5 297.5 L451.71 297.5 L451.92 297.5 L452.13 297.5 L452.35 297.5 L452.56 297.5 L452.77 297.5 L452.98 297.5 L453.19 297.5 L453.41 297.5 L453.62 297.5 L453.83 297.5 L454.04 297.5 L454.25 297.5 L454.47 297.5 L454.68 297.5 L454.89 297.5 L455.1 297.5 L455.31 297.5 L455.53 297.5 L455.74 297.5 L455.95 297.5 L456.16 297.5 L456.37 297.5" fill="none" stroke="#000" stroke-width="0.85"/>
<path d="M390.4 232.3 V297.5 H457.4" fill="none" stroke="#000" stroke-width="0.75"/>
<path d="M388 297.5 h2.4 M389.1 294.23 h1.3 M389.1 290.96 h1.3 M389.1 287.69 h1.3 M389.1 284.42 h1.3 M388 281.15 h2.4 M389.1 277.88 h1.3 M389.1 274.61 h1.3 M389.1 271.34 h1.3 M389.1 268.07 h1.3 M388 264.8 h2.4 M389.1 261.53 h1.3 M389.1 258.26 h1.3 M389.1 254.99 h1.3 M389.1 251.72 h1.3 M388 248.45 h2.4 M389.1 245.18 h1.3 M389.1 241.91 h1.3 M389.1 238.64 h1.3 M389.1 235.37 h1.3 M391 297.5 v1.9 M392.36 297.5 v1.1 M393.72 297.5 v1.1 M395.08 297.5 v1.1 M396.44 297.5 v1.1 M397.79 297.5 v1.1 M399.15 297.5 v1.1 M400.51 297.5 v1.1 M401.87 297.5 v1.9 M403.23 297.5 v1.1 M404.59 297.5 v1.1 M405.95 297.5 v1.1 M407.31 297.5 v1.1 M408.66 297.5 v1.1 M410.02 297.5 v1.1 M411.38 297.5 v1.1 M412.74 297.5 v1.9 M414.1 297.5 v1.1 M415.46 297.5 v1.1 M416.82 297.5 v1.1 M418.18 297.5 v1.1 M419.53 297.5 v1.1 M420.89 297.5 v1.1 M422.25 297.5 v1.1 M423.61 297.5 v1.9 M424.97 297.5 v1.1 M426.33 297.5 v1.1 M427.69 297.5 v1.1 M429.05 297.5 v1.1 M430.4 297.5 v1.1 M431.76 297.5 v1.1 M433.12 297.5 v1.1 M434.48 297.5 v1.9 M435.84 297.5 v1.1 M437.2 297.5 v1.1 M438.56 297.5 v1.1 M439.92 297.5 v1.1 M441.27 297.5 v1.1 M442.63 297.5 v1.1 M443.99 297.5 v1.1 M445.35 297.5 v1.9 M446.71 297.5 v1.1 M448.07 297.5 v1.1 M449.43 297.5 v1.1 M450.78 297.5 v1.1 M452.14 297.5 v1.1 M453.5 297.5 v1.1 M454.86 297.5 v1.1 M456.22 297.5 v1.9" stroke="#000" stroke-width="0.6" fill="none"/>
<text x="387.2" y="299.95" font-size="6.8" text-anchor="end" fill="#111">0</text>
<text x="387.2" y="283.6" font-size="6.8" text-anchor="end" fill="#111">200</text>
<text x="387.2" y="267.25" font-size="6.8" text-anchor="end" fill="#111">400</text>
<text x="387.2" y="250.9" font-size="6.8" text-anchor="end" fill="#111">600</text>
<text x="391" y="306" font-size="6.8" text-anchor="middle" fill="#111">0</text>
<text x="401.87" y="306" font-size="6.8" text-anchor="middle" fill="#111">20</text>
<text x="412.74" y="306" font-size="6.8" text-anchor="middle" fill="#111">40</text>
<text x="423.61" y="306" font-size="6.8" text-anchor="middle" fill="#111">60</text>
<text x="434.48" y="306" font-size="6.8" text-anchor="middle" fill="#111">80</text>
<text x="445.35" y="306" font-size="6.8" text-anchor="middle" fill="#111">100</text>
<text x="456.22" y="306" font-size="6.8" text-anchor="middle" fill="#111">120</text>
<text x="423.3" y="227.4" font-size="5" font-weight="bold" text-anchor="middle" textLength="19.5" lengthAdjust="spacingAndGlyphs" stroke="#000" stroke-width="0.22">M2-si-NC</text>
<path d="M497 297.5 L497 297.5 L497.15 297.45 L497.3 297.14 L497.44 296.7 L497.59 296.18 L497.74 295.59 L497.88 294.95 L498.03 294.25 L498.18 293.51 L498.33 292.72 L498.48 291.9 L498.62 291.04 L498.77 290.15 L498.92 289.23 L499.06 288.27 L499.21 287.29 L499.36 286.27 L499.51 285.24 L499.65 284.17 L499.8 283.08 L499.95 281.97 L500.1 280.83 L500.25 279.67 L500.39 278.49 L500.54 277.29 L500.69 276.06 L500.83 274.82 L500.98 273.56 L501.13 272.27 L501.28 270.97 L501.43 269.65 L501.57 268.31 L501.72 266.95 L501.87 265.58 L502.01 264.19 L502.16 262.78 L502.31 261.36 L502.46 259.92 L502.61 258.46 L502.75 256.99 L502.9 255.5 L503.05 256.99 L503.19 258.46 L503.34 259.92 L503.49 261.36 L503.64 262.78 L503.78 264.19 L503.93 265.58 L504.08 266.95 L504.23 268.31 L504.38 269.65 L504.52 270.97 L504.67 272.27 L504.82 273.56 L504.96 274.82 L505.11 276.06 L505.26 277.29 L505.41 278.49 L505.56 279.67 L505.7 280.83 L505.85 281.97 L506 283.08 L506.14 284.17 L506.29 285.24 L506.44 286.27 L506.59 287.29 L506.74 288.27 L506.88 289.23 L507.03 290.15 L507.18 291.04 L507.32 291.9 L507.47 292.72 L507.62 293.51 L507.77 294.25 L507.92 294.95 L508.06 295.59 L508.21 296.18 L508.36 296.7 L508.5 297.14 L508.65 297.45 L508.8 297.5 L508.8 297.5 Z" fill="#de3321" stroke="#4a140c" stroke-width="0.5"/>
<path d="M520.6 297.5 L520.6 297.5 L520.76 297.41 L520.93 297.31 L521.1 297.2 L521.26 297.08 L521.42 296.95 L521.59 296.8 L521.75 296.63 L521.92 296.45 L522.09 296.25 L522.25 296.04 L522.41 295.8 L522.58 295.55 L522.75 295.28 L522.91 295 L523.08 294.69 L523.24 294.37 L523.4 294.04 L523.57 293.69 L523.74 293.32 L523.9 292.95 L524.07 292.57 L524.23 292.17 L524.39 291.78 L524.56 291.38 L524.73 290.98 L524.89 290.59 L525.05 290.21 L525.22 289.83 L525.38 289.47 L525.55 289.13 L525.72 288.81 L525.88 288.51 L526.04 288.24 L526.21 288 L526.38 287.79 L526.54 287.62 L526.71 287.48 L526.87 287.38 L527.03 287.32 L527.2 287.3 L527.37 287.32 L527.53 287.38 L527.7 287.48 L527.86 287.62 L528.02 287.79 L528.19 288 L528.36 288.24 L528.52 288.51 L528.68 288.81 L528.85 289.13 L529.01 289.47 L529.18 289.83 L529.35 290.21 L529.51 290.59 L529.67 290.98 L529.84 291.38 L530 291.78 L530.17 292.17 L530.34 292.57 L530.5 292.95 L530.66 293.32 L530.83 293.69 L531 294.04 L531.16 294.37 L531.33 294.69 L531.49 295 L531.65 295.28 L531.82 295.55 L531.99 295.8 L532.15 296.04 L532.32 296.25 L532.48 296.45 L532.64 296.63 L532.81 296.8 L532.98 296.95 L533.14 297.08 L533.31 297.2 L533.47 297.31 L533.63 297.41 L533.8 297.5 L533.8 297.5 Z" fill="#de3321" stroke="#4a140c" stroke-width="0.5"/>
<path d="M500.5 297.5 L500.5 297.5 L500.81 295.49 L501.12 294.18 L501.44 293.08 L501.75 292.12 L502.06 291.25 L502.38 290.47 L502.69 289.76 L503 289.11 L503.31 288.5 L503.62 287.95 L503.94 287.44 L504.25 286.97 L504.56 286.55 L504.88 286.17 L505.19 285.84 L505.5 285.54 L505.81 285.29 L506.12 285.07 L506.44 284.89 L506.75 284.75 L507.06 284.65 L507.38 284.59 L507.69 284.56 L508 284.54 L508.31 284.52 L508.62 284.49 L508.94 284.47 L509.25 284.45 L509.56 284.43 L509.88 284.41 L510.19 284.39 L510.5 284.38 L510.81 284.36 L511.12 284.34 L511.44 284.33 L511.75 284.32 L512.06 284.31 L512.38 284.29 L512.69 284.28 L513 284.28 L513.31 284.27 L513.62 284.26 L513.94 284.26 L514.25 284.25 L514.56 284.25 L514.88 284.25 L515.19 284.25 L515.5 284.25 L515.81 284.25 L516.12 284.26 L516.44 284.26 L516.75 284.27 L517.06 284.28 L517.38 284.28 L517.69 284.29 L518 284.3 L518.31 284.32 L518.62 284.33 L518.94 284.34 L519.25 284.36 L519.56 284.4 L519.88 284.47 L520.19 284.59 L520.5 284.74 L520.81 284.93 L521.12 285.15 L521.44 285.42 L521.75 285.73 L522.06 286.09 L522.38 286.49 L522.69 286.94 L523 287.45 L523.31 288.02 L523.62 288.67 L523.94 289.4 L524.25 290.24 L524.56 291.23 L524.88 292.42 L525.19 293.99 L525.5 297.5 L525.5 297.5 Z" fill="url(#hatch)" stroke="#111" stroke-width="0.45"/>
<path d="M494.9 297.5 L495.11 297.5 L495.32 297.5 L495.54 297.5 L495.75 297.5 L495.96 297.5 L496.17 297.5 L496.38 297.5 L496.6 297.5 L496.81 297.5 L497.02 297.5 L497.23 297.29 L497.44 296.7 L497.65 295.93 L497.87 295.03 L498.08 294.02 L498.29 292.92 L498.5 291.74 L498.71 290.49 L498.93 289.17 L499.14 287.78 L499.35 286.34 L499.56 284.84 L499.77 283.29 L499.99 281.69 L500.2 280.04 L500.41 278.35 L500.62 276.61 L500.83 274.83 L501.05 273.01 L501.26 271.15 L501.47 269.25 L501.68 267.31 L501.89 265.34 L502.11 263.33 L502.32 261.29 L502.53 259.21 L502.74 257.1 L502.95 256.04 L503.17 258.16 L503.38 260.25 L503.59 262.31 L503.8 264.33 L504.01 266.31 L504.22 268.24 L504.44 270.11 L504.65 271.89 L504.86 273.55 L505.07 275.03 L505.28 276.24 L505.5 277.08 L505.71 277.5 L505.92 278.37 L506.13 279.15 L506.34 279.77 L506.56 280.26 L506.77 280.63 L506.98 280.58 L507.19 281.73 L507.4 281.17 L507.62 281.63 L507.83 281.12 L508.04 281.24 L508.25 281.26 L508.46 282.53 L508.68 281.53 L508.89 281.58 L509.1 281.66 L509.31 282.94 L509.52 282.92 L509.73 283.17 L509.95 283.4 L510.16 282.38 L510.37 282.55 L510.58 282.81 L510.79 282.54 L511.01 282.82 L511.22 283.3 L511.43 283.56 L511.64 283.56 L511.85 282.64 L512.07 283.41 L512.28 283.25 L512.49 283.11 L512.7 283.67 L512.91 283.34 L513.13 283.3 L513.34 282.7 L513.55 283.18 L513.76 283.25 L513.97 282.35 L514.18 282.99 L514.4 282.51 L514.61 282.83 L514.82 283.66 L515.03 283.12 L515.24 283.09 L515.46 282.62 L515.67 283.21 L515.88 282.71 L516.09 282.95 L516.3 283.4 L516.52 282.49 L516.73 283.57 L516.94 282.55 L517.15 283.46 L517.36 283.7 L517.58 283.42 L517.79 282.63 L518 282.33 L518.21 283.69 L518.42 283.01 L518.64 283.01 L518.85 282.58 L519.06 283.44 L519.27 283.01 L519.48 283.21 L519.69 282.54 L519.91 283.34 L520.12 282.38 L520.33 283.3 L520.54 283.4 L520.75 282.69 L520.97 282.92 L521.18 283.4 L521.39 282.6 L521.6 283.3 L521.81 282.22 L522.03 282.25 L522.24 282.02 L522.45 282.18 L522.66 282.56 L522.87 282.55 L523.09 282.67 L523.3 282.11 L523.51 283.4 L523.72 282.46 L523.93 283.87 L524.15 283.82 L524.36 283.94 L524.57 283.24 L524.78 283.99 L524.99 284.17 L525.21 284.35 L525.42 284.51 L525.63 284.67 L525.84 284.83 L526.05 284.99 L526.26 285.16 L526.48 285.35 L526.69 285.55 L526.9 285.79 L527.11 286.05 L527.32 286.34 L527.54 286.67 L527.75 287.02 L527.96 287.41 L528.17 287.81 L528.38 288.22 L528.6 288.64 L528.81 289.04 L529.02 289.48 L529.23 289.95 L529.44 290.43 L529.66 290.94 L529.87 291.45 L530.08 291.96 L530.29 292.46 L530.5 292.96 L530.72 293.44 L530.93 293.9 L531.14 294.33 L531.35 294.74 L531.56 295.13 L531.77 295.48 L531.99 295.81 L532.2 296.1 L532.41 296.37 L532.62 296.61 L532.83 296.82 L533.05 297.01 L533.26 297.17 L533.47 297.31 L533.68 297.44 L533.89 297.5 L534.11 297.5 L534.32 297.5 L534.53 297.5 L534.74 297.5 L534.95 297.5 L535.17 297.5 L535.38 297.5 L535.59 297.5 L535.8 297.5 L536.01 297.5 L536.23 297.5 L536.44 297.5 L536.65 297.5 L536.86 297.5 L537.07 297.5 L537.28 297.5 L537.5 297.5 L537.71 297.5 L537.92 297.5 L538.13 297.5 L538.34 297.5 L538.56 297.5 L538.77 297.5 L538.98 297.5 L539.19 297.5 L539.4 297.5 L539.62 297.5 L539.83 297.5 L540.04 297.5 L540.25 297.5 L540.46 297.5 L540.68 297.5 L540.89 297.5 L541.1 297.5 L541.31 297.5 L541.52 297.5 L541.74 297.5 L541.95 297.5 L542.16 297.5 L542.37 297.5 L542.58 297.5 L542.79 297.5 L543.01 297.5 L543.22 297.5 L543.43 297.5 L543.64 297.5 L543.85 297.5 L544.07 297.5 L544.28 297.5 L544.49 297.5 L544.7 297.5 L544.91 297.5 L545.13 297.5 L545.34 297.5 L545.55 297.5 L545.76 297.5 L545.97 297.5" fill="none" stroke="#000" stroke-width="0.85"/>
<path d="M480 232.3 V297.5 H547" fill="none" stroke="#000" stroke-width="0.75"/>
<path d="M477.6 297.5 h2.4 M478.7 294.23 h1.3 M478.7 290.96 h1.3 M478.7 287.69 h1.3 M478.7 284.42 h1.3 M477.6 281.15 h2.4 M478.7 277.88 h1.3 M478.7 274.61 h1.3 M478.7 271.34 h1.3 M478.7 268.07 h1.3 M477.6 264.8 h2.4 M478.7 261.53 h1.3 M478.7 258.26 h1.3 M478.7 254.99 h1.3 M478.7 251.72 h1.3 M477.6 248.45 h2.4 M478.7 245.18 h1.3 M478.7 241.91 h1.3 M478.7 238.64 h1.3 M478.7 235.37 h1.3 M480.6 297.5 v1.9 M481.96 297.5 v1.1 M483.32 297.5 v1.1 M484.68 297.5 v1.1 M486.04 297.5 v1.1 M487.39 297.5 v1.1 M488.75 297.5 v1.1 M490.11 297.5 v1.1 M491.47 297.5 v1.9 M492.83 297.5 v1.1 M494.19 297.5 v1.1 M495.55 297.5 v1.1 M496.91 297.5 v1.1 M498.26 297.5 v1.1 M499.62 297.5 v1.1 M500.98 297.5 v1.1 M502.34 297.5 v1.9 M503.7 297.5 v1.1 M505.06 297.5 v1.1 M506.42 297.5 v1.1 M507.78 297.5 v1.1 M509.13 297.5 v1.1 M510.49 297.5 v1.1 M511.85 297.5 v1.1 M513.21 297.5 v1.9 M514.57 297.5 v1.1 M515.93 297.5 v1.1 M517.29 297.5 v1.1 M518.64 297.5 v1.1 M520 297.5 v1.1 M521.36 297.5 v1.1 M522.72 297.5 v1.1 M524.08 297.5 v1.9 M525.44 297.5 v1.1 M526.8 297.5 v1.1 M528.16 297.5 v1.1 M529.51 297.5 v1.1 M530.87 297.5 v1.1 M532.23 297.5 v1.1 M533.59 297.5 v1.1 M534.95 297.5 v1.9 M536.31 297.5 v1.1 M537.67 297.5 v1.1 M539.03 297.5 v1.1 M540.38 297.5 v1.1 M541.74 297.5 v1.1 M543.1 297.5 v1.1 M544.46 297.5 v1.1 M545.82 297.5 v1.9" stroke="#000" stroke-width="0.6" fill="none"/>
<text x="476.8" y="299.95" font-size="6.8" text-anchor="end" fill="#111">0</text>
<text x="476.8" y="283.6" font-size="6.8" text-anchor="end" fill="#111">200</text>
<text x="476.8" y="267.25" font-size="6.8" text-anchor="end" fill="#111">400</text>
<text x="476.8" y="250.9" font-size="6.8" text-anchor="end" fill="#111">600</text>
<text x="480.6" y="306" font-size="6.8" text-anchor="middle" fill="#111">0</text>
<text x="491.47" y="306" font-size="6.8" text-anchor="middle" fill="#111">20</text>
<text x="502.34" y="306" font-size="6.8" text-anchor="middle" fill="#111">40</text>
<text x="513.21" y="306" font-size="6.8" text-anchor="middle" fill="#111">60</text>
<text x="524.08" y="306" font-size="6.8" text-anchor="middle" fill="#111">80</text>
<text x="534.95" y="306" font-size="6.8" text-anchor="middle" fill="#111">100</text>
<text x="545.82" y="306" font-size="6.8" text-anchor="middle" fill="#111">120</text>
<text x="511.2" y="227.4" font-size="5" font-weight="bold" text-anchor="middle" textLength="31" lengthAdjust="spacingAndGlyphs" stroke="#000" stroke-width="0.22">M2-si-TGFBR3</text>
<text x="-0.1" y="332.8" font-size="12.4" font-weight="bold" stroke="#000" stroke-width="0.5">D</text>
<path d="M14.8 345.4 V421.8 H490" fill="none" stroke="#000" stroke-width="1.3"/>
<path d="M14.8 339.4 L13.05 349 L16.55 349 Z" fill="#000"/>
<path d="M487 421.15 L494 420.95 L504 421 L548.5 421.85 L504 422.8 L494 423.25 L487 422.45 Z" fill="#000"/>
<text x="2.7" y="382" font-size="4.6" font-weight="bold" text-anchor="middle" transform="rotate(-90 2.7 382)" stroke="#000" stroke-width="0.25">CNE2</text>
<text x="11.5" y="382" font-size="4.4" font-weight="bold" text-anchor="middle" textLength="17" lengthAdjust="spacingAndGlyphs" transform="rotate(-90 11.5 382)" stroke="#000" stroke-width="0.2">Number</text>
<text x="242" y="427.3" font-size="4.9" font-weight="bold" text-anchor="middle" textLength="34.8" lengthAdjust="spacingAndGlyphs" stroke="#000" stroke-width="0.22">Channels(FL2-H)</text>
<path d="M47.5 406.5 L47.5 406.5 L47.65 406.44 L47.8 406.07 L47.94 405.55 L48.09 404.93 L48.24 404.23 L48.39 403.46 L48.53 402.63 L48.68 401.75 L48.83 400.81 L48.98 399.84 L49.12 398.81 L49.27 397.75 L49.42 396.65 L49.56 395.51 L49.71 394.34 L49.86 393.14 L50.01 391.9 L50.16 390.63 L50.3 389.34 L50.45 388.01 L50.6 386.66 L50.75 385.28 L50.89 383.87 L51.04 382.44 L51.19 380.98 L51.34 379.5 L51.48 377.99 L51.63 376.47 L51.78 374.92 L51.93 373.34 L52.07 371.75 L52.22 370.14 L52.37 368.5 L52.52 366.84 L52.66 365.17 L52.81 363.47 L52.96 361.76 L53.11 360.02 L53.25 358.27 L53.4 356.5 L53.55 358.27 L53.7 360.02 L53.84 361.76 L53.99 363.47 L54.14 365.17 L54.29 366.84 L54.43 368.5 L54.58 370.14 L54.73 371.75 L54.88 373.34 L55.02 374.92 L55.17 376.47 L55.32 377.99 L55.47 379.5 L55.61 380.98 L55.76 382.44 L55.91 383.87 L56.06 385.28 L56.2 386.66 L56.35 388.01 L56.5 389.34 L56.65 390.63 L56.79 391.9 L56.94 393.14 L57.09 394.34 L57.24 395.51 L57.38 396.65 L57.53 397.75 L57.68 398.81 L57.83 399.84 L57.97 400.81 L58.12 401.75 L58.27 402.63 L58.42 403.46 L58.56 404.23 L58.71 404.93 L58.86 405.55 L59.01 406.07 L59.15 406.44 L59.3 406.5 L59.3 406.5 Z" fill="#de3321" stroke="#4a140c" stroke-width="0.5"/>
<path d="M71 406.5 L71 406.5 L71.16 406.44 L71.33 406.38 L71.5 406.32 L71.66 406.24 L71.83 406.16 L71.99 406.06 L72.16 405.96 L72.32 405.85 L72.48 405.72 L72.65 405.59 L72.81 405.44 L72.98 405.29 L73.15 405.12 L73.31 404.94 L73.47 404.75 L73.64 404.55 L73.81 404.34 L73.97 404.12 L74.13 403.9 L74.3 403.66 L74.47 403.42 L74.63 403.18 L74.8 402.93 L74.96 402.68 L75.12 402.44 L75.29 402.19 L75.45 401.95 L75.62 401.72 L75.78 401.49 L75.95 401.28 L76.12 401.08 L76.28 400.89 L76.44 400.73 L76.61 400.58 L76.78 400.45 L76.94 400.34 L77.11 400.25 L77.27 400.19 L77.44 400.15 L77.6 400.14 L77.77 400.15 L77.93 400.19 L78.09 400.25 L78.26 400.34 L78.43 400.45 L78.59 400.58 L78.75 400.73 L78.92 400.89 L79.09 401.08 L79.25 401.28 L79.41 401.49 L79.58 401.72 L79.75 401.95 L79.91 402.19 L80.08 402.44 L80.24 402.68 L80.41 402.93 L80.57 403.18 L80.74 403.42 L80.9 403.66 L81.06 403.9 L81.23 404.12 L81.4 404.34 L81.56 404.55 L81.72 404.75 L81.89 404.94 L82.06 405.12 L82.22 405.29 L82.38 405.44 L82.55 405.59 L82.72 405.72 L82.88 405.85 L83.05 405.96 L83.21 406.06 L83.38 406.16 L83.54 406.24 L83.71 406.32 L83.87 406.38 L84.03 406.44 L84.2 406.5 L84.2 406.5 Z" fill="#de3321" stroke="#4a140c" stroke-width="0.5"/>
<path d="M51 406.5 L51 406.5 L51.31 405.3 L51.62 404.51 L51.93 403.86 L52.25 403.28 L52.56 402.76 L52.87 402.29 L53.18 401.87 L53.49 401.48 L53.8 401.12 L54.11 400.78 L54.42 400.47 L54.73 400.2 L55.05 399.94 L55.36 399.72 L55.67 399.51 L55.98 399.33 L56.29 399.18 L56.6 399.05 L56.91 398.94 L57.23 398.86 L57.54 398.8 L57.85 398.76 L58.16 398.74 L58.47 398.72 L58.78 398.71 L59.09 398.7 L59.4 398.68 L59.72 398.67 L60.03 398.66 L60.34 398.65 L60.65 398.64 L60.96 398.63 L61.27 398.62 L61.58 398.61 L61.89 398.6 L62.2 398.59 L62.52 398.58 L62.83 398.58 L63.14 398.57 L63.45 398.57 L63.76 398.56 L64.07 398.56 L64.38 398.55 L64.69 398.55 L65.01 398.55 L65.32 398.55 L65.63 398.55 L65.94 398.55 L66.25 398.55 L66.56 398.55 L66.87 398.56 L67.19 398.56 L67.5 398.57 L67.81 398.57 L68.12 398.58 L68.43 398.58 L68.74 398.59 L69.05 398.6 L69.36 398.61 L69.68 398.62 L69.99 398.64 L70.3 398.69 L70.61 398.76 L70.92 398.85 L71.23 398.96 L71.54 399.1 L71.85 399.26 L72.16 399.45 L72.48 399.66 L72.79 399.9 L73.1 400.17 L73.41 400.48 L73.72 400.82 L74.03 401.21 L74.34 401.65 L74.66 402.15 L74.97 402.74 L75.28 403.46 L75.59 404.4 L75.9 406.5 L75.9 406.5 Z" fill="url(#hatch)" stroke="#111" stroke-width="0.45"/>
<path d="M45.4 406.5 L45.62 406.5 L45.83 406.5 L46.05 406.5 L46.26 406.5 L46.48 406.5 L46.7 406.5 L46.91 406.5 L47.13 406.5 L47.35 406.5 L47.56 406.5 L47.78 406.12 L47.99 405.34 L48.21 404.36 L48.43 403.23 L48.64 401.98 L48.86 400.61 L49.07 399.15 L49.29 397.6 L49.51 395.96 L49.72 394.26 L49.94 392.48 L50.16 390.63 L50.37 388.72 L50.59 386.75 L50.8 384.72 L51.02 382.63 L51.24 380.49 L51.45 378.3 L51.67 376.07 L51.88 373.78 L52.1 371.44 L52.32 369.06 L52.53 366.64 L52.75 364.17 L52.97 361.67 L53.18 359.12 L53.4 356.53 L53.61 359.06 L53.83 361.61 L54.05 364.12 L54.26 366.59 L54.48 369.01 L54.69 371.39 L54.91 373.72 L55.13 375.99 L55.34 378.21 L55.56 380.35 L55.78 382.41 L55.99 384.35 L56.21 386.13 L56.42 387.9 L56.64 389.58 L56.86 391.1 L57.07 392.43 L57.29 393.53 L57.5 394.56 L57.72 394.47 L57.94 395.79 L58.15 395.74 L58.37 395.83 L58.59 395.65 L58.8 395.78 L59.02 396.05 L59.23 396.59 L59.45 396.74 L59.67 397.1 L59.88 396.25 L60.1 396.63 L60.31 396.64 L60.53 397.56 L60.75 397.3 L60.96 396.92 L61.18 397.19 L61.4 397.82 L61.61 397.35 L61.83 396.76 L62.04 397.67 L62.26 397.73 L62.48 397.58 L62.69 397.02 L62.91 396.82 L63.12 397.78 L63.34 397.78 L63.56 397.65 L63.77 397.54 L63.99 397.27 L64.21 397.77 L64.42 397.54 L64.64 397.74 L64.85 396.63 L65.07 396.98 L65.29 397.86 L65.5 396.65 L65.72 397.86 L65.93 397.46 L66.15 396.62 L66.37 396.89 L66.58 396.97 L66.8 397.39 L67.02 397.73 L67.23 397.11 L67.45 397.85 L67.66 397.71 L67.88 397.46 L68.1 397.95 L68.31 397.44 L68.53 396.89 L68.74 397.03 L68.96 397.3 L69.18 397.11 L69.39 397.35 L69.61 397.8 L69.83 397.15 L70.04 397.43 L70.26 396.96 L70.47 396.73 L70.69 397.4 L70.91 397.2 L71.12 396.93 L71.34 397.36 L71.55 397.6 L71.77 396.86 L71.99 396.59 L72.2 396.69 L72.42 396.73 L72.64 396.45 L72.85 396.65 L73.07 396.71 L73.28 397.01 L73.5 397.27 L73.72 396.93 L73.93 397.78 L74.15 397.46 L74.36 397.08 L74.58 397.31 L74.8 397.56 L75.01 398.23 L75.23 398.11 L75.45 398.12 L75.66 398.24 L75.88 398.35 L76.09 398.46 L76.31 398.57 L76.53 398.68 L76.74 398.8 L76.96 398.93 L77.17 399.07 L77.39 399.24 L77.61 399.42 L77.82 399.62 L78.04 399.84 L78.26 400.08 L78.47 400.33 L78.69 400.6 L78.9 400.86 L79.12 401.12 L79.34 401.39 L79.55 401.68 L79.77 401.99 L79.98 402.3 L80.2 402.63 L80.42 402.95 L80.63 403.27 L80.85 403.59 L81.07 403.9 L81.28 404.19 L81.5 404.47 L81.71 404.74 L81.93 404.98 L82.15 405.21 L82.36 405.42 L82.58 405.61 L82.79 405.78 L83.01 405.94 L83.23 406.07 L83.44 406.19 L83.66 406.3 L83.88 406.39 L84.09 406.46 L84.31 406.5 L84.52 406.5 L84.74 406.5 L84.96 406.5 L85.17 406.5 L85.39 406.5 L85.6 406.5 L85.82 406.5 L86.04 406.5 L86.25 406.5 L86.47 406.5 L86.69 406.5 L86.9 406.5 L87.12 406.5 L87.33 406.5 L87.55 406.5 L87.77 406.5 L87.98 406.5 L88.2 406.5 L88.41 406.5 L88.63 406.5 L88.85 406.5 L89.06 406.5 L89.28 406.5 L89.5 406.5 L89.71 406.5 L89.93 406.5 L90.14 406.5 L90.36 406.5 L90.58 406.5 L90.79 406.5 L91.01 406.5 L91.22 406.5 L91.44 406.5 L91.66 406.5 L91.87 406.5 L92.09 406.5 L92.31 406.5 L92.52 406.5 L92.74 406.5 L92.95 406.5 L93.17 406.5 L93.39 406.5 L93.6 406.5 L93.82 406.5 L94.03 406.5 L94.25 406.5 L94.47 406.5 L94.68 406.5 L94.9 406.5 L95.12 406.5 L95.33 406.5 L95.55 406.5 L95.76 406.5 L95.98 406.5 L96.2 406.5 L96.41 406.5 L96.63 406.5 L96.84 406.5 L97.06 406.5 L97.28 406.5 L97.49 406.5" fill="none" stroke="#000" stroke-width="0.85"/>
<path d="M31.6 341.3 V406.5 H98.6" fill="none" stroke="#000" stroke-width="0.75"/>
<path d="M29.2 406.5 h2.4 M30.3 403.86 h1.3 M30.3 401.22 h1.3 M30.3 398.58 h1.3 M30.3 395.94 h1.3 M29.2 393.3 h2.4 M30.3 390.66 h1.3 M30.3 388.02 h1.3 M30.3 385.38 h1.3 M30.3 382.74 h1.3 M29.2 380.1 h2.4 M30.3 377.46 h1.3 M30.3 374.82 h1.3 M30.3 372.18 h1.3 M30.3 369.54 h1.3 M29.2 366.9 h2.4 M30.3 364.26 h1.3 M30.3 361.62 h1.3 M30.3 358.98 h1.3 M30.3 356.34 h1.3 M29.2 353.7 h2.4 M30.3 351.06 h1.3 M30.3 348.42 h1.3 M30.3 345.78 h1.3 M30.3 343.14 h1.3 M32.2 406.5 v1.9 M33.56 406.5 v1.1 M34.92 406.5 v1.1 M36.28 406.5 v1.1 M37.64 406.5 v1.1 M38.99 406.5 v1.1 M40.35 406.5 v1.1 M41.71 406.5 v1.1 M43.07 406.5 v1.9 M44.43 406.5 v1.1 M45.79 406.5 v1.1 M47.15 406.5 v1.1 M48.51 406.5 v1.1 M49.86 406.5 v1.1 M51.22 406.5 v1.1 M52.58 406.5 v1.1 M53.94 406.5 v1.9 M55.3 406.5 v1.1 M56.66 406.5 v1.1 M58.02 406.5 v1.1 M59.38 406.5 v1.1 M60.73 406.5 v1.1 M62.09 406.5 v1.1 M63.45 406.5 v1.1 M64.81 406.5 v1.9 M66.17 406.5 v1.1 M67.53 406.5 v1.1 M68.89 406.5 v1.1 M70.25 406.5 v1.1 M71.6 406.5 v1.1 M72.96 406.5 v1.1 M74.32 406.5 v1.1 M75.68 406.5 v1.9 M77.04 406.5 v1.1 M78.4 406.5 v1.1 M79.76 406.5 v1.1 M81.12 406.5 v1.1 M82.47 406.5 v1.1 M83.83 406.5 v1.1 M85.19 406.5 v1.1 M86.55 406.5 v1.9 M87.91 406.5 v1.1 M89.27 406.5 v1.1 M90.63 406.5 v1.1 M91.98 406.5 v1.1 M93.34 406.5 v1.1 M94.7 406.5 v1.1 M96.06 406.5 v1.1 M97.42 406.5 v1.9" stroke="#000" stroke-width="0.6" fill="none"/>
<text x="28.4" y="408.95" font-size="6.8" text-anchor="end" fill="#111">0</text>
<text x="28.4" y="395.75" font-size="6.8" text-anchor="end" fill="#111">200</text>
<text x="28.4" y="382.55" font-size="6.8" text-anchor="end" fill="#111">400</text>
<text x="28.4" y="369.35" font-size="6.8" text-anchor="end" fill="#111">600</text>
<text x="28.4" y="356.15" font-size="6.8" text-anchor="end" fill="#111">800</text>
<text x="32.2" y="415" font-size="6.8" text-anchor="middle" fill="#111">0</text>
<text x="43.07" y="415" font-size="6.8" text-anchor="middle" fill="#111">20</text>
<text x="53.94" y="415" font-size="6.8" text-anchor="middle" fill="#111">40</text>
<text x="64.81" y="415" font-size="6.8" text-anchor="middle" fill="#111">60</text>
<text x="75.68" y="415" font-size="6.8" text-anchor="middle" fill="#111">80</text>
<text x="86.55" y="415" font-size="6.8" text-anchor="middle" fill="#111">100</text>
<text x="97.42" y="415" font-size="6.8" text-anchor="middle" fill="#111">120</text>
<text x="64.2" y="338" font-size="5" font-weight="bold" text-anchor="middle" textLength="12.25" lengthAdjust="spacingAndGlyphs" stroke="#000" stroke-width="0.22">Blank</text>
<path d="M138.6 406.5 L138.6 406.5 L138.75 406.45 L138.89 406.14 L139.04 405.71 L139.19 405.2 L139.34 404.61 L139.48 403.98 L139.63 403.29 L139.78 402.56 L139.93 401.78 L140.07 400.97 L140.22 400.12 L140.37 399.24 L140.52 398.32 L140.66 397.38 L140.81 396.41 L140.96 395.41 L141.11 394.38 L141.25 393.33 L141.4 392.25 L141.55 391.15 L141.7 390.03 L141.84 388.88 L141.99 387.72 L142.14 386.53 L142.29 385.32 L142.44 384.09 L142.58 382.84 L142.73 381.57 L142.88 380.29 L143.02 378.98 L143.17 377.66 L143.32 376.32 L143.47 374.96 L143.62 373.59 L143.76 372.19 L143.91 370.79 L144.06 369.36 L144.2 367.92 L144.35 366.47 L144.5 365 L144.65 366.47 L144.79 367.92 L144.94 369.36 L145.09 370.79 L145.24 372.19 L145.38 373.59 L145.53 374.96 L145.68 376.32 L145.83 377.66 L145.97 378.98 L146.12 380.29 L146.27 381.57 L146.42 382.84 L146.56 384.09 L146.71 385.32 L146.86 386.53 L147.01 387.72 L147.16 388.88 L147.3 390.03 L147.45 391.15 L147.6 392.25 L147.75 393.33 L147.89 394.38 L148.04 395.41 L148.19 396.41 L148.33 397.38 L148.48 398.32 L148.63 399.24 L148.78 400.12 L148.92 400.97 L149.07 401.78 L149.22 402.56 L149.37 403.29 L149.51 403.98 L149.66 404.61 L149.81 405.2 L149.96 405.71 L150.1 406.14 L150.25 406.45 L150.4 406.5 L150.4 406.5 Z" fill="#de3321" stroke="#4a140c" stroke-width="0.5"/>
<path d="M160.3 406.5 L160.3 406.5 L160.46 406.42 L160.63 406.34 L160.79 406.24 L160.96 406.14 L161.12 406.02 L161.29 405.89 L161.45 405.74 L161.62 405.59 L161.78 405.41 L161.95 405.23 L162.11 405.02 L162.28 404.81 L162.44 404.57 L162.61 404.32 L162.77 404.06 L162.94 403.78 L163.1 403.49 L163.27 403.18 L163.44 402.86 L163.6 402.54 L163.76 402.2 L163.93 401.86 L164.09 401.52 L164.26 401.17 L164.42 400.83 L164.59 400.48 L164.75 400.15 L164.92 399.82 L165.08 399.51 L165.25 399.21 L165.41 398.93 L165.58 398.67 L165.75 398.44 L165.91 398.23 L166.07 398.05 L166.24 397.9 L166.41 397.78 L166.57 397.69 L166.73 397.64 L166.9 397.62 L167.06 397.64 L167.23 397.69 L167.39 397.78 L167.56 397.9 L167.72 398.05 L167.89 398.23 L168.06 398.44 L168.22 398.67 L168.38 398.93 L168.55 399.21 L168.71 399.51 L168.88 399.82 L169.04 400.15 L169.21 400.48 L169.38 400.83 L169.54 401.17 L169.7 401.52 L169.87 401.86 L170.03 402.2 L170.2 402.54 L170.37 402.86 L170.53 403.18 L170.69 403.49 L170.86 403.78 L171.02 404.06 L171.19 404.32 L171.35 404.57 L171.52 404.81 L171.69 405.02 L171.85 405.23 L172.01 405.41 L172.18 405.59 L172.34 405.74 L172.51 405.89 L172.68 406.02 L172.84 406.14 L173 406.24 L173.17 406.34 L173.33 406.42 L173.5 406.5 L173.5 406.5 Z" fill="#de3321" stroke="#4a140c" stroke-width="0.5"/>
<path d="M142.1 406.5 L142.1 406.5 L142.39 404.86 L142.68 403.79 L142.97 402.89 L143.25 402.09 L143.54 401.38 L143.83 400.73 L144.12 400.13 L144.41 399.59 L144.7 399.08 L144.99 398.61 L145.28 398.17 L145.56 397.76 L145.85 397.39 L146.14 397.05 L146.43 396.75 L146.72 396.47 L147.01 396.22 L147.3 396.01 L147.59 395.82 L147.88 395.66 L148.16 395.53 L148.45 395.43 L148.74 395.36 L149.03 395.32 L149.32 395.29 L149.61 395.27 L149.9 395.26 L150.19 395.24 L150.47 395.22 L150.76 395.2 L151.05 395.18 L151.34 395.17 L151.63 395.15 L151.92 395.14 L152.21 395.13 L152.5 395.12 L152.78 395.11 L153.07 395.1 L153.36 395.09 L153.65 395.08 L153.94 395.07 L154.23 395.07 L154.52 395.06 L154.81 395.06 L155.09 395.05 L155.38 395.05 L155.67 395.05 L155.96 395.05 L156.25 395.05 L156.54 395.06 L156.83 395.06 L157.12 395.06 L157.4 395.07 L157.69 395.08 L157.98 395.08 L158.27 395.09 L158.56 395.1 L158.85 395.11 L159.14 395.13 L159.42 395.18 L159.71 395.26 L160 395.36 L160.29 395.49 L160.58 395.65 L160.87 395.84 L161.16 396.05 L161.45 396.3 L161.73 396.58 L162.02 396.9 L162.31 397.26 L162.6 397.65 L162.89 398.09 L163.18 398.58 L163.47 399.13 L163.76 399.75 L164.04 400.46 L164.33 401.29 L164.62 402.28 L164.91 403.59 L165.2 406.5 L165.2 406.5 Z" fill="url(#hatch)" stroke="#111" stroke-width="0.45"/>
<path d="M136.5 406.5 L136.71 406.5 L136.92 406.5 L137.14 406.5 L137.35 406.5 L137.56 406.5 L137.77 406.5 L137.98 406.5 L138.2 406.5 L138.41 406.5 L138.62 406.5 L138.83 406.29 L139.04 405.71 L139.25 404.95 L139.47 404.06 L139.68 403.06 L139.89 401.98 L140.1 400.81 L140.31 399.57 L140.53 398.27 L140.74 396.9 L140.95 395.47 L141.16 393.99 L141.37 392.46 L141.59 390.88 L141.8 389.25 L142.01 387.58 L142.22 385.86 L142.43 384.1 L142.65 382.3 L142.86 380.46 L143.07 378.58 L143.28 376.67 L143.49 374.72 L143.71 372.74 L143.92 370.72 L144.13 368.67 L144.34 366.58 L144.55 365.53 L144.76 367.63 L144.98 369.7 L145.19 371.73 L145.4 373.73 L145.61 375.69 L145.82 377.61 L146.04 379.47 L146.25 381.26 L146.46 382.96 L146.67 384.53 L146.88 385.89 L147.1 386.98 L147.31 387.7 L147.52 388.71 L147.73 389.62 L147.94 390.36 L148.16 390.95 L148.37 391.4 L148.58 391.8 L148.79 391.82 L149 392.3 L149.22 392.09 L149.43 391.86 L149.64 393.03 L149.85 392.49 L150.06 392.43 L150.27 393.1 L150.49 393.07 L150.7 392.51 L150.91 393.94 L151.12 393.35 L151.33 394.01 L151.55 393.25 L151.76 393.15 L151.97 393.86 L152.18 394.46 L152.39 393.8 L152.61 393.84 L152.82 393.6 L153.03 393.88 L153.24 393.71 L153.45 393.44 L153.67 393.87 L153.88 394.03 L154.09 393.27 L154.3 394.31 L154.51 393.64 L154.73 394.05 L154.94 393.53 L155.15 394.43 L155.36 393.22 L155.57 394.1 L155.78 394.52 L156 394.22 L156.21 394.04 L156.42 394.58 L156.63 394.01 L156.84 394.01 L157.06 393.62 L157.27 394.11 L157.48 394.23 L157.69 394.29 L157.9 393.56 L158.12 393.28 L158.33 393.86 L158.54 394.29 L158.75 393.48 L158.96 394.05 L159.18 394.3 L159.39 394.42 L159.6 393.51 L159.81 393.47 L160.02 393.71 L160.24 393.94 L160.45 393.79 L160.66 394.21 L160.87 393.13 L161.08 393.93 L161.29 393.46 L161.51 393.13 L161.72 393.05 L161.93 393.44 L162.14 393.63 L162.35 393.27 L162.57 393.91 L162.78 393.01 L162.99 393.8 L163.2 393.25 L163.41 394.22 L163.63 394.24 L163.84 394.59 L164.05 394.52 L164.26 395.03 L164.47 395.45 L164.69 394.91 L164.9 395.06 L165.11 395.2 L165.32 395.33 L165.53 395.47 L165.75 395.61 L165.96 395.76 L166.17 395.92 L166.38 396.1 L166.59 396.3 L166.81 396.53 L167.02 396.78 L167.23 397.06 L167.44 397.37 L167.65 397.7 L167.86 398.05 L168.08 398.41 L168.29 398.77 L168.5 399.13 L168.71 399.51 L168.92 399.91 L169.14 400.33 L169.35 400.77 L169.56 401.21 L169.77 401.66 L169.98 402.1 L170.2 402.53 L170.41 402.95 L170.62 403.35 L170.83 403.73 L171.04 404.09 L171.26 404.42 L171.47 404.73 L171.68 405.02 L171.89 405.27 L172.1 405.51 L172.31 405.72 L172.53 405.9 L172.74 406.07 L172.95 406.21 L173.16 406.33 L173.37 406.44 L173.59 406.5 L173.8 406.5 L174.01 406.5 L174.22 406.5 L174.43 406.5 L174.65 406.5 L174.86 406.5 L175.07 406.5 L175.28 406.5 L175.49 406.5 L175.71 406.5 L175.92 406.5 L176.13 406.5 L176.34 406.5 L176.55 406.5 L176.77 406.5 L176.98 406.5 L177.19 406.5 L177.4 406.5 L177.61 406.5 L177.82 406.5 L178.04 406.5 L178.25 406.5 L178.46 406.5 L178.67 406.5 L178.88 406.5 L179.1 406.5 L179.31 406.5 L179.52 406.5 L179.73 406.5 L179.94 406.5 L180.16 406.5 L180.37 406.5 L180.58 406.5 L180.79 406.5 L181 406.5 L181.22 406.5 L181.43 406.5 L181.64 406.5 L181.85 406.5 L182.06 406.5 L182.28 406.5 L182.49 406.5 L182.7 406.5 L182.91 406.5 L183.12 406.5 L183.33 406.5 L183.55 406.5 L183.76 406.5 L183.97 406.5 L184.18 406.5 L184.39 406.5 L184.61 406.5 L184.82 406.5 L185.03 406.5 L185.24 406.5 L185.45 406.5 L185.67 406.5 L185.88 406.5 L186.09 406.5 L186.3 406.5 L186.51 406.5 L186.73 406.5 L186.94 406.5 L187.15 406.5 L187.36 406.5 L187.57 406.5" fill="none" stroke="#000" stroke-width="0.85"/>
<path d="M121.6 341.3 V406.5 H188.6" fill="none" stroke="#000" stroke-width="0.75"/>
<path d="M119.2 406.5 h2.4 M120.3 403.23 h1.3 M120.3 399.96 h1.3 M120.3 396.69 h1.3 M120.3 393.42 h1.3 M119.2 390.15 h2.4 M120.3 386.88 h1.3 M120.3 383.61 h1.3 M120.3 380.34 h1.3 M120.3 377.07 h1.3 M119.2 373.8 h2.4 M120.3 370.53 h1.3 M120.3 367.26 h1.3 M120.3 363.99 h1.3 M120.3 360.72 h1.3 M119.2 357.45 h2.4 M120.3 354.18 h1.3 M120.3 350.91 h1.3 M120.3 347.64 h1.3 M120.3 344.37 h1.3 M122.2 406.5 v1.9 M123.56 406.5 v1.1 M124.92 406.5 v1.1 M126.28 406.5 v1.1 M127.63 406.5 v1.1 M128.99 406.5 v1.1 M130.35 406.5 v1.1 M131.71 406.5 v1.1 M133.07 406.5 v1.9 M134.43 406.5 v1.1 M135.79 406.5 v1.1 M137.15 406.5 v1.1 M138.5 406.5 v1.1 M139.86 406.5 v1.1 M141.22 406.5 v1.1 M142.58 406.5 v1.1 M143.94 406.5 v1.9 M145.3 406.5 v1.1 M146.66 406.5 v1.1 M148.02 406.5 v1.1 M149.38 406.5 v1.1 M150.73 406.5 v1.1 M152.09 406.5 v1.1 M153.45 406.5 v1.1 M154.81 406.5 v1.9 M156.17 406.5 v1.1 M157.53 406.5 v1.1 M158.89 406.5 v1.1 M160.25 406.5 v1.1 M161.6 406.5 v1.1 M162.96 406.5 v1.1 M164.32 406.5 v1.1 M165.68 406.5 v1.9 M167.04 406.5 v1.1 M168.4 406.5 v1.1 M169.76 406.5 v1.1 M171.11 406.5 v1.1 M172.47 406.5 v1.1 M173.83 406.5 v1.1 M175.19 406.5 v1.1 M176.55 406.5 v1.9 M177.91 406.5 v1.1 M179.27 406.5 v1.1 M180.63 406.5 v1.1 M181.98 406.5 v1.1 M183.34 406.5 v1.1 M184.7 406.5 v1.1 M186.06 406.5 v1.1 M187.42 406.5 v1.9" stroke="#000" stroke-width="0.6" fill="none"/>
<text x="118.4" y="408.95" font-size="6.8" text-anchor="end" fill="#111">0</text>
<text x="118.4" y="392.6" font-size="6.8" text-anchor="end" fill="#111">200</text>
<text x="118.4" y="376.25" font-size="6.8" text-anchor="end" fill="#111">400</text>
<text x="118.4" y="359.9" font-size="6.8" text-anchor="end" fill="#111">600</text>
<text x="122.2" y="415" font-size="6.8" text-anchor="middle" fill="#111">0</text>
<text x="133.07" y="415" font-size="6.8" text-anchor="middle" fill="#111">20</text>
<text x="143.94" y="415" font-size="6.8" text-anchor="middle" fill="#111">40</text>
<text x="154.81" y="415" font-size="6.8" text-anchor="middle" fill="#111">60</text>
<text x="165.68" y="415" font-size="6.8" text-anchor="middle" fill="#111">80</text>
<text x="176.55" y="415" font-size="6.8" text-anchor="middle" fill="#111">100</text>
<text x="187.42" y="415" font-size="6.8" text-anchor="middle" fill="#111">120</text>
<text x="151.8" y="338" font-size="5" font-weight="bold" text-anchor="middle" textLength="6.25" lengthAdjust="spacingAndGlyphs" stroke="#000" stroke-width="0.22">M2</text>
<path d="M227.9 406.5 L227.9 406.5 L228.05 406.45 L228.2 406.16 L228.34 405.75 L228.49 405.26 L228.64 404.71 L228.79 404.1 L228.93 403.45 L229.08 402.75 L229.23 402.02 L229.38 401.25 L229.52 400.44 L229.67 399.61 L229.82 398.74 L229.97 397.84 L230.11 396.92 L230.26 395.97 L230.41 394.99 L230.56 394 L230.7 392.97 L230.85 391.93 L231 390.86 L231.15 389.78 L231.29 388.67 L231.44 387.54 L231.59 386.39 L231.74 385.22 L231.88 384.04 L232.03 382.83 L232.18 381.61 L232.33 380.37 L232.47 379.12 L232.62 377.85 L232.77 376.56 L232.92 375.25 L233.06 373.93 L233.21 372.59 L233.36 371.24 L233.5 369.88 L233.65 368.5 L233.8 367.1 L233.95 368.5 L234.1 369.88 L234.24 371.24 L234.39 372.59 L234.54 373.93 L234.69 375.25 L234.83 376.56 L234.98 377.85 L235.13 379.12 L235.28 380.37 L235.42 381.61 L235.57 382.83 L235.72 384.04 L235.87 385.22 L236.01 386.39 L236.16 387.54 L236.31 388.67 L236.46 389.78 L236.6 390.86 L236.75 391.93 L236.9 392.97 L237.05 394 L237.19 394.99 L237.34 395.97 L237.49 396.92 L237.64 397.84 L237.78 398.74 L237.93 399.61 L238.08 400.44 L238.23 401.25 L238.37 402.02 L238.52 402.75 L238.67 403.45 L238.81 404.1 L238.96 404.71 L239.11 405.26 L239.26 405.75 L239.41 406.16 L239.55 406.45 L239.7 406.5 L239.7 406.5 Z" fill="#de3321" stroke="#4a140c" stroke-width="0.5"/>
<path d="M251 406.5 L251 406.5 L251.17 406.42 L251.33 406.34 L251.5 406.25 L251.66 406.14 L251.83 406.02 L251.99 405.9 L252.16 405.75 L252.32 405.6 L252.49 405.43 L252.65 405.24 L252.81 405.04 L252.98 404.83 L253.15 404.6 L253.31 404.35 L253.48 404.09 L253.64 403.82 L253.81 403.53 L253.97 403.23 L254.13 402.91 L254.3 402.59 L254.47 402.26 L254.63 401.93 L254.8 401.59 L254.96 401.24 L255.12 400.9 L255.29 400.57 L255.46 400.24 L255.62 399.91 L255.79 399.6 L255.95 399.31 L256.12 399.03 L256.28 398.78 L256.44 398.55 L256.61 398.34 L256.77 398.16 L256.94 398.01 L257.11 397.89 L257.27 397.81 L257.44 397.76 L257.6 397.74 L257.76 397.76 L257.93 397.81 L258.1 397.89 L258.26 398.01 L258.43 398.16 L258.59 398.34 L258.75 398.55 L258.92 398.78 L259.09 399.03 L259.25 399.31 L259.42 399.6 L259.58 399.91 L259.75 400.24 L259.91 400.57 L260.07 400.9 L260.24 401.24 L260.41 401.59 L260.57 401.93 L260.74 402.26 L260.9 402.59 L261.06 402.91 L261.23 403.23 L261.39 403.53 L261.56 403.82 L261.73 404.09 L261.89 404.35 L262.06 404.6 L262.22 404.83 L262.38 405.04 L262.55 405.24 L262.72 405.43 L262.88 405.6 L263.05 405.75 L263.21 405.9 L263.38 406.02 L263.54 406.14 L263.71 406.25 L263.87 406.34 L264.04 406.42 L264.2 406.5 L264.2 406.5 Z" fill="#de3321" stroke="#4a140c" stroke-width="0.5"/>
<path d="M231.4 406.5 L231.4 406.5 L231.71 404.79 L232.01 403.67 L232.32 402.74 L232.62 401.91 L232.93 401.17 L233.24 400.51 L233.54 399.9 L233.85 399.34 L234.16 398.82 L234.46 398.34 L234.77 397.9 L235.08 397.5 L235.38 397.13 L235.69 396.8 L235.99 396.5 L236.3 396.24 L236.61 396.01 L236.91 395.82 L237.22 395.65 L237.53 395.52 L237.83 395.43 L238.14 395.36 L238.44 395.33 L238.75 395.31 L239.06 395.29 L239.36 395.27 L239.67 395.25 L239.98 395.23 L240.28 395.21 L240.59 395.19 L240.89 395.18 L241.2 395.16 L241.51 395.15 L241.81 395.14 L242.12 395.12 L242.43 395.11 L242.73 395.1 L243.04 395.09 L243.34 395.08 L243.65 395.08 L243.96 395.07 L244.26 395.06 L244.57 395.06 L244.88 395.06 L245.18 395.05 L245.49 395.05 L245.79 395.05 L246.1 395.05 L246.41 395.05 L246.71 395.06 L247.02 395.06 L247.32 395.07 L247.63 395.07 L247.94 395.08 L248.24 395.09 L248.55 395.1 L248.86 395.11 L249.16 395.12 L249.47 395.13 L249.78 395.15 L250.08 395.19 L250.39 395.27 L250.69 395.38 L251 395.51 L251.31 395.68 L251.61 395.89 L251.92 396.12 L252.23 396.4 L252.53 396.7 L252.84 397.05 L253.14 397.45 L253.45 397.89 L253.76 398.38 L254.06 398.94 L254.37 399.57 L254.68 400.29 L254.98 401.13 L255.29 402.15 L255.59 403.5 L255.9 406.5 L255.9 406.5 Z" fill="url(#hatch)" stroke="#111" stroke-width="0.45"/>
<path d="M225.8 406.5 L226.01 406.5 L226.22 406.5 L226.43 406.5 L226.65 406.5 L226.86 406.5 L227.07 406.5 L227.28 406.5 L227.49 406.5 L227.7 406.5 L227.92 406.5 L228.13 406.31 L228.34 405.76 L228.55 405.04 L228.76 404.2 L228.97 403.26 L229.18 402.24 L229.4 401.13 L229.61 399.96 L229.82 398.73 L230.03 397.43 L230.24 396.08 L230.45 394.68 L230.67 393.23 L230.88 391.74 L231.09 390.19 L231.3 388.61 L231.51 386.98 L231.72 385.32 L231.93 383.61 L232.15 381.87 L232.36 380.1 L232.57 378.29 L232.78 376.44 L232.99 374.56 L233.2 372.65 L233.42 370.71 L233.63 368.74 L233.84 367.47 L234.05 369.46 L234.26 371.42 L234.47 373.35 L234.68 375.24 L234.9 377.1 L235.11 378.92 L235.32 380.68 L235.53 382.37 L235.74 383.97 L235.95 385.42 L236.17 386.67 L236.38 387.62 L236.59 388.19 L236.8 389.05 L237.01 389.86 L237.22 390.52 L237.43 391.05 L237.65 391.45 L237.86 391.45 L238.07 392.3 L238.28 392.53 L238.49 392.6 L238.7 392.48 L238.92 392.67 L239.13 392.5 L239.34 392.59 L239.55 393.12 L239.76 392.45 L239.97 392.67 L240.18 393.9 L240.4 392.94 L240.61 392.95 L240.82 393.24 L241.03 394.25 L241.24 393.4 L241.45 393.71 L241.67 394.58 L241.88 394.58 L242.09 393.27 L242.3 393.68 L242.51 394.25 L242.72 394.46 L242.93 394.4 L243.15 394.27 L243.36 393.51 L243.57 394.11 L243.78 394.39 L243.99 393.33 L244.2 393.49 L244.42 394.36 L244.63 393.35 L244.84 393.75 L245.05 393.51 L245.26 393.66 L245.47 393.35 L245.68 393.5 L245.9 393.43 L246.11 394.32 L246.32 393.63 L246.53 393.86 L246.74 393.56 L246.95 393.99 L247.17 393.36 L247.38 393.82 L247.59 394.23 L247.8 394.27 L248.01 394.4 L248.22 393.91 L248.43 394.52 L248.65 393.95 L248.86 394.4 L249.07 393.91 L249.28 393.9 L249.49 393.84 L249.7 393.39 L249.92 394.59 L250.13 393.42 L250.34 393.94 L250.55 393.81 L250.76 393.67 L250.97 393.42 L251.18 394.04 L251.4 393.93 L251.61 393.13 L251.82 394.31 L252.03 393.45 L252.24 393.38 L252.45 394.14 L252.67 393.24 L252.88 393.09 L253.09 392.75 L253.3 393.65 L253.51 392.83 L253.72 393.62 L253.93 393.8 L254.15 393.39 L254.36 394.78 L254.57 394 L254.78 394.31 L254.99 394.88 L255.2 394.32 L255.42 394.98 L255.63 395.14 L255.84 395.28 L256.05 395.43 L256.26 395.57 L256.47 395.72 L256.68 395.87 L256.9 396.04 L257.11 396.22 L257.32 396.43 L257.53 396.67 L257.74 396.92 L257.95 397.21 L258.17 397.52 L258.38 397.85 L258.59 398.2 L258.8 398.56 L259.01 398.91 L259.22 399.26 L259.43 399.64 L259.65 400.04 L259.86 400.46 L260.07 400.89 L260.28 401.33 L260.49 401.77 L260.7 402.2 L260.92 402.62 L261.13 403.03 L261.34 403.43 L261.55 403.8 L261.76 404.15 L261.97 404.48 L262.18 404.78 L262.4 405.06 L262.61 405.31 L262.82 405.54 L263.03 405.74 L263.24 405.92 L263.45 406.08 L263.67 406.22 L263.88 406.34 L264.09 406.45 L264.3 406.5 L264.51 406.5 L264.72 406.5 L264.93 406.5 L265.15 406.5 L265.36 406.5 L265.57 406.5 L265.78 406.5 L265.99 406.5 L266.2 406.5 L266.42 406.5 L266.63 406.5 L266.84 406.5 L267.05 406.5 L267.26 406.5 L267.47 406.5 L267.68 406.5 L267.9 406.5 L268.11 406.5 L268.32 406.5 L268.53 406.5 L268.74 406.5 L268.95 406.5 L269.17 406.5 L269.38 406.5 L269.59 406.5 L269.8 406.5 L270.01 406.5 L270.22 406.5 L270.43 406.5 L270.65 406.5 L270.86 406.5 L271.07 406.5 L271.28 406.5 L271.49 406.5 L271.7 406.5 L271.92 406.5 L272.13 406.5 L272.34 406.5 L272.55 406.5 L272.76 406.5 L272.97 406.5 L273.18 406.5 L273.4 406.5 L273.61 406.5 L273.82 406.5 L274.03 406.5 L274.24 406.5 L274.45 406.5 L274.67 406.5 L274.88 406.5 L275.09 406.5 L275.3 406.5 L275.51 406.5 L275.72 406.5 L275.93 406.5 L276.15 406.5 L276.36 406.5 L276.57 406.5 L276.78 406.5" fill="none" stroke="#000" stroke-width="0.85"/>
<path d="M210.8 341.3 V406.5 H277.8" fill="none" stroke="#000" stroke-width="0.75"/>
<path d="M208.4 406.5 h2.4 M209.5 403.23 h1.3 M209.5 399.96 h1.3 M209.5 396.69 h1.3 M209.5 393.42 h1.3 M208.4 390.15 h2.4 M209.5 386.88 h1.3 M209.5 383.61 h1.3 M209.5 380.34 h1.3 M209.5 377.07 h1.3 M208.4 373.8 h2.4 M209.5 370.53 h1.3 M209.5 367.26 h1.3 M209.5 363.99 h1.3 M209.5 360.72 h1.3 M208.4 357.45 h2.4 M209.5 354.18 h1.3 M209.5 350.91 h1.3 M209.5 347.64 h1.3 M209.5 344.37 h1.3 M211.4 406.5 v1.9 M212.76 406.5 v1.1 M214.12 406.5 v1.1 M215.48 406.5 v1.1 M216.84 406.5 v1.1 M218.19 406.5 v1.1 M219.55 406.5 v1.1 M220.91 406.5 v1.1 M222.27 406.5 v1.9 M223.63 406.5 v1.1 M224.99 406.5 v1.1 M226.35 406.5 v1.1 M227.71 406.5 v1.1 M229.06 406.5 v1.1 M230.42 406.5 v1.1 M231.78 406.5 v1.1 M233.14 406.5 v1.9 M234.5 406.5 v1.1 M235.86 406.5 v1.1 M237.22 406.5 v1.1 M238.58 406.5 v1.1 M239.93 406.5 v1.1 M241.29 406.5 v1.1 M242.65 406.5 v1.1 M244.01 406.5 v1.9 M245.37 406.5 v1.1 M246.73 406.5 v1.1 M248.09 406.5 v1.1 M249.44 406.5 v1.1 M250.8 406.5 v1.1 M252.16 406.5 v1.1 M253.52 406.5 v1.1 M254.88 406.5 v1.9 M256.24 406.5 v1.1 M257.6 406.5 v1.1 M258.96 406.5 v1.1 M260.31 406.5 v1.1 M261.67 406.5 v1.1 M263.03 406.5 v1.1 M264.39 406.5 v1.1 M265.75 406.5 v1.9 M267.11 406.5 v1.1 M268.47 406.5 v1.1 M269.83 406.5 v1.1 M271.19 406.5 v1.1 M272.54 406.5 v1.1 M273.9 406.5 v1.1 M275.26 406.5 v1.1 M276.62 406.5 v1.9" stroke="#000" stroke-width="0.6" fill="none"/>
<text x="207.6" y="408.95" font-size="6.8" text-anchor="end" fill="#111">0</text>
<text x="207.6" y="392.6" font-size="6.8" text-anchor="end" fill="#111">200</text>
<text x="207.6" y="376.25" font-size="6.8" text-anchor="end" fill="#111">400</text>
<text x="207.6" y="359.9" font-size="6.8" text-anchor="end" fill="#111">600</text>
<text x="211.4" y="415" font-size="6.8" text-anchor="middle" fill="#111">0</text>
<text x="222.27" y="415" font-size="6.8" text-anchor="middle" fill="#111">20</text>
<text x="233.14" y="415" font-size="6.8" text-anchor="middle" fill="#111">40</text>
<text x="244.01" y="415" font-size="6.8" text-anchor="middle" fill="#111">60</text>
<text x="254.88" y="415" font-size="6.8" text-anchor="middle" fill="#111">80</text>
<text x="265.75" y="415" font-size="6.8" text-anchor="middle" fill="#111">100</text>
<text x="276.62" y="415" font-size="6.8" text-anchor="middle" fill="#111">120</text>
<text x="241.6" y="338" font-size="5" font-weight="bold" text-anchor="middle" textLength="36" lengthAdjust="spacingAndGlyphs" stroke="#000" stroke-width="0.22">M2-inhibitors NC</text>
<path d="M316.9 406.5 L316.9 406.5 L317.05 406.44 L317.19 406.08 L317.34 405.57 L317.49 404.97 L317.64 404.29 L317.79 403.54 L317.93 402.74 L318.08 401.88 L318.23 400.97 L318.38 400.02 L318.52 399.03 L318.67 398 L318.82 396.93 L318.97 395.82 L319.11 394.68 L319.26 393.51 L319.41 392.31 L319.56 391.08 L319.7 389.82 L319.85 388.53 L320 387.21 L320.14 385.87 L320.29 384.5 L320.44 383.11 L320.59 381.69 L320.74 380.26 L320.88 378.79 L321.03 377.31 L321.18 375.8 L321.32 374.27 L321.47 372.72 L321.62 371.15 L321.77 369.56 L321.92 367.95 L322.06 366.33 L322.21 364.68 L322.36 363.01 L322.5 361.33 L322.65 359.62 L322.8 357.9 L322.95 359.62 L323.1 361.33 L323.24 363.01 L323.39 364.68 L323.54 366.33 L323.69 367.95 L323.83 369.56 L323.98 371.15 L324.13 372.72 L324.28 374.27 L324.42 375.8 L324.57 377.31 L324.72 378.79 L324.87 380.26 L325.01 381.69 L325.16 383.11 L325.31 384.5 L325.46 385.87 L325.6 387.21 L325.75 388.53 L325.9 389.82 L326.05 391.08 L326.19 392.31 L326.34 393.51 L326.49 394.68 L326.63 395.82 L326.78 396.93 L326.93 398 L327.08 399.03 L327.23 400.02 L327.37 400.97 L327.52 401.88 L327.67 402.74 L327.81 403.54 L327.96 404.29 L328.11 404.97 L328.26 405.57 L328.41 406.08 L328.55 406.44 L328.7 406.5 L328.7 406.5 Z" fill="#de3321" stroke="#4a140c" stroke-width="0.5"/>
<path d="M339.2 406.5 L339.2 406.5 L339.37 406.45 L339.53 406.4 L339.69 406.34 L339.86 406.27 L340.03 406.19 L340.19 406.11 L340.36 406.02 L340.52 405.92 L340.69 405.81 L340.85 405.69 L341.01 405.56 L341.18 405.42 L341.35 405.27 L341.51 405.12 L341.68 404.95 L341.84 404.77 L342 404.59 L342.17 404.39 L342.34 404.19 L342.5 403.98 L342.67 403.77 L342.83 403.55 L343 403.34 L343.16 403.12 L343.32 402.9 L343.49 402.68 L343.66 402.47 L343.82 402.26 L343.99 402.06 L344.15 401.87 L344.31 401.69 L344.48 401.53 L344.64 401.38 L344.81 401.25 L344.98 401.13 L345.14 401.03 L345.31 400.96 L345.47 400.9 L345.63 400.87 L345.8 400.86 L345.97 400.87 L346.13 400.9 L346.3 400.96 L346.46 401.03 L346.62 401.13 L346.79 401.25 L346.96 401.38 L347.12 401.53 L347.29 401.69 L347.45 401.87 L347.62 402.06 L347.78 402.26 L347.94 402.47 L348.11 402.68 L348.28 402.9 L348.44 403.12 L348.61 403.34 L348.77 403.55 L348.94 403.77 L349.1 403.98 L349.26 404.19 L349.43 404.39 L349.6 404.59 L349.76 404.77 L349.93 404.95 L350.09 405.12 L350.25 405.27 L350.42 405.42 L350.59 405.56 L350.75 405.69 L350.92 405.81 L351.08 405.92 L351.25 406.02 L351.41 406.11 L351.58 406.19 L351.74 406.27 L351.91 406.34 L352.07 406.4 L352.24 406.45 L352.4 406.5 L352.4 406.5 Z" fill="#de3321" stroke="#4a140c" stroke-width="0.5"/>
<path d="M320.4 406.5 L320.4 406.5 L320.7 405.34 L320.99 404.58 L321.29 403.95 L321.59 403.38 L321.88 402.88 L322.18 402.42 L322.47 402.01 L322.77 401.63 L323.07 401.27 L323.36 400.94 L323.66 400.63 L323.96 400.35 L324.25 400.09 L324.55 399.86 L324.84 399.65 L325.14 399.46 L325.44 399.3 L325.73 399.15 L326.03 399.03 L326.32 398.93 L326.62 398.85 L326.92 398.79 L327.21 398.75 L327.51 398.73 L327.81 398.72 L328.1 398.7 L328.4 398.69 L328.69 398.68 L328.99 398.66 L329.29 398.65 L329.58 398.64 L329.88 398.63 L330.18 398.62 L330.47 398.61 L330.77 398.6 L331.06 398.59 L331.36 398.59 L331.66 398.58 L331.95 398.57 L332.25 398.57 L332.55 398.56 L332.84 398.56 L333.14 398.56 L333.44 398.55 L333.73 398.55 L334.03 398.55 L334.32 398.55 L334.62 398.55 L334.92 398.55 L335.21 398.55 L335.51 398.56 L335.81 398.56 L336.1 398.56 L336.4 398.57 L336.69 398.57 L336.99 398.58 L337.29 398.59 L337.58 398.59 L337.88 398.6 L338.18 398.63 L338.47 398.67 L338.77 398.73 L339.06 398.82 L339.36 398.92 L339.66 399.05 L339.95 399.19 L340.25 399.36 L340.55 399.56 L340.84 399.77 L341.14 400.02 L341.43 400.29 L341.73 400.6 L342.03 400.94 L342.32 401.33 L342.62 401.76 L342.92 402.26 L343.21 402.83 L343.51 403.53 L343.8 404.45 L344.1 406.5 L344.1 406.5 Z" fill="url(#hatch)" stroke="#111" stroke-width="0.45"/>
<path d="M314.8 406.5 L315.02 406.5 L315.23 406.5 L315.45 406.5 L315.66 406.5 L315.88 406.5 L316.09 406.5 L316.31 406.5 L316.52 406.5 L316.74 406.5 L316.95 406.5 L317.17 406.16 L317.38 405.41 L317.6 404.47 L317.82 403.38 L318.03 402.17 L318.25 400.86 L318.46 399.44 L318.68 397.95 L318.89 396.37 L319.11 394.72 L319.32 393 L319.54 391.22 L319.75 389.37 L319.97 387.47 L320.18 385.5 L320.4 383.49 L320.62 381.42 L320.83 379.31 L321.05 377.14 L321.26 374.93 L321.48 372.68 L321.69 370.38 L321.91 368.04 L322.12 365.65 L322.34 363.23 L322.55 360.76 L322.77 358.26 L322.98 360.05 L323.2 362.53 L323.42 364.96 L323.63 367.36 L323.85 369.71 L324.06 372.02 L324.28 374.28 L324.49 376.49 L324.71 378.65 L324.92 380.73 L325.14 382.73 L325.35 384.62 L325.57 386.34 L325.78 388.04 L326 389.66 L326.22 391.13 L326.43 392.43 L326.65 393.51 L326.86 394.54 L327.08 395 L327.29 395.34 L327.51 395.27 L327.72 396.24 L327.94 396.07 L328.15 396.22 L328.37 396.15 L328.58 395.89 L328.8 396.76 L329.02 396.13 L329.23 396.84 L329.45 396.82 L329.66 397.26 L329.88 397.06 L330.09 396.52 L330.31 397.08 L330.52 396.89 L330.74 397.54 L330.95 397.56 L331.17 397.58 L331.38 397.18 L331.6 397.11 L331.82 396.9 L332.03 397.94 L332.25 396.99 L332.46 396.76 L332.68 397.24 L332.89 397.93 L333.11 397.58 L333.32 397.99 L333.54 397.73 L333.75 396.71 L333.97 397.15 L334.18 397.08 L334.4 396.9 L334.62 396.73 L334.83 397.14 L335.05 397.14 L335.26 397.12 L335.48 397.03 L335.69 397.17 L335.91 397.05 L336.12 397.7 L336.34 397.07 L336.55 397.36 L336.77 396.93 L336.98 397.86 L337.2 397.75 L337.42 397.95 L337.63 396.92 L337.85 396.72 L338.06 397.08 L338.28 397.48 L338.49 396.85 L338.71 396.9 L338.92 397.21 L339.14 397.64 L339.35 397.56 L339.57 397.36 L339.78 397.47 L340 397.28 L340.22 396.94 L340.43 396.48 L340.65 397.66 L340.86 396.88 L341.08 397.59 L341.29 397.5 L341.51 396.59 L341.72 397.01 L341.94 396.64 L342.15 397.43 L342.37 398.18 L342.58 397.82 L342.8 397.69 L343.02 397.37 L343.23 397.48 L343.45 398.34 L343.66 398.47 L343.88 398.62 L344.09 398.77 L344.31 398.92 L344.52 399.06 L344.74 399.21 L344.95 399.37 L345.17 399.53 L345.38 399.7 L345.6 399.89 L345.82 400.09 L346.03 400.3 L346.25 400.53 L346.46 400.77 L346.68 401.01 L346.89 401.26 L347.11 401.5 L347.32 401.73 L347.54 401.97 L347.75 402.23 L347.97 402.5 L348.18 402.78 L348.4 403.06 L348.62 403.35 L348.83 403.63 L349.05 403.91 L349.26 404.19 L349.48 404.45 L349.69 404.7 L349.91 404.93 L350.12 405.15 L350.34 405.35 L350.55 405.54 L350.77 405.71 L350.98 405.86 L351.2 405.99 L351.42 406.11 L351.63 406.22 L351.85 406.31 L352.06 406.39 L352.28 406.46 L352.49 406.5 L352.71 406.5 L352.92 406.5 L353.14 406.5 L353.35 406.5 L353.57 406.5 L353.78 406.5 L354 406.5 L354.22 406.5 L354.43 406.5 L354.65 406.5 L354.86 406.5 L355.08 406.5 L355.29 406.5 L355.51 406.5 L355.72 406.5 L355.94 406.5 L356.15 406.5 L356.37 406.5 L356.58 406.5 L356.8 406.5 L357.02 406.5 L357.23 406.5 L357.45 406.5 L357.66 406.5 L357.88 406.5 L358.09 406.5 L358.31 406.5 L358.52 406.5 L358.74 406.5 L358.95 406.5 L359.17 406.5 L359.38 406.5 L359.6 406.5 L359.82 406.5 L360.03 406.5 L360.25 406.5 L360.46 406.5 L360.68 406.5 L360.89 406.5 L361.11 406.5 L361.32 406.5 L361.54 406.5 L361.75 406.5 L361.97 406.5 L362.18 406.5 L362.4 406.5 L362.62 406.5 L362.83 406.5 L363.05 406.5 L363.26 406.5 L363.48 406.5 L363.69 406.5 L363.91 406.5 L364.12 406.5 L364.34 406.5 L364.55 406.5 L364.77 406.5 L364.98 406.5 L365.2 406.5 L365.42 406.5 L365.63 406.5 L365.85 406.5 L366.06 406.5 L366.28 406.5 L366.49 406.5 L366.71 406.5" fill="none" stroke="#000" stroke-width="0.85"/>
<path d="M300.8 341.3 V406.5 H367.8" fill="none" stroke="#000" stroke-width="0.75"/>
<path d="M298.4 406.5 h2.4 M299.5 403.86 h1.3 M299.5 401.22 h1.3 M299.5 398.58 h1.3 M299.5 395.94 h1.3 M298.4 393.3 h2.4 M299.5 390.66 h1.3 M299.5 388.02 h1.3 M299.5 385.38 h1.3 M299.5 382.74 h1.3 M298.4 380.1 h2.4 M299.5 377.46 h1.3 M299.5 374.82 h1.3 M299.5 372.18 h1.3 M299.5 369.54 h1.3 M298.4 366.9 h2.4 M299.5 364.26 h1.3 M299.5 361.62 h1.3 M299.5 358.98 h1.3 M299.5 356.34 h1.3 M298.4 353.7 h2.4 M299.5 351.06 h1.3 M299.5 348.42 h1.3 M299.5 345.78 h1.3 M299.5 343.14 h1.3 M301.4 406.5 v1.9 M302.76 406.5 v1.1 M304.12 406.5 v1.1 M305.48 406.5 v1.1 M306.84 406.5 v1.1 M308.19 406.5 v1.1 M309.55 406.5 v1.1 M310.91 406.5 v1.1 M312.27 406.5 v1.9 M313.63 406.5 v1.1 M314.99 406.5 v1.1 M316.35 406.5 v1.1 M317.71 406.5 v1.1 M319.06 406.5 v1.1 M320.42 406.5 v1.1 M321.78 406.5 v1.1 M323.14 406.5 v1.9 M324.5 406.5 v1.1 M325.86 406.5 v1.1 M327.22 406.5 v1.1 M328.58 406.5 v1.1 M329.93 406.5 v1.1 M331.29 406.5 v1.1 M332.65 406.5 v1.1 M334.01 406.5 v1.9 M335.37 406.5 v1.1 M336.73 406.5 v1.1 M338.09 406.5 v1.1 M339.45 406.5 v1.1 M340.8 406.5 v1.1 M342.16 406.5 v1.1 M343.52 406.5 v1.1 M344.88 406.5 v1.9 M346.24 406.5 v1.1 M347.6 406.5 v1.1 M348.96 406.5 v1.1 M350.32 406.5 v1.1 M351.67 406.5 v1.1 M353.03 406.5 v1.1 M354.39 406.5 v1.1 M355.75 406.5 v1.9 M357.11 406.5 v1.1 M358.47 406.5 v1.1 M359.83 406.5 v1.1 M361.19 406.5 v1.1 M362.54 406.5 v1.1 M363.9 406.5 v1.1 M365.26 406.5 v1.1 M366.62 406.5 v1.9" stroke="#000" stroke-width="0.6" fill="none"/>
<text x="297.6" y="408.95" font-size="6.8" text-anchor="end" fill="#111">0</text>
<text x="297.6" y="395.75" font-size="6.8" text-anchor="end" fill="#111">200</text>
<text x="297.6" y="382.55" font-size="6.8" text-anchor="end" fill="#111">400</text>
<text x="297.6" y="369.35" font-size="6.8" text-anchor="end" fill="#111">600</text>
<text x="297.6" y="356.15" font-size="6.8" text-anchor="end" fill="#111">800</text>
<text x="301.4" y="415" font-size="6.8" text-anchor="middle" fill="#111">0</text>
<text x="312.27" y="415" font-size="6.8" text-anchor="middle" fill="#111">20</text>
<text x="323.14" y="415" font-size="6.8" text-anchor="middle" fill="#111">40</text>
<text x="334.01" y="415" font-size="6.8" text-anchor="middle" fill="#111">60</text>
<text x="344.88" y="415" font-size="6.8" text-anchor="middle" fill="#111">80</text>
<text x="355.75" y="415" font-size="6.8" text-anchor="middle" fill="#111">100</text>
<text x="366.62" y="415" font-size="6.8" text-anchor="middle" fill="#111">120</text>
<text x="331.1" y="338" font-size="5" font-weight="bold" text-anchor="middle" textLength="47" lengthAdjust="spacingAndGlyphs" stroke="#000" stroke-width="0.22">M2-miR-18a inhibitors</text>
<path d="M407.5 406.5 L407.5 406.5 L407.65 406.45 L407.79 406.14 L407.94 405.71 L408.09 405.2 L408.24 404.61 L408.38 403.98 L408.53 403.29 L408.68 402.56 L408.83 401.78 L408.97 400.97 L409.12 400.12 L409.27 399.24 L409.42 398.32 L409.56 397.38 L409.71 396.41 L409.86 395.41 L410.01 394.38 L410.15 393.33 L410.3 392.25 L410.45 391.15 L410.6 390.03 L410.75 388.88 L410.89 387.72 L411.04 386.53 L411.19 385.32 L411.33 384.09 L411.48 382.84 L411.63 381.57 L411.78 380.29 L411.92 378.98 L412.07 377.66 L412.22 376.32 L412.37 374.96 L412.51 373.59 L412.66 372.19 L412.81 370.79 L412.96 369.36 L413.1 367.92 L413.25 366.47 L413.4 365 L413.55 366.47 L413.69 367.92 L413.84 369.36 L413.99 370.79 L414.14 372.19 L414.28 373.59 L414.43 374.96 L414.58 376.32 L414.73 377.66 L414.88 378.98 L415.02 380.29 L415.17 381.57 L415.32 382.84 L415.46 384.09 L415.61 385.32 L415.76 386.53 L415.91 387.72 L416.05 388.88 L416.2 390.03 L416.35 391.15 L416.5 392.25 L416.64 393.33 L416.79 394.38 L416.94 395.41 L417.09 396.41 L417.23 397.38 L417.38 398.32 L417.53 399.24 L417.68 400.12 L417.82 400.97 L417.97 401.78 L418.12 402.56 L418.27 403.29 L418.41 403.98 L418.56 404.61 L418.71 405.2 L418.86 405.71 L419 406.14 L419.15 406.45 L419.3 406.5 L419.3 406.5 Z" fill="#de3321" stroke="#4a140c" stroke-width="0.5"/>
<path d="M431.1 406.5 L431.1 406.5 L431.26 406.42 L431.43 406.33 L431.59 406.23 L431.76 406.12 L431.92 405.99 L432.09 405.85 L432.25 405.7 L432.42 405.54 L432.58 405.35 L432.75 405.16 L432.91 404.94 L433.08 404.71 L433.25 404.47 L433.41 404.2 L433.57 403.93 L433.74 403.63 L433.9 403.32 L434.07 403 L434.23 402.67 L434.4 402.32 L434.56 401.97 L434.73 401.61 L434.89 401.25 L435.06 400.88 L435.22 400.52 L435.39 400.16 L435.55 399.81 L435.72 399.46 L435.88 399.13 L436.05 398.82 L436.21 398.52 L436.38 398.25 L436.54 398 L436.71 397.78 L436.88 397.59 L437.04 397.43 L437.2 397.3 L437.37 397.21 L437.53 397.16 L437.7 397.14 L437.86 397.16 L438.03 397.21 L438.19 397.3 L438.36 397.43 L438.52 397.59 L438.69 397.78 L438.85 398 L439.02 398.25 L439.18 398.52 L439.35 398.82 L439.51 399.13 L439.68 399.46 L439.84 399.81 L440.01 400.16 L440.17 400.52 L440.34 400.88 L440.5 401.25 L440.67 401.61 L440.83 401.97 L441 402.32 L441.16 402.67 L441.33 403 L441.5 403.32 L441.66 403.63 L441.82 403.93 L441.99 404.2 L442.15 404.47 L442.32 404.71 L442.48 404.94 L442.65 405.16 L442.81 405.35 L442.98 405.54 L443.14 405.7 L443.31 405.85 L443.47 405.99 L443.64 406.12 L443.8 406.23 L443.97 406.33 L444.13 406.42 L444.3 406.5 L444.3 406.5 Z" fill="#de3321" stroke="#4a140c" stroke-width="0.5"/>
<path d="M411 406.5 L411 406.5 L411.31 404.77 L411.62 403.63 L411.94 402.68 L412.25 401.85 L412.56 401.1 L412.88 400.43 L413.19 399.82 L413.5 399.25 L413.81 398.73 L414.12 398.25 L414.44 397.81 L414.75 397.4 L415.06 397.04 L415.38 396.71 L415.69 396.42 L416 396.17 L416.31 395.95 L416.62 395.76 L416.94 395.61 L417.25 395.49 L417.56 395.4 L417.88 395.35 L418.19 395.32 L418.5 395.3 L418.81 395.28 L419.12 395.26 L419.44 395.24 L419.75 395.23 L420.06 395.21 L420.38 395.19 L420.69 395.18 L421 395.16 L421.31 395.15 L421.62 395.13 L421.94 395.12 L422.25 395.11 L422.56 395.1 L422.88 395.09 L423.19 395.08 L423.5 395.07 L423.81 395.07 L424.12 395.06 L424.44 395.06 L424.75 395.06 L425.06 395.05 L425.38 395.05 L425.69 395.05 L426 395.05 L426.31 395.06 L426.62 395.06 L426.94 395.06 L427.25 395.07 L427.56 395.07 L427.88 395.08 L428.19 395.09 L428.5 395.1 L428.81 395.11 L429.12 395.12 L429.44 395.13 L429.75 395.15 L430.06 395.18 L430.38 395.25 L430.69 395.34 L431 395.47 L431.31 395.64 L431.62 395.83 L431.94 396.06 L432.25 396.33 L432.56 396.64 L432.88 396.99 L433.19 397.38 L433.5 397.82 L433.81 398.31 L434.12 398.87 L434.44 399.5 L434.75 400.23 L435.06 401.08 L435.38 402.11 L435.69 403.46 L436 406.5 L436 406.5 Z" fill="url(#hatch)" stroke="#111" stroke-width="0.45"/>
<path d="M405.4 406.5 L405.61 406.5 L405.82 406.5 L406.03 406.5 L406.25 406.5 L406.46 406.5 L406.67 406.5 L406.88 406.5 L407.09 406.5 L407.3 406.5 L407.52 406.5 L407.73 406.3 L407.94 405.72 L408.15 404.97 L408.36 404.08 L408.57 403.09 L408.78 402.01 L409 400.85 L409.21 399.61 L409.42 398.31 L409.63 396.95 L409.84 395.53 L410.05 394.05 L410.27 392.53 L410.48 390.95 L410.69 389.33 L410.9 387.66 L411.11 385.94 L411.32 384.19 L411.53 382.39 L411.75 380.56 L411.96 378.69 L412.17 376.78 L412.38 374.84 L412.59 372.86 L412.8 370.85 L413.02 368.8 L413.23 366.72 L413.44 365.38 L413.65 367.48 L413.86 369.55 L414.07 371.58 L414.28 373.58 L414.5 375.54 L414.71 377.45 L414.92 379.32 L415.13 381.12 L415.34 382.83 L415.55 384.41 L415.77 385.8 L415.98 386.93 L416.19 387.68 L416.4 388.68 L416.61 389.61 L416.82 390.38 L417.03 390.99 L417.25 391.45 L417.46 391.92 L417.67 392.62 L417.88 392.06 L418.09 392.82 L418.3 393.04 L418.52 393.35 L418.73 393.49 L418.94 392.65 L419.15 393.56 L419.36 392.49 L419.57 393.84 L419.78 392.86 L420 394.02 L420.21 394.29 L420.42 393.43 L420.63 394.21 L420.84 393.64 L421.05 394.44 L421.27 394.63 L421.48 393.62 L421.69 393.7 L421.9 393.5 L422.11 393.68 L422.32 394.58 L422.53 393.82 L422.75 393.71 L422.96 394.06 L423.17 393.39 L423.38 394.34 L423.59 393.35 L423.8 393.7 L424.02 394.68 L424.23 394.68 L424.44 393.79 L424.65 393.56 L424.86 394.59 L425.07 394.26 L425.28 393.68 L425.5 394.47 L425.71 393.49 L425.92 394.02 L426.13 394.62 L426.34 394.19 L426.55 393.9 L426.77 394.09 L426.98 393.75 L427.19 394.5 L427.4 393.58 L427.61 394.19 L427.82 393.8 L428.03 393.82 L428.25 394.11 L428.46 394.16 L428.67 393.6 L428.88 393.38 L429.09 393.6 L429.3 393.91 L429.52 394.29 L429.73 394.62 L429.94 393.34 L430.15 393.72 L430.36 393.54 L430.57 394.24 L430.78 393.85 L431 393.33 L431.21 393.51 L431.42 393.79 L431.63 394.15 L431.84 393.92 L432.05 393.21 L432.27 393.85 L432.48 393.33 L432.69 393.35 L432.9 392.86 L433.11 392.97 L433.32 393.73 L433.53 394.19 L433.75 393.93 L433.96 393.83 L434.17 393.74 L434.38 393.57 L434.59 393.62 L434.8 394.95 L435.02 393.99 L435.23 394.16 L435.44 394.73 L435.65 394.85 L435.86 394.96 L436.07 395.07 L436.28 395.17 L436.5 395.28 L436.71 395.4 L436.92 395.53 L437.13 395.68 L437.34 395.85 L437.55 396.05 L437.77 396.28 L437.98 396.55 L438.19 396.85 L438.4 397.17 L438.61 397.52 L438.82 397.89 L439.03 398.26 L439.25 398.63 L439.46 399.02 L439.67 399.44 L439.88 399.88 L440.09 400.34 L440.3 400.8 L440.52 401.27 L440.73 401.74 L440.94 402.19 L441.15 402.64 L441.36 403.06 L441.57 403.47 L441.78 403.86 L442 404.21 L442.21 404.55 L442.42 404.85 L442.63 405.13 L442.84 405.39 L443.05 405.61 L443.27 405.82 L443.48 405.99 L443.69 406.15 L443.9 406.29 L444.11 406.41 L444.32 406.5 L444.53 406.5 L444.75 406.5 L444.96 406.5 L445.17 406.5 L445.38 406.5 L445.59 406.5 L445.8 406.5 L446.02 406.5 L446.23 406.5 L446.44 406.5 L446.65 406.5 L446.86 406.5 L447.07 406.5 L447.28 406.5 L447.5 406.5 L447.71 406.5 L447.92 406.5 L448.13 406.5 L448.34 406.5 L448.55 406.5 L448.77 406.5 L448.98 406.5 L449.19 406.5 L449.4 406.5 L449.61 406.5 L449.82 406.5 L450.03 406.5 L450.25 406.5 L450.46 406.5 L450.67 406.5 L450.88 406.5 L451.09 406.5 L451.3 406.5 L451.52 406.5 L451.73 406.5 L451.94 406.5 L452.15 406.5 L452.36 406.5 L452.57 406.5 L452.78 406.5 L453 406.5 L453.21 406.5 L453.42 406.5 L453.63 406.5 L453.84 406.5 L454.05 406.5 L454.27 406.5 L454.48 406.5 L454.69 406.5 L454.9 406.5 L455.11 406.5 L455.32 406.5 L455.53 406.5 L455.75 406.5 L455.96 406.5 L456.17 406.5 L456.38 406.5" fill="none" stroke="#000" stroke-width="0.85"/>
<path d="M390.4 341.3 V406.5 H457.4" fill="none" stroke="#000" stroke-width="0.75"/>
<path d="M388 406.5 h2.4 M389.1 403.23 h1.3 M389.1 399.96 h1.3 M389.1 396.69 h1.3 M389.1 393.42 h1.3 M388 390.15 h2.4 M389.1 386.88 h1.3 M389.1 383.61 h1.3 M389.1 380.34 h1.3 M389.1 377.07 h1.3 M388 373.8 h2.4 M389.1 370.53 h1.3 M389.1 367.26 h1.3 M389.1 363.99 h1.3 M389.1 360.72 h1.3 M388 357.45 h2.4 M389.1 354.18 h1.3 M389.1 350.91 h1.3 M389.1 347.64 h1.3 M389.1 344.37 h1.3 M391 406.5 v1.9 M392.36 406.5 v1.1 M393.72 406.5 v1.1 M395.08 406.5 v1.1 M396.44 406.5 v1.1 M397.79 406.5 v1.1 M399.15 406.5 v1.1 M400.51 406.5 v1.1 M401.87 406.5 v1.9 M403.23 406.5 v1.1 M404.59 406.5 v1.1 M405.95 406.5 v1.1 M407.31 406.5 v1.1 M408.66 406.5 v1.1 M410.02 406.5 v1.1 M411.38 406.5 v1.1 M412.74 406.5 v1.9 M414.1 406.5 v1.1 M415.46 406.5 v1.1 M416.82 406.5 v1.1 M418.18 406.5 v1.1 M419.53 406.5 v1.1 M420.89 406.5 v1.1 M422.25 406.5 v1.1 M423.61 406.5 v1.9 M424.97 406.5 v1.1 M426.33 406.5 v1.1 M427.69 406.5 v1.1 M429.05 406.5 v1.1 M430.4 406.5 v1.1 M431.76 406.5 v1.1 M433.12 406.5 v1.1 M434.48 406.5 v1.9 M435.84 406.5 v1.1 M437.2 406.5 v1.1 M438.56 406.5 v1.1 M439.92 406.5 v1.1 M441.27 406.5 v1.1 M442.63 406.5 v1.1 M443.99 406.5 v1.1 M445.35 406.5 v1.9 M446.71 406.5 v1.1 M448.07 406.5 v1.1 M449.43 406.5 v1.1 M450.78 406.5 v1.1 M452.14 406.5 v1.1 M453.5 406.5 v1.1 M454.86 406.5 v1.1 M456.22 406.5 v1.9" stroke="#000" stroke-width="0.6" fill="none"/>
<text x="387.2" y="408.95" font-size="6.8" text-anchor="end" fill="#111">0</text>
<text x="387.2" y="392.6" font-size="6.8" text-anchor="end" fill="#111">200</text>
<text x="387.2" y="376.25" font-size="6.8" text-anchor="end" fill="#111">400</text>
<text x="387.2" y="359.9" font-size="6.8" text-anchor="end" fill="#111">600</text>
<text x="391" y="415" font-size="6.8" text-anchor="middle" fill="#111">0</text>
<text x="401.87" y="415" font-size="6.8" text-anchor="middle" fill="#111">20</text>
<text x="412.74" y="415" font-size="6.8" text-anchor="middle" fill="#111">40</text>
<text x="423.61" y="415" font-size="6.8" text-anchor="middle" fill="#111">60</text>
<text x="434.48" y="415" font-size="6.8" text-anchor="middle" fill="#111">80</text>
<text x="445.35" y="415" font-size="6.8" text-anchor="middle" fill="#111">100</text>
<text x="456.22" y="415" font-size="6.8" text-anchor="middle" fill="#111">120</text>
<text x="423.3" y="338" font-size="5" font-weight="bold" text-anchor="middle" textLength="22.25" lengthAdjust="spacingAndGlyphs" stroke="#000" stroke-width="0.22">M2-OE-NC</text>
<path d="M496.1 406.5 L496.1 406.5 L496.25 406.44 L496.39 406.05 L496.54 405.5 L496.69 404.85 L496.84 404.11 L496.99 403.31 L497.13 402.44 L497.28 401.51 L497.43 400.53 L497.57 399.5 L497.72 398.43 L497.87 397.31 L498.02 396.16 L498.17 394.96 L498.31 393.73 L498.46 392.47 L498.61 391.17 L498.75 389.84 L498.9 388.48 L499.05 387.08 L499.2 385.66 L499.35 384.21 L499.49 382.74 L499.64 381.23 L499.79 379.7 L499.94 378.15 L500.08 376.57 L500.23 374.97 L500.38 373.34 L500.52 371.69 L500.67 370.01 L500.82 368.32 L500.97 366.6 L501.12 364.86 L501.26 363.1 L501.41 361.32 L501.56 359.52 L501.7 357.7 L501.85 355.86 L502 354 L502.15 355.86 L502.3 357.7 L502.44 359.52 L502.59 361.32 L502.74 363.1 L502.88 364.86 L503.03 366.6 L503.18 368.32 L503.33 370.01 L503.48 371.69 L503.62 373.34 L503.77 374.97 L503.92 376.57 L504.06 378.15 L504.21 379.7 L504.36 381.23 L504.51 382.74 L504.65 384.21 L504.8 385.66 L504.95 387.08 L505.1 388.48 L505.25 389.84 L505.39 391.17 L505.54 392.47 L505.69 393.73 L505.83 394.96 L505.98 396.16 L506.13 397.31 L506.28 398.43 L506.43 399.5 L506.57 400.53 L506.72 401.51 L506.87 402.44 L507.01 403.31 L507.16 404.11 L507.31 404.85 L507.46 405.5 L507.61 406.05 L507.75 406.44 L507.9 406.5 L507.9 406.5 Z" fill="#de3321" stroke="#4a140c" stroke-width="0.5"/>
<path d="M518.7 406.5 L518.7 406.5 L518.87 406.45 L519.03 406.39 L519.19 406.33 L519.36 406.25 L519.52 406.17 L519.69 406.09 L519.86 405.99 L520.02 405.88 L520.18 405.77 L520.35 405.64 L520.51 405.5 L520.68 405.35 L520.85 405.2 L521.01 405.03 L521.17 404.85 L521.34 404.66 L521.5 404.46 L521.67 404.26 L521.84 404.04 L522 403.82 L522.16 403.6 L522.33 403.37 L522.5 403.13 L522.66 402.9 L522.83 402.67 L522.99 402.44 L523.15 402.21 L523.32 401.99 L523.49 401.78 L523.65 401.58 L523.82 401.39 L523.98 401.21 L524.14 401.05 L524.31 400.91 L524.48 400.79 L524.64 400.69 L524.8 400.61 L524.97 400.55 L525.13 400.51 L525.3 400.5 L525.47 400.51 L525.63 400.55 L525.79 400.61 L525.96 400.69 L526.12 400.79 L526.29 400.91 L526.46 401.05 L526.62 401.21 L526.78 401.39 L526.95 401.58 L527.12 401.78 L527.28 401.99 L527.44 402.21 L527.61 402.44 L527.77 402.67 L527.94 402.9 L528.11 403.13 L528.27 403.37 L528.43 403.6 L528.6 403.82 L528.76 404.04 L528.93 404.26 L529.1 404.46 L529.26 404.66 L529.42 404.85 L529.59 405.03 L529.75 405.2 L529.92 405.35 L530.09 405.5 L530.25 405.64 L530.41 405.77 L530.58 405.88 L530.75 405.99 L530.91 406.09 L531.08 406.17 L531.24 406.25 L531.4 406.33 L531.57 406.39 L531.74 406.45 L531.9 406.5 L531.9 406.5 Z" fill="#de3321" stroke="#4a140c" stroke-width="0.5"/>
<path d="M499.6 406.5 L499.6 406.5 L499.9 405.18 L500.2 404.31 L500.5 403.58 L500.8 402.94 L501.1 402.36 L501.4 401.84 L501.7 401.37 L502 400.94 L502.3 400.53 L502.6 400.15 L502.9 399.8 L503.2 399.49 L503.5 399.2 L503.8 398.93 L504.1 398.7 L504.4 398.49 L504.7 398.3 L505 398.14 L505.3 398.01 L505.6 397.9 L505.9 397.81 L506.2 397.75 L506.5 397.71 L506.8 397.69 L507.1 397.68 L507.4 397.66 L507.7 397.65 L508 397.63 L508.3 397.62 L508.6 397.6 L508.9 397.59 L509.2 397.58 L509.5 397.57 L509.8 397.56 L510.1 397.55 L510.4 397.54 L510.7 397.53 L511 397.52 L511.3 397.52 L511.6 397.51 L511.9 397.5 L512.2 397.5 L512.5 397.5 L512.8 397.49 L513.1 397.49 L513.4 397.49 L513.7 397.49 L514 397.49 L514.3 397.49 L514.6 397.49 L514.9 397.5 L515.2 397.5 L515.5 397.51 L515.8 397.51 L516.1 397.52 L516.4 397.52 L516.7 397.53 L517 397.54 L517.3 397.55 L517.6 397.57 L517.9 397.62 L518.2 397.68 L518.5 397.77 L518.8 397.89 L519.1 398.03 L519.4 398.19 L519.7 398.38 L520 398.6 L520.3 398.84 L520.6 399.12 L520.9 399.43 L521.2 399.78 L521.5 400.17 L521.8 400.6 L522.1 401.1 L522.4 401.66 L522.7 402.32 L523 403.12 L523.3 404.16 L523.6 406.5 L523.6 406.5 Z" fill="url(#hatch)" stroke="#111" stroke-width="0.45"/>
<path d="M494 406.5 L494.22 406.5 L494.43 406.5 L494.65 406.5 L494.86 406.5 L495.08 406.5 L495.29 406.5 L495.51 406.5 L495.72 406.5 L495.94 406.5 L496.15 406.5 L496.37 406.13 L496.58 405.32 L496.8 404.31 L497.02 403.13 L497.23 401.82 L497.45 400.4 L497.66 398.88 L497.88 397.26 L498.09 395.56 L498.31 393.77 L498.52 391.92 L498.74 389.99 L498.95 388 L499.17 385.94 L499.38 383.82 L499.6 381.64 L499.82 379.41 L500.03 377.13 L500.25 374.79 L500.46 372.4 L500.68 369.96 L500.89 367.48 L501.11 364.95 L501.32 362.37 L501.54 359.75 L501.75 357.09 L501.97 354.39 L502.18 356.32 L502.4 359 L502.62 361.63 L502.83 364.22 L503.05 366.76 L503.26 369.25 L503.48 371.7 L503.69 374.08 L503.91 376.41 L504.12 378.65 L504.34 380.8 L504.55 382.82 L504.77 384.65 L504.98 386.46 L505.2 388.18 L505.42 389.74 L505.63 391.09 L505.85 392.2 L506.06 392.54 L506.28 393.57 L506.49 394.4 L506.71 393.86 L506.92 394.11 L507.14 394.42 L507.35 394.23 L507.57 395.14 L507.78 395.63 L508 395.09 L508.22 394.87 L508.43 395.83 L508.65 395.18 L508.86 395.04 L509.08 396.14 L509.29 395.73 L509.51 395.75 L509.72 396.05 L509.94 396.41 L510.15 396.34 L510.37 395.65 L510.58 395.59 L510.8 396.06 L511.02 396.58 L511.23 395.57 L511.45 395.62 L511.66 396.37 L511.88 395.89 L512.09 395.44 L512.31 395.46 L512.52 395.97 L512.74 396.03 L512.95 395.87 L513.17 396.44 L513.38 396.43 L513.6 396.45 L513.82 395.72 L514.03 396.19 L514.25 395.91 L514.46 396.14 L514.68 395.98 L514.89 396.49 L515.11 396.64 L515.32 395.3 L515.54 396.18 L515.75 396.55 L515.97 395.81 L516.18 395.6 L516.4 396.48 L516.62 395.86 L516.83 396.22 L517.05 395.97 L517.26 396.67 L517.48 396.65 L517.69 395.31 L517.91 395.49 L518.12 396.02 L518.34 395.91 L518.55 396.33 L518.77 395.6 L518.98 396.07 L519.2 395.3 L519.42 395.52 L519.63 395.4 L519.85 395.15 L520.06 396.09 L520.28 396.33 L520.49 396.05 L520.71 396.09 L520.92 396.28 L521.14 396.42 L521.35 395.84 L521.57 395.55 L521.78 396.31 L522 395.81 L522.22 396.06 L522.43 397.45 L522.65 396.91 L522.86 397.4 L523.08 397.45 L523.29 397.65 L523.51 397.85 L523.72 398.04 L523.94 398.23 L524.15 398.43 L524.37 398.62 L524.58 398.82 L524.8 399.04 L525.02 399.26 L525.23 399.49 L525.45 399.74 L525.66 399.99 L525.88 400.26 L526.09 400.53 L526.31 400.81 L526.52 401.08 L526.74 401.33 L526.95 401.58 L527.17 401.85 L527.38 402.13 L527.6 402.42 L527.82 402.72 L528.03 403.03 L528.25 403.33 L528.46 403.63 L528.68 403.93 L528.89 404.21 L529.11 404.48 L529.32 404.73 L529.54 404.97 L529.75 405.2 L529.97 405.4 L530.18 405.59 L530.4 405.75 L530.62 405.91 L530.83 406.04 L531.05 406.16 L531.26 406.26 L531.48 406.35 L531.69 406.43 L531.91 406.5 L532.12 406.5 L532.34 406.5 L532.55 406.5 L532.77 406.5 L532.98 406.5 L533.2 406.5 L533.42 406.5 L533.63 406.5 L533.85 406.5 L534.06 406.5 L534.28 406.5 L534.49 406.5 L534.71 406.5 L534.92 406.5 L535.14 406.5 L535.35 406.5 L535.57 406.5 L535.78 406.5 L536 406.5 L536.22 406.5 L536.43 406.5 L536.65 406.5 L536.86 406.5 L537.08 406.5 L537.29 406.5 L537.51 406.5 L537.72 406.5 L537.94 406.5 L538.15 406.5 L538.37 406.5 L538.58 406.5 L538.8 406.5 L539.02 406.5 L539.23 406.5 L539.45 406.5 L539.66 406.5 L539.88 406.5 L540.09 406.5 L540.31 406.5 L540.52 406.5 L540.74 406.5 L540.95 406.5 L541.17 406.5 L541.38 406.5 L541.6 406.5 L541.82 406.5 L542.03 406.5 L542.25 406.5 L542.46 406.5 L542.68 406.5 L542.89 406.5 L543.11 406.5 L543.32 406.5 L543.54 406.5 L543.75 406.5 L543.97 406.5 L544.18 406.5 L544.4 406.5 L544.62 406.5 L544.83 406.5 L545.05 406.5 L545.26 406.5 L545.48 406.5 L545.69 406.5 L545.91 406.5" fill="none" stroke="#000" stroke-width="0.85"/>
<path d="M480 341.3 V406.5 H547" fill="none" stroke="#000" stroke-width="0.75"/>
<path d="M477.6 406.5 h2.4 M478.7 403.86 h1.3 M478.7 401.22 h1.3 M478.7 398.58 h1.3 M478.7 395.94 h1.3 M477.6 393.3 h2.4 M478.7 390.66 h1.3 M478.7 388.02 h1.3 M478.7 385.38 h1.3 M478.7 382.74 h1.3 M477.6 380.1 h2.4 M478.7 377.46 h1.3 M478.7 374.82 h1.3 M478.7 372.18 h1.3 M478.7 369.54 h1.3 M477.6 366.9 h2.4 M478.7 364.26 h1.3 M478.7 361.62 h1.3 M478.7 358.98 h1.3 M478.7 356.34 h1.3 M477.6 353.7 h2.4 M478.7 351.06 h1.3 M478.7 348.42 h1.3 M478.7 345.78 h1.3 M478.7 343.14 h1.3 M480.6 406.5 v1.9 M481.96 406.5 v1.1 M483.32 406.5 v1.1 M484.68 406.5 v1.1 M486.04 406.5 v1.1 M487.39 406.5 v1.1 M488.75 406.5 v1.1 M490.11 406.5 v1.1 M491.47 406.5 v1.9 M492.83 406.5 v1.1 M494.19 406.5 v1.1 M495.55 406.5 v1.1 M496.91 406.5 v1.1 M498.26 406.5 v1.1 M499.62 406.5 v1.1 M500.98 406.5 v1.1 M502.34 406.5 v1.9 M503.7 406.5 v1.1 M505.06 406.5 v1.1 M506.42 406.5 v1.1 M507.78 406.5 v1.1 M509.13 406.5 v1.1 M510.49 406.5 v1.1 M511.85 406.5 v1.1 M513.21 406.5 v1.9 M514.57 406.5 v1.1 M515.93 406.5 v1.1 M517.29 406.5 v1.1 M518.64 406.5 v1.1 M520 406.5 v1.1 M521.36 406.5 v1.1 M522.72 406.5 v1.1 M524.08 406.5 v1.9 M525.44 406.5 v1.1 M526.8 406.5 v1.1 M528.16 406.5 v1.1 M529.51 406.5 v1.1 M530.87 406.5 v1.1 M532.23 406.5 v1.1 M533.59 406.5 v1.1 M534.95 406.5 v1.9 M536.31 406.5 v1.1 M537.67 406.5 v1.1 M539.03 406.5 v1.1 M540.38 406.5 v1.1 M541.74 406.5 v1.1 M543.1 406.5 v1.1 M544.46 406.5 v1.1 M545.82 406.5 v1.9" stroke="#000" stroke-width="0.6" fill="none"/>
<text x="476.8" y="408.95" font-size="6.8" text-anchor="end" fill="#111">0</text>
<text x="476.8" y="395.75" font-size="6.8" text-anchor="end" fill="#111">200</text>
<text x="476.8" y="382.55" font-size="6.8" text-anchor="end" fill="#111">400</text>
<text x="476.8" y="369.35" font-size="6.8" text-anchor="end" fill="#111">600</text>
<text x="476.8" y="356.15" font-size="6.8" text-anchor="end" fill="#111">800</text>
<text x="480.6" y="415" font-size="6.8" text-anchor="middle" fill="#111">0</text>
<text x="491.47" y="415" font-size="6.8" text-anchor="middle" fill="#111">20</text>
<text x="502.34" y="415" font-size="6.8" text-anchor="middle" fill="#111">40</text>
<text x="513.21" y="415" font-size="6.8" text-anchor="middle" fill="#111">60</text>
<text x="524.08" y="415" font-size="6.8" text-anchor="middle" fill="#111">80</text>
<text x="534.95" y="415" font-size="6.8" text-anchor="middle" fill="#111">100</text>
<text x="545.82" y="415" font-size="6.8" text-anchor="middle" fill="#111">120</text>
<text x="511.2" y="338" font-size="5" font-weight="bold" text-anchor="middle" textLength="33.75" lengthAdjust="spacingAndGlyphs" stroke="#000" stroke-width="0.22">M2-OE-TGFBR3</text>
<text x="624.5" y="3.9" font-size="4.7" font-weight="bold" text-anchor="middle" stroke="#000" stroke-width="0.22">SUNE-1</text>
<rect x="576.3" y="7.3" width="6.9" height="3.5" rx="0.45" fill="#ffffff" stroke="#222" stroke-width="0.7"/>
<text x="585.4" y="10.7" font-size="4.65" font-weight="bold" textLength="11.84" lengthAdjust="spacingAndGlyphs" stroke="#000" stroke-width="0.22">Blank</text>
<rect x="576.3" y="14.4" width="6.9" height="3.5" rx="0.45" fill="#f5861f" stroke="#222" stroke-width="0.7"/>
<text x="585.2" y="17.8" font-size="4.65" font-weight="bold" textLength="22.48" lengthAdjust="spacingAndGlyphs" stroke="#000" stroke-width="0.22">mimics NC</text>
<rect x="576.3" y="21.5" width="6.9" height="3.5" rx="0.45" fill="#2b4d9c" stroke="#222" stroke-width="0.7"/>
<text x="586.8" y="24.9" font-size="4.65" font-weight="bold" textLength="33.12" lengthAdjust="spacingAndGlyphs" stroke="#000" stroke-width="0.22">miR-18a mimics</text>
<rect x="628.6" y="7.3" width="6.9" height="3.5" rx="0.45" fill="#8a3db5" stroke="#222" stroke-width="0.7"/>
<text x="638.8" y="10.7" font-size="4.65" font-weight="bold" textLength="11.36" lengthAdjust="spacingAndGlyphs" stroke="#000" stroke-width="0.22">si-NC</text>
<rect x="628.6" y="14.4" width="6.9" height="3.5" rx="0.45" fill="#e84545" stroke="#222" stroke-width="0.7"/>
<text x="638.8" y="17.8" font-size="4.65" font-weight="bold" textLength="22.48" lengthAdjust="spacingAndGlyphs" stroke="#000" stroke-width="0.22">si-TGFBR3</text>
<path d="M574.5 30 V90 H663.5" fill="none" stroke="#000" stroke-width="0.8"/>
<text x="572.3" y="91.5" font-size="4.2" font-weight="bold" text-anchor="end" fill="#222">0</text>
<text x="572.3" y="76.5" font-size="4.2" font-weight="bold" text-anchor="end" fill="#222">20</text>
<text x="572.3" y="61.5" font-size="4.2" font-weight="bold" text-anchor="end" fill="#222">40</text>
<text x="572.3" y="46.5" font-size="4.2" font-weight="bold" text-anchor="end" fill="#222">60</text>
<text x="572.3" y="31.5" font-size="4.2" font-weight="bold" text-anchor="end" fill="#222">80</text>
<path d="M572.9 90 h1.6 M572.9 75 h1.6 M572.9 60 h1.6 M572.9 45 h1.6 M572.9 30 h1.6 M589.39 90 v1.4 M619.19 90 v1.4 M649.59 90 v1.4" stroke="#000" stroke-width="0.6"/>
<text x="563.8" y="60" font-size="5" font-weight="bold" text-anchor="middle" textLength="55" lengthAdjust="spacingAndGlyphs" transform="rotate(-90 563.8 60)" stroke="#000" stroke-width="0.1">Cell cycle distribution(%)</text>
<path d="M578.55 39.9 V37.9 M577.65 37.9 h1.8" stroke="#000" stroke-width="0.55"/>
<rect x="576.7" y="39.9" width="3.7" height="50.1" fill="#ffffff" stroke="#1a1a1a" stroke-width="0.8"/>
<path d="M583.97 40.88 V38.88 M583.07 38.88 h1.8" stroke="#000" stroke-width="0.55"/>
<rect x="582.12" y="40.88" width="3.7" height="49.12" fill="#f5861f" stroke="#1a1a1a" stroke-width="0.8"/>
<path d="M589.39 53.78 V51.78 M588.49 51.78 h1.8" stroke="#000" stroke-width="0.55"/>
<rect x="587.54" y="53.78" width="3.7" height="36.22" fill="#2b4d9c" stroke="#1a1a1a" stroke-width="0.8"/>
<path d="M594.81 39.9 V37.9 M593.91 37.9 h1.8" stroke="#000" stroke-width="0.55"/>
<rect x="592.96" y="39.9" width="3.7" height="50.1" fill="#8a3db5" stroke="#1a1a1a" stroke-width="0.8"/>
<path d="M600.23 56.25 V54.25 M599.33 54.25 h1.8" stroke="#000" stroke-width="0.55"/>
<rect x="598.38" y="56.25" width="3.7" height="33.75" fill="#e84545" stroke="#1a1a1a" stroke-width="0.8"/>
<path d="M608.35 70.58 V69.08 M607.45 69.08 h1.8" stroke="#000" stroke-width="0.55"/>
<rect x="606.5" y="70.58" width="3.7" height="19.42" fill="#ffffff" stroke="#1a1a1a" stroke-width="0.8"/>
<path d="M613.77 69 V67.5 M612.87 67.5 h1.8" stroke="#000" stroke-width="0.55"/>
<rect x="611.92" y="69" width="3.7" height="21" fill="#f5861f" stroke="#1a1a1a" stroke-width="0.8"/>
<path d="M619.19 62.1 V60.6 M618.29 60.6 h1.8" stroke="#000" stroke-width="0.55"/>
<rect x="617.34" y="62.1" width="3.7" height="27.9" fill="#2b4d9c" stroke="#1a1a1a" stroke-width="0.8"/>
<path d="M624.61 70.2 V68.7 M623.71 68.7 h1.8" stroke="#000" stroke-width="0.55"/>
<rect x="622.76" y="70.2" width="3.7" height="19.8" fill="#8a3db5" stroke="#1a1a1a" stroke-width="0.8"/>
<path d="M630.03 61.12 V59.62 M629.13 59.62 h1.8" stroke="#000" stroke-width="0.55"/>
<rect x="628.18" y="61.12" width="3.7" height="28.88" fill="#e84545" stroke="#1a1a1a" stroke-width="0.8"/>
<path d="M638.75 84.08 V82.58 M637.85 82.58 h1.8" stroke="#000" stroke-width="0.55"/>
<rect x="636.9" y="84.08" width="3.7" height="5.93" fill="#ffffff" stroke="#1a1a1a" stroke-width="0.8"/>
<path d="M644.17 84.9 V83.4 M643.27 83.4 h1.8" stroke="#000" stroke-width="0.55"/>
<rect x="642.32" y="84.9" width="3.7" height="5.1" fill="#f5861f" stroke="#1a1a1a" stroke-width="0.8"/>
<path d="M649.59 78.97 V77.47 M648.69 77.47 h1.8" stroke="#000" stroke-width="0.55"/>
<rect x="647.74" y="78.97" width="3.7" height="11.02" fill="#2b4d9c" stroke="#1a1a1a" stroke-width="0.8"/>
<path d="M655.01 84.9 V83.4 M654.11 83.4 h1.8" stroke="#000" stroke-width="0.55"/>
<rect x="653.16" y="84.9" width="3.7" height="5.1" fill="#8a3db5" stroke="#1a1a1a" stroke-width="0.8"/>
<path d="M660.43 77.03 V75.53 M659.53 75.53 h1.8" stroke="#000" stroke-width="0.55"/>
<rect x="658.58" y="77.03" width="3.7" height="12.98" fill="#e84545" stroke="#1a1a1a" stroke-width="0.8"/>
<path d="M583.9 35.3 H590" stroke="#000" stroke-width="0.6"/>
<text x="586.95" y="34.8" font-size="5" font-weight="bold" text-anchor="middle" stroke="#000" stroke-width="0.15">**</text>
<path d="M593.9 34.9 H600.9" stroke="#000" stroke-width="0.6"/>
<text x="597.4" y="34.4" font-size="5" font-weight="bold" text-anchor="middle" stroke="#000" stroke-width="0.15">**</text>
<path d="M613 56.7 H619.5" stroke="#000" stroke-width="0.6"/>
<text x="616.25" y="56.2" font-size="5" font-weight="bold" text-anchor="middle" stroke="#000" stroke-width="0.15">**</text>
<path d="M624.4 56.7 H631.4" stroke="#000" stroke-width="0.6"/>
<text x="627.9" y="56.2" font-size="5" font-weight="bold" text-anchor="middle" stroke="#000" stroke-width="0.15">**</text>
<path d="M643.3 76.1 H649.8" stroke="#000" stroke-width="0.6"/>
<text x="646.55" y="75.6" font-size="5" font-weight="bold" text-anchor="middle" stroke="#000" stroke-width="0.15">**</text>
<path d="M654.2 76.1 H661.1" stroke="#000" stroke-width="0.6"/>
<text x="657.65" y="75.6" font-size="5" font-weight="bold" text-anchor="middle" stroke="#000" stroke-width="0.15">**</text>
<text x="591.2" y="95.4" font-size="4.6" font-weight="bold" text-anchor="end" transform="rotate(-45 591.2 95.4)" stroke="#000" stroke-width="0.22">G0/G1</text>
<text x="620.2" y="95.1" font-size="4.6" font-weight="bold" text-anchor="end" transform="rotate(-45 620.2 95.1)" stroke="#000" stroke-width="0.22">S</text>
<text x="650.7" y="95.4" font-size="4.6" font-weight="bold" text-anchor="end" transform="rotate(-45 650.7 95.4)" stroke="#000" stroke-width="0.22">G2/M</text>
<text x="624.5" y="112.6" font-size="4.7" font-weight="bold" text-anchor="middle" stroke="#000" stroke-width="0.22">CNE2</text>
<rect x="576.3" y="115.2" width="6.9" height="3.5" rx="0.45" fill="#ffffff" stroke="#222" stroke-width="0.7"/>
<text x="586.8" y="118.6" font-size="4.65" font-weight="bold" textLength="11.84" lengthAdjust="spacingAndGlyphs" stroke="#000" stroke-width="0.22">Blank</text>
<rect x="576.3" y="122.2" width="6.9" height="3.5" rx="0.45" fill="#f3e14a" stroke="#222" stroke-width="0.7"/>
<text x="586.8" y="125.6" font-size="4.65" font-weight="bold" textLength="27.31" lengthAdjust="spacingAndGlyphs" stroke="#000" stroke-width="0.22">inhibitors NC</text>
<rect x="576.3" y="129.2" width="6.9" height="3.5" rx="0.45" fill="#79c142" stroke="#222" stroke-width="0.7"/>
<text x="585.4" y="132.6" font-size="4.65" font-weight="bold" textLength="37.95" lengthAdjust="spacingAndGlyphs" stroke="#000" stroke-width="0.22">miR-18a inhibitors</text>
<rect x="628.6" y="115.2" width="6.9" height="3.5" rx="0.45" fill="#d25fc1" stroke="#222" stroke-width="0.7"/>
<text x="638.8" y="118.6" font-size="4.65" font-weight="bold" textLength="14.02" lengthAdjust="spacingAndGlyphs" stroke="#000" stroke-width="0.22">OE-NC</text>
<rect x="628.6" y="122.2" width="6.9" height="3.5" rx="0.45" fill="#3a8cab" stroke="#222" stroke-width="0.7"/>
<text x="638.8" y="125.6" font-size="4.65" font-weight="bold" textLength="25.13" lengthAdjust="spacingAndGlyphs" stroke="#000" stroke-width="0.22">OE-TGFBR3</text>
<path d="M574.5 137.3 V196.4 H663.5" fill="none" stroke="#000" stroke-width="0.8"/>
<text x="572.3" y="197.9" font-size="4.2" font-weight="bold" text-anchor="end" fill="#222">0</text>
<text x="572.3" y="186.08" font-size="4.2" font-weight="bold" text-anchor="end" fill="#222">20</text>
<text x="572.3" y="174.26" font-size="4.2" font-weight="bold" text-anchor="end" fill="#222">40</text>
<text x="572.3" y="162.44" font-size="4.2" font-weight="bold" text-anchor="end" fill="#222">60</text>
<text x="572.3" y="150.62" font-size="4.2" font-weight="bold" text-anchor="end" fill="#222">80</text>
<text x="572.3" y="138.8" font-size="4.2" font-weight="bold" text-anchor="end" fill="#222">100</text>
<path d="M572.9 196.4 h1.6 M572.9 184.58 h1.6 M572.9 172.76 h1.6 M572.9 160.94 h1.6 M572.9 149.12 h1.6 M572.9 137.3 h1.6 M589.39 196.4 v1.4 M619.19 196.4 v1.4 M649.59 196.4 v1.4" stroke="#000" stroke-width="0.6"/>
<text x="560" y="166.85" font-size="5" font-weight="bold" text-anchor="middle" textLength="59" lengthAdjust="spacingAndGlyphs" transform="rotate(-90 560 166.85)" stroke="#000" stroke-width="0.1">Cell cycle distribution(%)</text>
<path d="M578.55 164.07 V162.07 M577.65 162.07 h1.8" stroke="#000" stroke-width="0.55"/>
<rect x="576.7" y="164.07" width="3.7" height="32.33" fill="#ffffff" stroke="#1a1a1a" stroke-width="0.8"/>
<path d="M583.97 164.07 V162.07 M583.07 162.07 h1.8" stroke="#000" stroke-width="0.55"/>
<rect x="582.12" y="164.07" width="3.7" height="32.33" fill="#f3e14a" stroke="#1a1a1a" stroke-width="0.8"/>
<path d="M589.39 151.48 V149.48 M588.49 149.48 h1.8" stroke="#000" stroke-width="0.55"/>
<rect x="587.54" y="151.48" width="3.7" height="44.92" fill="#79c142" stroke="#1a1a1a" stroke-width="0.8"/>
<path d="M594.81 164.07 V162.07 M593.91 162.07 h1.8" stroke="#000" stroke-width="0.55"/>
<rect x="592.96" y="164.07" width="3.7" height="32.33" fill="#d25fc1" stroke="#1a1a1a" stroke-width="0.8"/>
<path d="M600.23 149.12 V147.12 M599.33 147.12 h1.8" stroke="#000" stroke-width="0.55"/>
<rect x="598.38" y="149.12" width="3.7" height="47.28" fill="#3a8cab" stroke="#1a1a1a" stroke-width="0.8"/>
<path d="M608.35 175.01 V173.51 M607.45 173.51 h1.8" stroke="#000" stroke-width="0.55"/>
<rect x="606.5" y="175.01" width="3.7" height="21.39" fill="#ffffff" stroke="#1a1a1a" stroke-width="0.8"/>
<path d="M613.77 174.18 V172.68 M612.87 172.68 h1.8" stroke="#000" stroke-width="0.55"/>
<rect x="611.92" y="174.18" width="3.7" height="22.22" fill="#f3e14a" stroke="#1a1a1a" stroke-width="0.8"/>
<path d="M619.19 182.98 V181.48 M618.29 181.48 h1.8" stroke="#000" stroke-width="0.55"/>
<rect x="617.34" y="182.98" width="3.7" height="13.42" fill="#79c142" stroke="#1a1a1a" stroke-width="0.8"/>
<path d="M624.61 174.59 V173.09 M623.71 173.09 h1.8" stroke="#000" stroke-width="0.55"/>
<rect x="622.76" y="174.59" width="3.7" height="21.81" fill="#d25fc1" stroke="#1a1a1a" stroke-width="0.8"/>
<path d="M630.03 186 V184.5 M629.13 184.5 h1.8" stroke="#000" stroke-width="0.55"/>
<rect x="628.18" y="186" width="3.7" height="10.4" fill="#3a8cab" stroke="#1a1a1a" stroke-width="0.8"/>
<path d="M638.75 190.9 V189.4 M637.85 189.4 h1.8" stroke="#000" stroke-width="0.55"/>
<rect x="636.9" y="190.9" width="3.7" height="5.5" fill="#ffffff" stroke="#1a1a1a" stroke-width="0.8"/>
<path d="M644.17 191.49 V189.99 M643.27 189.99 h1.8" stroke="#000" stroke-width="0.55"/>
<rect x="642.32" y="191.49" width="3.7" height="4.91" fill="#f3e14a" stroke="#1a1a1a" stroke-width="0.8"/>
<path d="M649.59 194.98 V193.48 M648.69 193.48 h1.8" stroke="#000" stroke-width="0.55"/>
<rect x="647.74" y="194.98" width="3.7" height="1.42" fill="#79c142" stroke="#1a1a1a" stroke-width="0.8"/>
<path d="M655.01 191.91 V190.41 M654.11 190.41 h1.8" stroke="#000" stroke-width="0.55"/>
<rect x="653.16" y="191.91" width="3.7" height="4.49" fill="#d25fc1" stroke="#1a1a1a" stroke-width="0.8"/>
<path d="M660.43 195.4 V193.9 M659.53 193.9 h1.8" stroke="#000" stroke-width="0.55"/>
<rect x="658.58" y="195.4" width="3.7" height="1" fill="#3a8cab" stroke="#1a1a1a" stroke-width="0.8"/>
<path d="M582.2 145.5 H589.2" stroke="#000" stroke-width="0.6"/>
<text x="585.7" y="145" font-size="5" font-weight="bold" text-anchor="middle" stroke="#000" stroke-width="0.15">**</text>
<path d="M593.9 144.5 H600.6" stroke="#000" stroke-width="0.6"/>
<text x="597.25" y="144" font-size="5" font-weight="bold" text-anchor="middle" stroke="#000" stroke-width="0.15">**</text>
<path d="M613 169.3 H619.5" stroke="#000" stroke-width="0.6"/>
<text x="616.25" y="168.8" font-size="5" font-weight="bold" text-anchor="middle" stroke="#000" stroke-width="0.15">**</text>
<path d="M624.4 169.3 H631.4" stroke="#000" stroke-width="0.6"/>
<text x="627.9" y="168.8" font-size="5" font-weight="bold" text-anchor="middle" stroke="#000" stroke-width="0.15">**</text>
<path d="M643.3 187.5 H649.8" stroke="#000" stroke-width="0.6"/>
<text x="646.55" y="187" font-size="5" font-weight="bold" text-anchor="middle" stroke="#000" stroke-width="0.15">*</text>
<path d="M654.2 187.5 H661.1" stroke="#000" stroke-width="0.6"/>
<text x="657.65" y="187" font-size="5" font-weight="bold" text-anchor="middle" stroke="#000" stroke-width="0.15">*</text>
<text x="588.7" y="202.6" font-size="4.6" font-weight="bold" text-anchor="end" transform="rotate(-45 588.7 202.6)" stroke="#000" stroke-width="0.22">G0/G1</text>
<text x="619.5" y="202.6" font-size="4.6" font-weight="bold" text-anchor="end" transform="rotate(-45 619.5 202.6)" stroke="#000" stroke-width="0.22">S</text>
<text x="649.2" y="202.6" font-size="4.6" font-weight="bold" text-anchor="end" transform="rotate(-45 649.2 202.6)" stroke="#000" stroke-width="0.22">G2/M</text>
<text x="624.5" y="220.2" font-size="4.7" font-weight="bold" text-anchor="middle" stroke="#000" stroke-width="0.22">SUNE-1</text>
<rect x="576.3" y="223.2" width="6.9" height="3.5" rx="0.45" fill="#ffffff" stroke="#222" stroke-width="0.7"/>
<text x="586.8" y="226.6" font-size="4.65" font-weight="bold" textLength="11.84" lengthAdjust="spacingAndGlyphs" stroke="#000" stroke-width="0.22">Blank</text>
<rect x="576.3" y="229.95" width="6.9" height="3.5" rx="0.45" fill="#7a7a7a" stroke="#222" stroke-width="0.7"/>
<text x="586.8" y="233.35" font-size="4.65" font-weight="bold" textLength="6.04" lengthAdjust="spacingAndGlyphs" stroke="#000" stroke-width="0.22">M2</text>
<rect x="576.3" y="236.7" width="6.9" height="3.5" rx="0.45" fill="#f5861f" stroke="#222" stroke-width="0.7"/>
<text x="585.4" y="240.1" font-size="4.65" font-weight="bold" textLength="29.97" lengthAdjust="spacingAndGlyphs" stroke="#000" stroke-width="0.22">M2-mimics NC</text>
<rect x="628.6" y="223.2" width="6.9" height="3.5" rx="0.45" fill="#2b4d9c" stroke="#222" stroke-width="0.7"/>
<text x="638.8" y="226.6" font-size="4.65" font-weight="bold" textLength="40.61" lengthAdjust="spacingAndGlyphs" stroke="#000" stroke-width="0.22">M2-miR-18a mimics</text>
<rect x="628.6" y="229.95" width="6.9" height="3.5" rx="0.45" fill="#8a3db5" stroke="#222" stroke-width="0.7"/>
<text x="638.8" y="233.35" font-size="4.65" font-weight="bold" textLength="18.85" lengthAdjust="spacingAndGlyphs" stroke="#000" stroke-width="0.22">M2-si-NC</text>
<rect x="628.6" y="236.7" width="6.9" height="3.5" rx="0.45" fill="#e84545" stroke="#222" stroke-width="0.7"/>
<text x="638.8" y="240.1" font-size="4.65" font-weight="bold" textLength="29.97" lengthAdjust="spacingAndGlyphs" stroke="#000" stroke-width="0.22">M2-si-TGFBR3</text>
<path d="M574.5 245.9 V304.8 H663.5" fill="none" stroke="#000" stroke-width="0.8"/>
<text x="572.3" y="306.3" font-size="4.2" font-weight="bold" text-anchor="end" fill="#222">0</text>
<text x="572.3" y="294.52" font-size="4.2" font-weight="bold" text-anchor="end" fill="#222">20</text>
<text x="572.3" y="282.74" font-size="4.2" font-weight="bold" text-anchor="end" fill="#222">40</text>
<text x="572.3" y="270.96" font-size="4.2" font-weight="bold" text-anchor="end" fill="#222">60</text>
<text x="572.3" y="259.18" font-size="4.2" font-weight="bold" text-anchor="end" fill="#222">80</text>
<text x="572.3" y="247.4" font-size="4.2" font-weight="bold" text-anchor="end" fill="#222">100</text>
<path d="M572.9 304.8 h1.6 M572.9 293.02 h1.6 M572.9 281.24 h1.6 M572.9 269.46 h1.6 M572.9 257.68 h1.6 M572.9 245.9 h1.6 M589.05 304.8 v1.4 M618.85 304.8 v1.4 M648.65 304.8 v1.4" stroke="#000" stroke-width="0.6"/>
<text x="560" y="275.35" font-size="5" font-weight="bold" text-anchor="middle" textLength="60" lengthAdjust="spacingAndGlyphs" transform="rotate(-90 560 275.35)" stroke="#000" stroke-width="0.1">Cell cycle distribution(%)</text>
<path d="M577.8 263.22 V261.22 M576.9 261.22 h1.8" stroke="#000" stroke-width="0.55"/>
<rect x="576.1" y="263.22" width="3.4" height="41.58" fill="#ffffff" stroke="#1a1a1a" stroke-width="0.7"/>
<path d="M582.3 270.28 V268.28 M581.4 268.28 h1.8" stroke="#000" stroke-width="0.55"/>
<rect x="580.6" y="270.28" width="3.4" height="34.52" fill="#7a7a7a" stroke="#1a1a1a" stroke-width="0.7"/>
<path d="M586.8 269.11 V267.11 M585.9 267.11 h1.8" stroke="#000" stroke-width="0.55"/>
<rect x="585.1" y="269.11" width="3.4" height="35.69" fill="#f5861f" stroke="#1a1a1a" stroke-width="0.7"/>
<path d="M591.3 277 V275 M590.4 275 h1.8" stroke="#000" stroke-width="0.55"/>
<rect x="589.6" y="277" width="3.4" height="27.8" fill="#2b4d9c" stroke="#1a1a1a" stroke-width="0.7"/>
<path d="M595.8 269.11 V267.11 M594.9 267.11 h1.8" stroke="#000" stroke-width="0.55"/>
<rect x="594.1" y="269.11" width="3.4" height="35.69" fill="#8a3db5" stroke="#1a1a1a" stroke-width="0.7"/>
<path d="M600.3 278 V276 M599.4 276 h1.8" stroke="#000" stroke-width="0.55"/>
<rect x="598.6" y="278" width="3.4" height="26.8" fill="#e84545" stroke="#1a1a1a" stroke-width="0.7"/>
<path d="M607.6 290.02 V288.52 M606.7 288.52 h1.8" stroke="#000" stroke-width="0.55"/>
<rect x="605.9" y="290.02" width="3.4" height="14.78" fill="#ffffff" stroke="#1a1a1a" stroke-width="0.7"/>
<path d="M612.1 286.19 V284.69 M611.2 284.69 h1.8" stroke="#000" stroke-width="0.55"/>
<rect x="610.4" y="286.19" width="3.4" height="18.61" fill="#7a7a7a" stroke="#1a1a1a" stroke-width="0.7"/>
<path d="M616.6 287.19 V285.69 M615.7 285.69 h1.8" stroke="#000" stroke-width="0.55"/>
<rect x="614.9" y="287.19" width="3.4" height="17.61" fill="#f5861f" stroke="#1a1a1a" stroke-width="0.7"/>
<path d="M621.1 282.59 V281.09 M620.2 281.09 h1.8" stroke="#000" stroke-width="0.55"/>
<rect x="619.4" y="282.59" width="3.4" height="22.21" fill="#2b4d9c" stroke="#1a1a1a" stroke-width="0.7"/>
<path d="M625.6 287.01 V285.51 M624.7 285.51 h1.8" stroke="#000" stroke-width="0.55"/>
<rect x="623.9" y="287.01" width="3.4" height="17.79" fill="#8a3db5" stroke="#1a1a1a" stroke-width="0.7"/>
<path d="M630.1 282.18 V280.68 M629.2 280.68 h1.8" stroke="#000" stroke-width="0.55"/>
<rect x="628.4" y="282.18" width="3.4" height="22.62" fill="#e84545" stroke="#1a1a1a" stroke-width="0.7"/>
<path d="M637.4 301.38 V299.88 M636.5 299.88 h1.8" stroke="#000" stroke-width="0.55"/>
<rect x="635.7" y="301.38" width="3.4" height="3.42" fill="#ffffff" stroke="#1a1a1a" stroke-width="0.7"/>
<path d="M641.9 298.03 V296.53 M641 296.53 h1.8" stroke="#000" stroke-width="0.55"/>
<rect x="640.2" y="298.03" width="3.4" height="6.77" fill="#7a7a7a" stroke="#1a1a1a" stroke-width="0.7"/>
<path d="M646.4 298.91 V297.41 M645.5 297.41 h1.8" stroke="#000" stroke-width="0.55"/>
<rect x="644.7" y="298.91" width="3.4" height="5.89" fill="#f5861f" stroke="#1a1a1a" stroke-width="0.7"/>
<path d="M650.9 294.9 V293.4 M650 293.4 h1.8" stroke="#000" stroke-width="0.55"/>
<rect x="649.2" y="294.9" width="3.4" height="9.9" fill="#2b4d9c" stroke="#1a1a1a" stroke-width="0.7"/>
<path d="M655.4 298.5 V297 M654.5 297 h1.8" stroke="#000" stroke-width="0.55"/>
<rect x="653.7" y="298.5" width="3.4" height="6.3" fill="#8a3db5" stroke="#1a1a1a" stroke-width="0.7"/>
<path d="M659.9 294.9 V293.4 M659 293.4 h1.8" stroke="#000" stroke-width="0.55"/>
<rect x="658.2" y="294.9" width="3.4" height="9.9" fill="#e84545" stroke="#1a1a1a" stroke-width="0.7"/>
<path d="M576.8 258.4 H582.8" stroke="#000" stroke-width="0.6"/>
<text x="579.8" y="257.9" font-size="5" font-weight="bold" text-anchor="middle" stroke="#000" stroke-width="0.15">**</text>
<path d="M585.7 263.4 H592.1" stroke="#000" stroke-width="0.6"/>
<text x="588.9" y="262.9" font-size="5" font-weight="bold" text-anchor="middle" stroke="#000" stroke-width="0.15">**</text>
<path d="M594.7 263.4 H601.2" stroke="#000" stroke-width="0.6"/>
<text x="597.95" y="262.9" font-size="5" font-weight="bold" text-anchor="middle" stroke="#000" stroke-width="0.15">**</text>
<path d="M606.2 283.2 H612.5" stroke="#000" stroke-width="0.6"/>
<text x="609.35" y="282.7" font-size="5" font-weight="bold" text-anchor="middle" stroke="#000" stroke-width="0.15">*</text>
<path d="M615.5 278.3 H622" stroke="#000" stroke-width="0.6"/>
<text x="618.75" y="277.8" font-size="5" font-weight="bold" text-anchor="middle" stroke="#000" stroke-width="0.15">**</text>
<path d="M624.4 278.3 H631.4" stroke="#000" stroke-width="0.6"/>
<text x="627.9" y="277.8" font-size="5" font-weight="bold" text-anchor="middle" stroke="#000" stroke-width="0.15">**</text>
<path d="M636 294.1 H642.3" stroke="#000" stroke-width="0.6"/>
<text x="639.15" y="293.6" font-size="5" font-weight="bold" text-anchor="middle" stroke="#000" stroke-width="0.15">*</text>
<path d="M645.2 291.5 H651.2" stroke="#000" stroke-width="0.6"/>
<text x="648.2" y="291" font-size="5" font-weight="bold" text-anchor="middle" stroke="#000" stroke-width="0.15">*</text>
<path d="M654.2 291.5 H661.7" stroke="#000" stroke-width="0.6"/>
<text x="657.95" y="291" font-size="5" font-weight="bold" text-anchor="middle" stroke="#000" stroke-width="0.15">*</text>
<text x="586.2" y="310.6" font-size="4.6" font-weight="bold" text-anchor="end" transform="rotate(-45 586.2 310.6)" stroke="#000" stroke-width="0.22">G0/G1</text>
<text x="619" y="311.6" font-size="4.6" font-weight="bold" text-anchor="end" transform="rotate(-45 619 311.6)" stroke="#000" stroke-width="0.22">S</text>
<text x="646.2" y="310.6" font-size="4.6" font-weight="bold" text-anchor="end" transform="rotate(-45 646.2 310.6)" stroke="#000" stroke-width="0.22">G2/M</text>
<text x="624.5" y="329.9" font-size="4.7" font-weight="bold" text-anchor="middle" stroke="#000" stroke-width="0.22">CNE2</text>
<rect x="576.3" y="331.7" width="6.9" height="3.5" rx="0.45" fill="#ffffff" stroke="#222" stroke-width="0.7"/>
<text x="586.8" y="335.1" font-size="4.65" font-weight="bold" textLength="11.84" lengthAdjust="spacingAndGlyphs" stroke="#000" stroke-width="0.22">Blank</text>
<rect x="576.3" y="338.6" width="6.9" height="3.5" rx="0.45" fill="#7a7a7a" stroke="#222" stroke-width="0.7"/>
<text x="586.8" y="342" font-size="4.65" font-weight="bold" textLength="6.04" lengthAdjust="spacingAndGlyphs" stroke="#000" stroke-width="0.22">M2</text>
<rect x="576.3" y="345.5" width="6.9" height="3.5" rx="0.45" fill="#f3e14a" stroke="#222" stroke-width="0.7"/>
<text x="585.4" y="348.9" font-size="4.65" font-weight="bold" textLength="34.8" lengthAdjust="spacingAndGlyphs" stroke="#000" stroke-width="0.22">M2-inhibitors NC</text>
<rect x="628.6" y="331.7" width="6.9" height="3.5" rx="0.45" fill="#79c142" stroke="#222" stroke-width="0.7"/>
<text x="638.8" y="335.1" font-size="4.65" font-weight="bold" textLength="45.44" lengthAdjust="spacingAndGlyphs" stroke="#000" stroke-width="0.22">M2-miR-18a inhibitors</text>
<rect x="628.6" y="338.6" width="6.9" height="3.5" rx="0.45" fill="#d25fc1" stroke="#222" stroke-width="0.7"/>
<text x="638.8" y="342" font-size="4.65" font-weight="bold" textLength="21.51" lengthAdjust="spacingAndGlyphs" stroke="#000" stroke-width="0.22">M2-OE-NC</text>
<rect x="628.6" y="345.5" width="6.9" height="3.5" rx="0.45" fill="#3a8cab" stroke="#222" stroke-width="0.7"/>
<text x="638.8" y="348.9" font-size="4.65" font-weight="bold" textLength="32.62" lengthAdjust="spacingAndGlyphs" stroke="#000" stroke-width="0.22">M2-OE-TGFBR3</text>
<path d="M574.5 354.3 V414 H663.5" fill="none" stroke="#000" stroke-width="0.8"/>
<text x="572.3" y="415.5" font-size="4.2" font-weight="bold" text-anchor="end" fill="#222">0</text>
<text x="572.3" y="400.57" font-size="4.2" font-weight="bold" text-anchor="end" fill="#222">20</text>
<text x="572.3" y="385.65" font-size="4.2" font-weight="bold" text-anchor="end" fill="#222">40</text>
<text x="572.3" y="370.73" font-size="4.2" font-weight="bold" text-anchor="end" fill="#222">60</text>
<text x="572.3" y="355.8" font-size="4.2" font-weight="bold" text-anchor="end" fill="#222">80</text>
<path d="M572.9 414 h1.6 M572.9 399.07 h1.6 M572.9 384.15 h1.6 M572.9 369.23 h1.6 M572.9 354.3 h1.6 M589.25 414 v1.4 M619.05 414 v1.4 M648.85 414 v1.4" stroke="#000" stroke-width="0.6"/>
<text x="563.8" y="384.15" font-size="5" font-weight="bold" text-anchor="middle" textLength="57" lengthAdjust="spacingAndGlyphs" transform="rotate(-90 563.8 384.15)" stroke="#000" stroke-width="0.1">Cell cycle distribution(%)</text>
<path d="M578 369.37 V367.37 M577.1 367.37 h1.8" stroke="#000" stroke-width="0.55"/>
<rect x="576.3" y="369.37" width="3.4" height="44.63" fill="#ffffff" stroke="#1a1a1a" stroke-width="0.7"/>
<path d="M582.5 379.3 V377.3 M581.6 377.3 h1.8" stroke="#000" stroke-width="0.55"/>
<rect x="580.8" y="379.3" width="3.4" height="34.7" fill="#7a7a7a" stroke="#1a1a1a" stroke-width="0.7"/>
<path d="M587 380.12 V378.12 M586.1 378.12 h1.8" stroke="#000" stroke-width="0.55"/>
<rect x="585.3" y="380.12" width="3.4" height="33.88" fill="#f3e14a" stroke="#1a1a1a" stroke-width="0.7"/>
<path d="M591.5 370.79 V368.79 M590.6 368.79 h1.8" stroke="#000" stroke-width="0.55"/>
<rect x="589.8" y="370.79" width="3.4" height="43.21" fill="#79c142" stroke="#1a1a1a" stroke-width="0.7"/>
<path d="M596 378.7 V376.7 M595.1 376.7 h1.8" stroke="#000" stroke-width="0.55"/>
<rect x="594.3" y="378.7" width="3.4" height="35.3" fill="#d25fc1" stroke="#1a1a1a" stroke-width="0.7"/>
<path d="M600.5 367.36 V365.36 M599.6 365.36 h1.8" stroke="#000" stroke-width="0.55"/>
<rect x="598.8" y="367.36" width="3.4" height="46.64" fill="#3a8cab" stroke="#1a1a1a" stroke-width="0.7"/>
<path d="M607.8 392.21 V390.71 M606.9 390.71 h1.8" stroke="#000" stroke-width="0.55"/>
<rect x="606.1" y="392.21" width="3.4" height="21.79" fill="#ffffff" stroke="#1a1a1a" stroke-width="0.7"/>
<path d="M612.3 387.21 V385.71 M611.4 385.71 h1.8" stroke="#000" stroke-width="0.55"/>
<rect x="610.6" y="387.21" width="3.4" height="26.79" fill="#7a7a7a" stroke="#1a1a1a" stroke-width="0.7"/>
<path d="M616.8 387.21 V385.71 M615.9 385.71 h1.8" stroke="#000" stroke-width="0.55"/>
<rect x="615.1" y="387.21" width="3.4" height="26.79" fill="#f3e14a" stroke="#1a1a1a" stroke-width="0.7"/>
<path d="M621.3 392.21 V390.71 M620.4 390.71 h1.8" stroke="#000" stroke-width="0.55"/>
<rect x="619.6" y="392.21" width="3.4" height="21.79" fill="#79c142" stroke="#1a1a1a" stroke-width="0.7"/>
<path d="M625.8 387.21 V385.71 M624.9 385.71 h1.8" stroke="#000" stroke-width="0.55"/>
<rect x="624.1" y="387.21" width="3.4" height="26.79" fill="#d25fc1" stroke="#1a1a1a" stroke-width="0.7"/>
<path d="M630.3 394.22 V392.72 M629.4 392.72 h1.8" stroke="#000" stroke-width="0.55"/>
<rect x="628.6" y="394.22" width="3.4" height="19.78" fill="#3a8cab" stroke="#1a1a1a" stroke-width="0.7"/>
<path d="M637.6 407.13 V405.63 M636.7 405.63 h1.8" stroke="#000" stroke-width="0.55"/>
<rect x="635.9" y="407.13" width="3.4" height="6.87" fill="#ffffff" stroke="#1a1a1a" stroke-width="0.7"/>
<path d="M642.1 402.06 V400.56 M641.2 400.56 h1.8" stroke="#000" stroke-width="0.55"/>
<rect x="640.4" y="402.06" width="3.4" height="11.94" fill="#7a7a7a" stroke="#1a1a1a" stroke-width="0.7"/>
<path d="M646.6 401.46 V399.96 M645.7 399.96 h1.8" stroke="#000" stroke-width="0.55"/>
<rect x="644.9" y="401.46" width="3.4" height="12.54" fill="#f3e14a" stroke="#1a1a1a" stroke-width="0.7"/>
<path d="M651.1 406.54 V405.04 M650.2 405.04 h1.8" stroke="#000" stroke-width="0.55"/>
<rect x="649.4" y="406.54" width="3.4" height="7.46" fill="#79c142" stroke="#1a1a1a" stroke-width="0.7"/>
<path d="M655.6 402.06 V400.56 M654.7 400.56 h1.8" stroke="#000" stroke-width="0.55"/>
<rect x="653.9" y="402.06" width="3.4" height="11.94" fill="#d25fc1" stroke="#1a1a1a" stroke-width="0.7"/>
<path d="M660.1 407.51 V406.01 M659.2 406.01 h1.8" stroke="#000" stroke-width="0.55"/>
<rect x="658.4" y="407.51" width="3.4" height="6.49" fill="#3a8cab" stroke="#1a1a1a" stroke-width="0.7"/>
<path d="M576.8 362.3 H582.8" stroke="#000" stroke-width="0.6"/>
<text x="579.8" y="361.8" font-size="5" font-weight="bold" text-anchor="middle" stroke="#000" stroke-width="0.15">**</text>
<path d="M585.7 362.3 H592.1" stroke="#000" stroke-width="0.6"/>
<text x="588.9" y="361.8" font-size="5" font-weight="bold" text-anchor="middle" stroke="#000" stroke-width="0.15">**</text>
<path d="M594.7 362.3 H601.2" stroke="#000" stroke-width="0.6"/>
<text x="597.95" y="361.8" font-size="5" font-weight="bold" text-anchor="middle" stroke="#000" stroke-width="0.15">**</text>
<path d="M606.2 382.7 H612.5" stroke="#000" stroke-width="0.6"/>
<text x="609.35" y="382.2" font-size="5" font-weight="bold" text-anchor="middle" stroke="#000" stroke-width="0.15">*</text>
<path d="M615.5 382.7 H622" stroke="#000" stroke-width="0.6"/>
<text x="618.75" y="382.2" font-size="5" font-weight="bold" text-anchor="middle" stroke="#000" stroke-width="0.15">*</text>
<path d="M624.4 382.7 H631.4" stroke="#000" stroke-width="0.6"/>
<text x="627.9" y="382.2" font-size="5" font-weight="bold" text-anchor="middle" stroke="#000" stroke-width="0.15">**</text>
<path d="M636 397.6 H642.3" stroke="#000" stroke-width="0.6"/>
<text x="639.15" y="397.1" font-size="5" font-weight="bold" text-anchor="middle" stroke="#000" stroke-width="0.15">*</text>
<path d="M645.2 397.6 H651.2" stroke="#000" stroke-width="0.6"/>
<text x="648.2" y="397.1" font-size="5" font-weight="bold" text-anchor="middle" stroke="#000" stroke-width="0.15">*</text>
<path d="M654.2 398.8 H661.7" stroke="#000" stroke-width="0.6"/>
<text x="657.95" y="398.3" font-size="5" font-weight="bold" text-anchor="middle" stroke="#000" stroke-width="0.15">*</text>
<text x="589.5" y="418.6" font-size="4.6" font-weight="bold" text-anchor="end" transform="rotate(-45 589.5 418.6)" stroke="#000" stroke-width="0.22">G0/G1</text>
<text x="619.5" y="420.5" font-size="4.6" font-weight="bold" text-anchor="end" transform="rotate(-45 619.5 420.5)" stroke="#000" stroke-width="0.22">S</text>
<text x="649.2" y="420.1" font-size="4.6" font-weight="bold" text-anchor="end" transform="rotate(-45 649.2 420.1)" stroke="#000" stroke-width="0.22">G2/M</text>
<circle cx="463.4" cy="402.8" r="0.5" fill="#555"/>
</svg>
</body></html>
